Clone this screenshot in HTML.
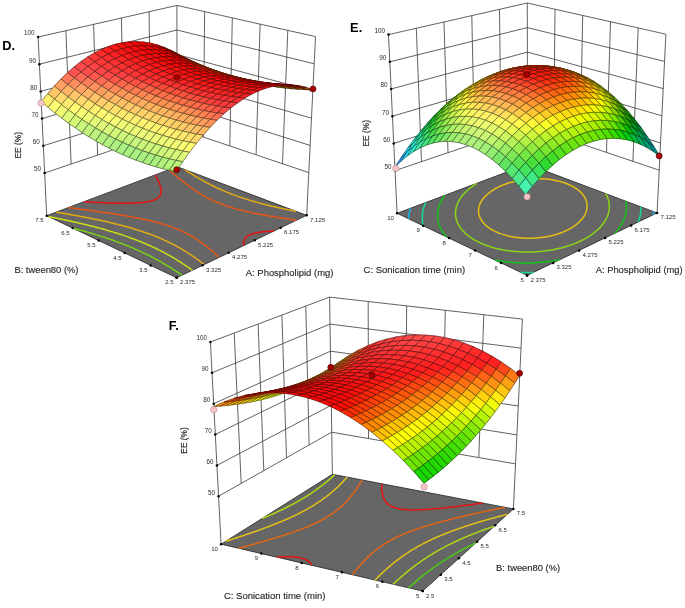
<!DOCTYPE html>
<html><head><meta charset="utf-8"><style>
html,body{margin:0;padding:0;background:#fff;}
body{width:685px;height:608px;overflow:hidden;font-family:"Liberation Sans",sans-serif;}
svg{display:block;filter:blur(0.4px);}
</style></head><body>
<svg width="685" height="608" viewBox="0 0 685 608" font-family="&quot;Liberation Sans&quot;, sans-serif">
<rect width="100%" height="100%" fill="#fff"/>
<polyline points="44.6,173 177.1,128.2 308.8,172.6" stroke="#3a3a3a" stroke-width="0.8" fill="none"/>
<polyline points="43.3,145.8 177,103.6 310.1,145.4" stroke="#3a3a3a" stroke-width="0.8" fill="none"/>
<polyline points="42,118.6 177,79.1 311.5,118.2" stroke="#3a3a3a" stroke-width="0.8" fill="none"/>
<polyline points="40.7,91.4 177,54.5 312.8,91" stroke="#3a3a3a" stroke-width="0.8" fill="none"/>
<polyline points="39.4,64.2 176.9,30 314.2,63.8" stroke="#3a3a3a" stroke-width="0.8" fill="none"/>
<polyline points="38.1,37 176.9,5.4 315.5,36.6" stroke="#3a3a3a" stroke-width="0.8" fill="none"/>
<line x1="71.1" y1="164" x2="65.9" y2="30.7" stroke="#3a3a3a" stroke-width="0.8" fill="none"/>
<line x1="282.5" y1="163.7" x2="287.8" y2="30.4" stroke="#3a3a3a" stroke-width="0.8" fill="none"/>
<line x1="97.6" y1="155.1" x2="93.6" y2="24.4" stroke="#3a3a3a" stroke-width="0.8" fill="none"/>
<line x1="256.1" y1="154.8" x2="260.1" y2="24.1" stroke="#3a3a3a" stroke-width="0.8" fill="none"/>
<line x1="124.1" y1="146.1" x2="121.4" y2="18" stroke="#3a3a3a" stroke-width="0.8" fill="none"/>
<line x1="229.8" y1="145.9" x2="232.3" y2="17.9" stroke="#3a3a3a" stroke-width="0.8" fill="none"/>
<line x1="150.6" y1="137.1" x2="149.1" y2="11.7" stroke="#3a3a3a" stroke-width="0.8" fill="none"/>
<line x1="203.4" y1="137" x2="204.6" y2="11.6" stroke="#3a3a3a" stroke-width="0.8" fill="none"/>
<line x1="46.7" y1="215.7" x2="38.1" y2="37" stroke="#3a3a3a" stroke-width="0.8" fill="none"/>
<line x1="177.1" y1="166.7" x2="176.9" y2="5.4" stroke="#3a3a3a" stroke-width="0.8" fill="none"/>
<line x1="306.7" y1="215.3" x2="315.5" y2="36.6" stroke="#3a3a3a" stroke-width="0.8" fill="none"/>
<polygon points="176.7,277.8 46.7,215.7 177.1,166.7 306.7,215.3" fill="#666666" stroke="#222" stroke-width="0.8"/>
<polyline points="72.5,228 72.8,228.1 73.6,228.3 74.5,228.5 75.1,228.7 75.4,228.8 76.2,229 77.1,229.2 77.8,229.4 77.9,229.5 78.8,229.7 79.6,229.9 80.5,230.1 80.6,230.2 81.3,230.4 82.2,230.6 83,230.8 83.5,231 83.8,231.1 84.7,231.3 85.5,231.5 86.3,231.8 86.4,231.8 87.2,232 88,232.3 88.8,232.5 89.5,232.7 89.6,232.7 90.4,233 91.3,233.2 92.1,233.5 92.8,233.7 92.9,233.7 93.7,233.9 94.5,234.2 95.3,234.4 96.1,234.7 96.2,234.7 96.9,234.9 97.7,235.2 98.5,235.4 99.3,235.7 99.8,235.8 100.1,235.9 100.9,236.2 101.6,236.4 102.4,236.7 103.2,236.9 103.6,237.1 104,237.2 104.7,237.4 105.5,237.7 106.3,237.9 107.1,238.2 107.8,238.5 107.8,238.5 108.6,238.7 109.3,239 110.1,239.2 110.8,239.5 111.6,239.8 112.4,240 112.4,240.1 113.1,240.3 113.8,240.6 114.6,240.8 115.3,241.1 116.1,241.4 116.8,241.6 117.5,241.9 117.8,242 118.3,242.2 119,242.5 119.7,242.7 120.4,243 121.2,243.3 121.9,243.6 122.6,243.8 123.3,244.1 124,244.4 124.6,244.6 124.7,244.7 125.4,245 126.1,245.2 126.8,245.5 127.5,245.8 128.2,246.1 128.9,246.4 129.6,246.7 130.3,247 131,247.2 131.7,247.5 132.4,247.8 133.1,248.1 133.7,248.4 134.4,248.7 135.1,249 135.8,249.3 136,249.4 136.4,249.6 137.1,249.9 137.8,250.2 138.4,250.5 139.1,250.8 139.7,251.1 140.4,251.4 141.1,251.7 141.7,252 142.4,252.3 143,252.6 143.6,252.9 144.3,253.2 144.9,253.5 145.6,253.8 146.2,254.2 146.8,254.5 147.5,254.8 148,255 148.1,255.1 148.7,255.4 149.4,255.7 150,256 150.6,256.4 151.2,256.7 151.8,257 152.5,257.3 153.1,257.6 153.7,258 154.3,258.3 154.9,258.6 155.5,258.9 156.1,259.3 156.7,259.6 157.3,259.9 157.9,260.2 158.5,260.6 158.7,260.7 159.1,260.9 159.7,261.2 160.3,261.6 160.9,261.9 161.5,262.2 162.1,262.6 162.6,262.9 163.2,263.3 163.8,263.6 164.4,263.9 164.6,264.1 165,264.3 165.5,264.6 166.1,265 166.7,265.3 167.2,265.6 167.8,266 168.4,266.3 168.9,266.7 169.2,266.8 169.5,267 170.1,267.4 170.6,267.7 171.2,268.1 171.7,268.4 172.3,268.8 172.8,269.1 173.1,269.3 173.4,269.5 173.9,269.8 174.5,270.2 175,270.5 175.6,270.9 176.1,271.3 176.5,271.5 176.7,271.6 177.2,272 177.7,272.3 178.3,272.7 178.8,273.1 179.4,273.4 179.6,273.6 179.9,273.8 180.4,274.2 180.9,274.5 181.5,274.9 182,275.3" fill="none" stroke="#78d214" stroke-width="1.5"/>
<polyline points="48.7,216.7 49.6,216.8 50.6,217 50.7,217.1 51.5,217.2 52.5,217.4 52.7,217.4 53.5,217.6 54.4,217.8 54.7,217.8 55.4,218 56.3,218.2 56.7,218.2 57.3,218.4 58.2,218.6 58.8,218.7 59.2,218.7 60.1,218.9 60.8,219.1 61.1,219.1 62,219.3 62.9,219.5 63,219.5 63.9,219.7 64.8,219.9 65.1,220 65.8,220.1 66.7,220.3 67.2,220.4 67.6,220.5 68.6,220.7 69.4,220.9 69.5,220.9 70.4,221.1 71.3,221.3 71.6,221.4 72.3,221.5 73.2,221.7 73.8,221.9 74.1,221.9 75,222.1 75.9,222.3 76.1,222.4 76.8,222.5 77.7,222.7 78.4,222.9 78.6,223 79.5,223.2 80.4,223.4 80.8,223.5 81.3,223.6 82.2,223.8 83.1,224 83.2,224 84,224.2 84.9,224.4 85.7,224.6 85.7,224.6 86.6,224.8 87.5,225.1 88.2,225.2 88.4,225.3 89.2,225.5 90.1,225.7 90.8,225.9 91,225.9 91.8,226.1 92.7,226.4 93.4,226.5 93.6,226.6 94.4,226.8 95.3,227 96.1,227.2 96.1,227.3 97,227.5 97.8,227.7 98.7,227.9 99,228 99.5,228.1 100.3,228.4 101.2,228.6 101.9,228.8 102,228.8 102.8,229.1 103.7,229.3 104.5,229.5 104.9,229.6 105.3,229.7 106.1,230 106.9,230.2 107.8,230.4 108.1,230.6 108.6,230.7 109.4,230.9 110.2,231.2 111,231.4 111.5,231.6 111.8,231.6 112.6,231.9 113.4,232.1 114.2,232.4 115,232.6 115.1,232.7 115.7,232.8 116.5,233.1 117.3,233.3 118.1,233.6 118.9,233.8 119,233.9 119.6,234.1 120.4,234.3 121.2,234.6 121.9,234.8 122.7,235.1 123.3,235.3 123.5,235.4 124.2,235.6 125,235.9 125.7,236.1 126.5,236.4 127.2,236.6 127.9,236.9 128.2,237 128.7,237.2 129.4,237.4 130.2,237.7 130.9,238 131.6,238.2 132.3,238.5 133.1,238.8 133.8,239 134.2,239.2 134.5,239.3 135.2,239.6 135.9,239.8 136.6,240.1 137.4,240.4 138.1,240.7 138.8,240.9 139.5,241.2 140.2,241.5 140.8,241.8 141.5,242.1 142.2,242.3 142.9,242.6 143.2,242.8 143.6,242.9 144.3,243.2 145,243.5 145.6,243.8 146.3,244.1 147,244.4 147.6,244.7 148.3,244.9 149,245.2 149.6,245.5 150.3,245.8 150.9,246.1 151.6,246.4 152.2,246.7 152.9,247 153.5,247.3 154.2,247.6 154.8,247.9 155.5,248.2 156.1,248.5 156.7,248.8 157.4,249.2 158,249.5 158.6,249.8 159.2,250.1 159.9,250.4 160.5,250.7 160.5,250.7 161.1,251 161.7,251.3 162.3,251.7 162.9,252 163.5,252.3 164.1,252.6 164.7,252.9 165.3,253.3 165.9,253.6 166.5,253.9 167.1,254.2 167.7,254.6 168.3,254.9 168.7,255.1 168.9,255.2 169.5,255.5 170.1,255.9 170.6,256.2 171.2,256.5 171.8,256.9 172.4,257.2 172.9,257.5 173.5,257.9 173.9,258.1 174.1,258.2 174.7,258.6 175.2,258.9 175.8,259.2 176.3,259.6 176.9,259.9 177.5,260.3 178,260.6 178,260.6 178.6,261 179.1,261.3 179.7,261.7 180.2,262 180.8,262.4 181.3,262.7 181.5,262.9 181.8,263.1 182.4,263.4 182.9,263.8 183.5,264.1 184,264.5 184.5,264.8 184.6,264.9 185.1,265.2 185.6,265.5 186.1,265.9 186.6,266.3 187.2,266.6 187.4,266.8 187.7,267 188.2,267.4 188.7,267.7 189.2,268.1 189.8,268.4 190,268.6 190.3,268.8 190.8,269.2 191.3,269.5 191.8,269.9 192.3,270.3" fill="none" stroke="#cce014" stroke-width="1.5"/>
<polyline points="296.2,211.4 295.5,211.2 294.7,211.1 293.9,210.9 293.2,210.8 293.1,210.8 292.3,210.6 291.4,210.4 290.6,210.3 290,210.1 289.8,210.1 289,209.9 288.2,209.8 287.4,209.6 286.8,209.5 286.5,209.4 285.7,209.3 284.9,209.1 284.1,208.9 283.5,208.8 283.3,208.8 282.5,208.6 281.7,208.4 280.9,208.2 280.1,208.1 280.1,208.1 279.3,207.9 278.5,207.7 277.7,207.5 276.9,207.3 276.6,207.3 276.1,207.2 275.4,207 274.6,206.8 273.8,206.6 273,206.4 272.9,206.4 272.2,206.3 271.4,206.1 270.7,205.9 269.9,205.7 269.1,205.5 269,205.5 268.3,205.3 267.6,205.1 266.8,204.9 266,204.7 265.3,204.5 264.8,204.4 264.5,204.4 263.8,204.2 263,204 262.2,203.8 261.5,203.6 260.7,203.4 260.2,203.2 260,203.2 259.2,203 258.5,202.8 257.8,202.6 257,202.3 256.3,202.1 255.6,201.9 254.9,201.8 254.8,201.7 254.1,201.5 253.4,201.3 252.6,201.1 251.9,200.9 251.2,200.7 250.5,200.4 249.8,200.2 249,200 248.5,199.8 248.3,199.8 247.6,199.6 246.9,199.3 246.2,199.1 245.5,198.9 244.8,198.7 244.1,198.4 243.4,198.2 242.7,198 242,197.8 241.4,197.5 240.7,197.3 240,197.1 239.3,196.8 238.6,196.6 238.1,196.4 238,196.4 237.3,196.1 236.6,195.9 236,195.6 235.3,195.4 234.6,195.2 234,194.9 233.3,194.7 232.7,194.4 232,194.2 231.4,193.9 230.7,193.7 230.1,193.4 229.5,193.2 228.8,192.9 228.2,192.7 227.6,192.4 226.9,192.2 226.3,191.9 226.1,191.8 225.7,191.6 225.1,191.4 224.4,191.1 223.8,190.9 223.2,190.6 222.6,190.3 222,190.1 221.4,189.8 220.8,189.5 220.2,189.3 219.6,189 219,188.7 218.4,188.5 217.8,188.2 217.2,187.9 217,187.8 216.6,187.7 216,187.4 215.5,187.1 214.9,186.8 214.3,186.6 213.7,186.3 213.2,186 212.6,185.7 212,185.4 211.9,185.4 211.5,185.2 210.9,184.9 210.3,184.6 209.8,184.3 209.2,184 208.7,183.7 208.1,183.5 207.9,183.3 207.6,183.2 207,182.9 206.5,182.6 205.9,182.3 205.4,182 204.9,181.7 204.6,181.6 204.3,181.4 203.8,181.1 203.3,180.8 202.7,180.6 202.2,180.3 201.7,180 201.6,179.9 201.2,179.7 200.6,179.4 200.1,179.1 199.6,178.8 199.1,178.5 199,178.4 198.6,178.2 198.1,177.9 197.6,177.6 197,177.3 196.6,177 196.5,177 196,176.7 195.5,176.4 195,176.1 194.5,175.8 194.4,175.7 194,175.5 193.5,175.2 193,174.9 192.6,174.6 192.3,174.4 192.1,174.2 191.6,173.9 191.1,173.6 190.6,173.3 190.3,173.1 190.1,173 189.6,172.7 189.2,172.4 188.7,172.1 188.4,171.9 188.2,171.8 187.7,171.5 187.2,171.2 186.8,170.9 186.6,170.8 186.3,170.5 185.8,170.2 185.4,169.9 184.9,169.6" fill="none" stroke="#e5aa14" stroke-width="1.5"/>
<polyline points="56.2,212.1 57.1,212.3 57.2,212.3 58.2,212.5 58.9,212.6 59.2,212.7 60.2,212.8 60.7,212.9 61.2,213 62.2,213.2 62.5,213.2 63.2,213.3 64.2,213.5 64.4,213.5 65.2,213.7 66.2,213.8 66.3,213.8 67.2,214 68.1,214.2 68.2,214.2 69.2,214.4 70,214.5 70.2,214.5 71.2,214.7 72,214.8 72.2,214.9 73.1,215.1 73.9,215.2 74.1,215.2 75.1,215.4 75.8,215.5 76.1,215.6 77,215.8 77.8,215.9 78,215.9 79,216.1 79.8,216.3 79.9,216.3 80.9,216.5 81.8,216.6 81.9,216.7 82.8,216.8 83.8,217 83.8,217 84.7,217.2 85.7,217.4 85.9,217.4 86.6,217.6 87.6,217.8 88,217.8 88.5,217.9 89.5,218.1 90.1,218.3 90.4,218.3 91.3,218.5 92.2,218.7 92.3,218.7 93.2,218.9 94.1,219.1 94.4,219.1 95,219.3 96,219.4 96.6,219.6 96.9,219.6 97.8,219.8 98.7,220 98.9,220.1 99.6,220.2 100.5,220.4 101.1,220.5 101.4,220.6 102.3,220.8 103.2,221 103.5,221.1 104.1,221.2 105,221.4 105.9,221.6 105.9,221.6 106.8,221.8 107.7,222 108.3,222.1 108.6,222.2 109.5,222.4 110.3,222.6 110.8,222.7 111.2,222.8 112.1,223 112.9,223.2 113.4,223.3 113.8,223.4 114.7,223.7 115.5,223.9 116.1,224 116.4,224.1 117.2,224.3 118.1,224.5 118.8,224.7 118.9,224.7 119.8,224.9 120.6,225.1 121.5,225.4 121.7,225.4 122.3,225.6 123.1,225.8 124,226 124.7,226.2 124.8,226.3 125.6,226.5 126.4,226.7 127.2,226.9 127.9,227.1 128,227.2 128.9,227.4 129.7,227.6 130.5,227.8 131.3,228.1 131.3,228.1 132.1,228.3 132.8,228.5 133.6,228.8 134.4,229 134.9,229.2 135.2,229.3 136,229.5 136.8,229.7 137.5,230 138.3,230.2 139,230.5 139.1,230.5 139.8,230.7 140.6,231 141.3,231.2 142.1,231.5 142.8,231.7 143.6,232 143.7,232 144.3,232.2 145.1,232.5 145.8,232.7 146.5,233 147.3,233.2 148,233.5 148.7,233.8 149.4,234 149.7,234.1 150.1,234.3 150.9,234.6 151.6,234.8 152.3,235.1 153,235.4 153.7,235.6 154.4,235.9 155.1,236.2 155.7,236.5 156.4,236.7 157.1,237 157.8,237.3 158.5,237.6 159.1,237.8 159.8,238.1 160.5,238.4 161,238.6 161.1,238.7 161.8,239 162.5,239.3 163.1,239.6 163.8,239.9 164.4,240.2 165.1,240.5 165.7,240.7 166.3,241 166.4,241.1 167,241.3 167.6,241.6 168.2,241.9 168.9,242.2 169.5,242.6 170.1,242.9 170.7,243.2 171.3,243.5 172,243.8 172.6,244.1 173.2,244.4 173.8,244.7 174.4,245 175,245.4 175.6,245.7 176.2,246 176.7,246.3 176.9,246.4 177.3,246.6 177.9,247 178.5,247.3 179.1,247.6 179.7,247.9 180.2,248.3 180.8,248.6 181.4,248.9 181.9,249.2 182,249.3 182.5,249.6 183.1,249.9 183.6,250.2 184.2,250.6 184.7,250.9 185.3,251.3 185.8,251.6 185.9,251.6 186.4,251.9 186.9,252.3 187.5,252.6 188,253 188.5,253.3 189.1,253.7 189.1,253.7 189.6,254 190.1,254.4 190.7,254.7 191.2,255.1 191.7,255.4 192,255.6 192.2,255.8 192.8,256.1 193.3,256.5 193.8,256.8 194.3,257.2 194.6,257.4 194.8,257.5 195.3,257.9 195.9,258.3 196.4,258.6 196.9,259 196.9,259 197.4,259.4 197.9,259.7 198.4,260.1 198.9,260.5 199.1,260.6 199.4,260.8 199.9,261.2 200.4,261.6 200.8,261.9 201.1,262.2 201.3,262.3 201.8,262.7 202.3,263.1 202.8,263.4 203.1,263.6 203.3,263.8 203.8,264.2 204.2,264.6" fill="none" stroke="#e5aa14" stroke-width="1.5"/>
<polyline points="296.6,220.2 295.7,220 295.5,220 294.8,219.9 293.9,219.8 293.2,219.7 293,219.6 292.1,219.5 291.2,219.4 290.9,219.4 290.3,219.3 289.4,219.1 288.6,219 288.5,219 287.6,218.9 286.7,218.7 286.2,218.7 285.8,218.6 284.9,218.5 284,218.3 283.9,218.3 283.1,218.2 282.2,218.1 281.5,218 281.3,217.9 280.4,217.8 279.6,217.7 279.1,217.6 278.7,217.5 277.8,217.4 276.9,217.2 276.7,217.2 276,217.1 275.1,217 274.2,216.8 274.2,216.8 273.4,216.7 272.5,216.5 271.7,216.4 271.6,216.4 270.7,216.2 269.9,216.1 269.2,216 269,215.9 268.1,215.8 267.3,215.6 266.7,215.5 266.4,215.5 265.5,215.3 264.7,215.2 264,215.1 263.8,215 262.9,214.9 262.1,214.7 261.4,214.6 261.2,214.6 260.4,214.4 259.5,214.2 258.7,214.1 258.6,214.1 257.8,213.9 257,213.8 256.2,213.6 255.8,213.5 255.3,213.4 254.5,213.2 253.7,213.1 252.8,212.9 252.8,212.9 252,212.7 251.2,212.6 250.4,212.4 249.7,212.2 249.6,212.2 248.7,212 247.9,211.8 247.1,211.7 246.4,211.5 246.3,211.5 245.5,211.3 244.7,211.1 243.9,210.9 243.1,210.7 242.9,210.7 242.4,210.5 241.6,210.3 240.8,210.1 240,209.9 239.2,209.7 239,209.7 238.5,209.5 237.7,209.3 237,209.1 236.2,208.9 235.4,208.7 234.7,208.5 234.5,208.4 234,208.3 233.2,208.1 232.5,207.8 231.7,207.6 231,207.4 230.3,207.2 229.6,206.9 228.9,206.7 228.4,206.6 228.2,206.5 227.5,206.3 226.8,206 226.1,205.8 225.4,205.6 224.7,205.3 224,205.1 223.3,204.8 222.7,204.6 222,204.3 221.3,204.1 220.7,203.8 220,203.6 219.4,203.3 218.7,203.1 218.1,202.8 217.4,202.5 216.8,202.3 216.2,202 215.6,201.7 215,201.5 214.3,201.2 213.7,200.9 213.1,200.7 212.5,200.4 211.9,200.1 211.5,199.9 211.3,199.8 210.8,199.5 210.2,199.2 209.6,199 209,198.7 208.4,198.4 207.9,198.1 207.3,197.8 206.8,197.5 206.6,197.4 206.2,197.2 205.7,196.9 205.1,196.6 204.6,196.3 204,196 203.5,195.7 203.2,195.6 203,195.4 202.4,195.1 201.9,194.8 201.4,194.5 200.9,194.2 200.5,194 200.3,193.9 199.8,193.6 199.3,193.3 198.8,192.9 198.3,192.6 198.1,192.5 197.8,192.3 197.3,192 196.8,191.7 196.3,191.4 196,191.2 195.8,191 195.4,190.7 194.9,190.4 194.4,190.1 194.1,189.9 193.9,189.7 193.4,189.4 193,189.1 192.5,188.8 192.4,188.7 192,188.4 191.6,188.1 191.1,187.8 190.7,187.5 190.6,187.5 190.2,187.1 189.7,186.8 189.3,186.5 189.2,186.4 188.8,186.1 188.4,185.8 187.9,185.5 187.7,185.3 187.5,185.1 187,184.8 186.6,184.5 186.3,184.2 186.1,184.1 185.7,183.8 185.3,183.5 184.9,183.2 184.8,183.1 184.4,182.8 183.9,182.5 183.6,182.2 183.5,182.1 183.1,181.8 182.7,181.4 182.3,181.2 182.2,181.1 181.8,180.8 181.4,180.4 181.1,180.2 181,180.1 180.5,179.7 180.1,179.4 179.9,179.2 179.7,179.1 179.3,178.7 178.9,178.4 178.7,178.3 178.5,178 178,177.7 177.6,177.4 177.6,177.3 177.2,177 176.8,176.7 176.5,176.4 176.4,176.3 176,176 175.6,175.6 175.4,175.5 175.2,175.3 174.8,175 174.4,174.6 174.3,174.5 174,174.3 173.6,173.9 173.2,173.6 173.2,173.6 172.8,173.2 172.4,172.9 172.2,172.7 172,172.6 171.6,172.2 171.2,171.9 171.2,171.9 170.8,171.5 170.4,171.2 170.2,171 170,170.8 169.6,170.5 169.2,170.1 169.2,170.1 168.8,169.8" fill="none" stroke="#e55614" stroke-width="1.5"/>
<polyline points="68.4,207.6 69.5,207.7 69.6,207.7 70.5,207.8 71.3,207.9 71.6,208 72.7,208.1 72.9,208.1 73.8,208.2 74.6,208.4 74.8,208.4 75.9,208.5 76.2,208.6 77,208.7 77.9,208.8 78,208.8 79.1,208.9 79.6,209 80.1,209.1 81.2,209.2 81.3,209.2 82.3,209.4 83,209.5 83.3,209.5 84.4,209.6 84.7,209.7 85.4,209.8 86.4,209.9 86.5,209.9 87.5,210.1 88.1,210.1 88.6,210.2 89.6,210.4 89.8,210.4 90.7,210.5 91.5,210.6 91.7,210.6 92.7,210.8 93.3,210.9 93.8,210.9 94.8,211.1 95,211.1 95.8,211.2 96.8,211.4 96.9,211.4 97.9,211.5 98.6,211.6 98.9,211.7 99.9,211.8 100.4,211.9 101,212 102,212.1 102.1,212.1 103,212.3 104,212.4 104,212.4 105,212.5 105.8,212.7 106,212.7 107,212.8 107.6,212.9 108,213 109,213.2 109.5,213.2 110,213.3 111,213.5 111.3,213.5 112,213.6 113,213.8 113.2,213.8 114,213.9 115,214.1 115.1,214.1 116,214.2 117,214.4 117,214.4 118,214.5 118.9,214.7 119,214.7 119.9,214.9 120.9,215 120.9,215 121.8,215.2 122.8,215.3 122.9,215.4 123.8,215.5 124.7,215.7 124.9,215.7 125.7,215.8 126.6,216 127,216.1 127.6,216.2 128.5,216.3 129.1,216.4 129.5,216.5 130.4,216.7 131.2,216.8 131.3,216.8 132.3,217 133.2,217.2 133.3,217.2 134.1,217.4 135.1,217.5 135.5,217.6 136,217.7 136.9,217.9 137.8,218.1 137.8,218.1 138.7,218.3 139.6,218.4 140.1,218.5 140.5,218.6 141.4,218.8 142.3,219 142.5,219 143.2,219.2 144.1,219.4 144.9,219.6 145,219.6 145.8,219.7 146.7,219.9 147.5,220.1 147.5,220.1 148.4,220.3 149.3,220.5 150.1,220.7 150.2,220.8 151,220.9 151.8,221.1 152.6,221.3 153.1,221.4 153.5,221.5 154.3,221.8 155.1,222 156,222.2 156.1,222.2 156.8,222.4 157.6,222.6 158.4,222.8 159.2,223 159.4,223.1 160,223.3 160.8,223.5 161.6,223.7 162.3,223.9 163.1,224.2 163.2,224.2 163.9,224.4 164.6,224.6 165.4,224.9 166.2,225.1 166.9,225.4 167.6,225.6 167.9,225.7 168.4,225.8 169.1,226.1 169.8,226.3 170.6,226.6 171.3,226.8 172,227.1 172.7,227.4 173.4,227.6 174.1,227.9 174.8,228.1 175.4,228.4 175.5,228.4 176.2,228.7 176.8,229 177.5,229.2 178.2,229.5 178.8,229.8 179.5,230.1 180.1,230.3 180.8,230.6 181.4,230.9 182,231.2 182.7,231.5 183.3,231.8 183.9,232.1 183.9,232.1 184.5,232.4 185.1,232.7 185.7,233 186.3,233.3 186.9,233.6 187.5,233.9 188.1,234.2 188.7,234.5 189.3,234.9 189.8,235.2 190.4,235.5 190.5,235.6 191,235.8 191.5,236.1 192.1,236.5 192.7,236.8 193.2,237.1 193.7,237.4 194.3,237.8 194.3,237.8 194.8,238.1 195.4,238.4 195.9,238.8 196.4,239.1 196.9,239.5 197.2,239.6 197.5,239.8 198,240.1 198.5,240.5 199,240.8 199.5,241.2 199.6,241.3 200,241.5 200.5,241.9 201,242.2 201.5,242.6 201.8,242.8 202,243 202.5,243.3 203,243.7 203.5,244 203.7,244.2 203.9,244.4 204.4,244.8 204.9,245.1 205.4,245.5 205.5,245.6 205.8,245.9 206.3,246.2 206.8,246.6 207.2,246.9 207.2,247 207.7,247.3 208.2,247.7 208.6,248.1 208.8,248.2 209.1,248.5 209.5,248.9 210,249.2 210.3,249.5 210.4,249.6 210.9,250 211.3,250.4 211.7,250.7 211.8,250.8 212.2,251.1 212.7,251.5 213.1,251.9 213.1,251.9 213.5,252.3 214,252.7 214.4,253.1 214.4,253.1 214.8,253.5 215.3,253.9 215.7,254.2 215.7,254.3 216.1,254.6 216.6,255 216.9,255.4 217,255.4 217.4,255.8 217.8,256.2 218.2,256.5 218.2,256.6 218.7,257 219.1,257.4" fill="none" stroke="#e55614" stroke-width="1.5"/>
<polyline points="273.9,231.1 273.2,231.1 272.6,231.1 271.9,231.2 271.3,231.2 270.6,231.2 270,231.2 269.4,231.3 268.6,231.3 268.1,231.4 267.2,231.4 266.9,231.4 265.8,231.5 265.7,231.5 264.6,231.6 264.3,231.7 263.5,231.8 262.7,231.8 262.3,231.9 261.3,232 261.1,232 260.2,232.2 259.4,232.3 259.2,232.3 258.2,232.5 257.5,232.6 257.2,232.7 256.3,232.9 255.4,233.1 255.3,233.1 254.5,233.3 253.7,233.5 252.9,233.8 252.2,234 252.1,234 251.4,234.3 250.7,234.6 250,234.9 249.3,235.2 248.7,235.5 248.2,235.8 248,236 247.6,236.2 247.1,236.6 246.7,237 246.2,237.4 246.2,237.4 245.8,237.8 245.5,238.2 245.3,238.4 245.1,238.6 244.8,239.1 244.7,239.2 244.6,239.6 244.3,240 244.3,240 244.1,240.5 244,240.7 243.9,241 243.8,241.4 243.8,241.6 243.7,242.1 243.7,242.1 243.6,242.6 243.6,242.7 243.5,243.2 243.5,243.3 243.5,243.8 243.5,243.9 243.5,244.4 243.5,244.5 243.5,245 243.5,245.1 243.5,245.6 243.5,245.7" fill="none" stroke="#e51414" stroke-width="1.5"/>
<polyline points="84,201.7 85.1,201.8 85.2,201.8 86.4,201.8 86.5,201.9 87.6,201.9 87.9,201.9 88.9,202 89.3,202 90.1,202.1 90.7,202.1 91.3,202.1 92.1,202.2 92.5,202.2 93.5,202.3 93.8,202.3 94.8,202.3 95,202.3 96.2,202.4 96.2,202.4 97.5,202.5 97.6,202.5 98.7,202.5 98.9,202.5 100,202.6 100.3,202.6 101.2,202.7 101.7,202.7 102.5,202.7 103,202.7 103.7,202.8 104.4,202.8 105,202.8 105.7,202.8 106.2,202.9 107.1,202.9 107.5,202.9 108.4,203 108.8,203 109.7,203 110,203 111.1,203 111.3,203.1 112.4,203.1 112.6,203.1 113.7,203.1 113.9,203.1 115,203.2 115.2,203.2 116.3,203.2 116.5,203.2 117.6,203.2 117.8,203.2 118.9,203.2 119.1,203.2 120.2,203.3 120.4,203.3 121.4,203.3 121.8,203.3 122.7,203.3 123.1,203.3 124,203.3 124.5,203.3 125.2,203.3 125.8,203.3 126.4,203.3 127.2,203.3 127.6,203.3 128.6,203.2 128.9,203.2 130.1,203.2 130.1,203.2 131.2,203.2 131.5,203.2 132.4,203.2 133,203.1 133.6,203.1 134.5,203.1 134.7,203.1 135.8,203 136,203 136.9,202.9 137.6,202.9 138,202.9 139.1,202.8 139.2,202.8 140.2,202.7 141,202.6 141.2,202.6 142.2,202.5 142.8,202.5 143.2,202.4 144.2,202.3 144.7,202.2 145.2,202.2 146.1,202 146.9,201.9 147,201.9 147.9,201.7 148.8,201.5 149.5,201.4 149.6,201.3 150.4,201.2 151.2,200.9 151.9,200.7 152.7,200.5 153.4,200.3 154,200 154.7,199.7 155.3,199.5 155.9,199.2 156.4,198.9 156.9,198.5 157.4,198.2 157.5,198.2 157.9,197.9 158.3,197.5 158.7,197.2 158.7,197.2 159.1,196.8 159.4,196.4 159.4,196.3 159.7,196 159.9,195.6 160,195.6 160.2,195.1 160.3,194.9 160.4,194.7 160.6,194.3 160.6,194.3 160.8,193.8 160.8,193.7 160.9,193.3 160.9,193.1 161,192.8 161,192.5 161.1,192.3 161.1,192 161.1,191.8 161.2,191.5 161.2,191.3 161.2,190.9 161.2,190.8 161.1,190.4 161.1,190.3 161.1,189.9 161.1,189.7 161.1,189.4 161,189.2 161,188.9 160.9,188.6 160.9,188.5 160.8,188.1 160.8,188 160.7,187.5 160.7,187.5 160.6,187 160.6,186.9 160.5,186.6 160.4,186.4 160.3,186.1 160.2,185.8 160.2,185.7 160,185.2 160,185.2 159.9,184.8 159.8,184.6 159.7,184.3 159.6,184 159.5,183.9 159.3,183.4 159.3,183.3 159.2,183 159,182.7 159,182.6 158.8,182.1 158.8,182.1 158.6,181.7 158.5,181.5 158.4,181.3 158.2,180.9 158.2,180.8 157.9,180.4 157.9,180.2 157.7,180 157.5,179.6 157.5,179.6 157.3,179.1 157.2,178.9 157.1,178.7 156.8,178.3 156.8,178.3 156.6,177.9 156.5,177.6 156.4,177.5 156.1,177.1 156.1,177 155.9,176.7 155.7,176.3 155.7,176.3 155.4,175.8 155.3,175.7 155.2,175.4 154.9,175" fill="none" stroke="#e51414" stroke-width="1.5"/>
<polygon points="176.9,53.6 170.1,50 177,53.6 183.8,57.2" fill="#993a00" stroke="#401800" stroke-width="0.75" stroke-linejoin="round"/>
<polygon points="183.7,57.1 176.9,53.6 183.8,57.2 190.5,60.6" fill="#9a4600" stroke="#411e00" stroke-width="0.75" stroke-linejoin="round"/>
<polygon points="170.1,50.7 163.3,47 170.1,50 176.9,53.6" fill="#ba1a00" stroke="#4e0b00" stroke-width="0.75" stroke-linejoin="round"/>
<polygon points="190.5,60.4 183.7,57.1 190.5,60.6 197.3,63.8" fill="#9b5100" stroke="#412200" stroke-width="0.75" stroke-linejoin="round"/>
<polygon points="163.2,48.5 156.4,44.6 163.3,47 170.1,50.7" fill="#db0000" stroke="#5c0000" stroke-width="0.75" stroke-linejoin="round"/>
<polygon points="176.9,54.3 170.1,50.7 176.9,53.6 183.7,57.1" fill="#bb2900" stroke="#4e1100" stroke-width="0.75" stroke-linejoin="round"/>
<polygon points="197.3,63.4 190.5,60.4 197.3,63.8 204.1,66.8" fill="#9b5b00" stroke="#412600" stroke-width="0.75" stroke-linejoin="round"/>
<polygon points="156.3,46.9 149.5,42.9 156.4,44.6 163.2,48.5" fill="#fd0000" stroke="#6a0000" stroke-width="0.75" stroke-linejoin="round"/>
<polygon points="183.7,57.6 176.9,54.3 183.7,57.1 190.5,60.4" fill="#bb3700" stroke="#4f1700" stroke-width="0.75" stroke-linejoin="round"/>
<polygon points="170.1,52.1 163.2,48.5 170.1,50.7 176.9,54.3" fill="#dc0400" stroke="#5d0200" stroke-width="0.75" stroke-linejoin="round"/>
<polygon points="204.1,66.3 197.3,63.4 204.1,66.8 210.9,69.6" fill="#9c6300" stroke="#412a00" stroke-width="0.75" stroke-linejoin="round"/>
<polygon points="149.5,46 142.6,41.9 149.5,42.9 156.3,46.9" fill="#ff0101" stroke="#6b0101" stroke-width="0.75" stroke-linejoin="round"/>
<polygon points="190.5,60.8 183.7,57.6 190.5,60.4 197.3,63.4" fill="#bc4300" stroke="#4f1c00" stroke-width="0.75" stroke-linejoin="round"/>
<polygon points="163.2,50.6 156.3,46.9 163.2,48.5 170.1,52.1" fill="#ff0101" stroke="#6b0000" stroke-width="0.75" stroke-linejoin="round"/>
<polygon points="176.9,55.6 170.1,52.1 176.9,54.3 183.7,57.6" fill="#dd1500" stroke="#5d0900" stroke-width="0.75" stroke-linejoin="round"/>
<polygon points="210.9,69 204.1,66.3 210.9,69.6 217.6,72.2" fill="#9c6900" stroke="#422c00" stroke-width="0.75" stroke-linejoin="round"/>
<polygon points="142.6,45.7 135.7,41.6 142.6,41.9 149.5,46" fill="#ff0303" stroke="#6b0101" stroke-width="0.75" stroke-linejoin="round"/>
<polygon points="197.3,63.7 190.5,60.8 197.3,63.4 204.1,66.3" fill="#bd4d00" stroke="#4f2000" stroke-width="0.75" stroke-linejoin="round"/>
<polygon points="156.3,49.8 149.5,46 156.3,46.9 163.2,50.6" fill="#ff0101" stroke="#6b0101" stroke-width="0.75" stroke-linejoin="round"/>
<polygon points="183.7,58.8 176.9,55.6 183.7,57.6 190.5,60.8" fill="#de2300" stroke="#5d0f00" stroke-width="0.75" stroke-linejoin="round"/>
<polygon points="170,54.2 163.2,50.6 170.1,52.1 176.9,55.6" fill="#ff0101" stroke="#6b0000" stroke-width="0.75" stroke-linejoin="round"/>
<polygon points="217.7,71.5 210.9,69 217.6,72.2 224.4,74.6" fill="#9d6e00" stroke="#422e00" stroke-width="0.75" stroke-linejoin="round"/>
<polygon points="135.7,46.1 128.8,41.8 135.7,41.6 142.6,45.7" fill="#ff0606" stroke="#6b0202" stroke-width="0.75" stroke-linejoin="round"/>
<polygon points="204.1,66.5 197.3,63.7 204.1,66.3 210.9,69" fill="#bd5500" stroke="#502400" stroke-width="0.75" stroke-linejoin="round"/>
<polygon points="149.4,49.7 142.6,45.7 149.5,46 156.3,49.8" fill="#ff0303" stroke="#6b0101" stroke-width="0.75" stroke-linejoin="round"/>
<polygon points="190.5,61.8 183.7,58.8 190.5,60.8 197.3,63.7" fill="#df3000" stroke="#5e1400" stroke-width="0.75" stroke-linejoin="round"/>
<polygon points="163.2,53.4 156.3,49.8 163.2,50.6 170,54.2" fill="#ff0202" stroke="#6b0101" stroke-width="0.75" stroke-linejoin="round"/>
<polygon points="176.8,57.5 170,54.2 176.9,55.6 183.7,58.8" fill="#ff0101" stroke="#6b0000" stroke-width="0.75" stroke-linejoin="round"/>
<polygon points="224.4,73.7 217.7,71.5 224.4,74.6 231.1,76.8" fill="#9d7200" stroke="#423000" stroke-width="0.75" stroke-linejoin="round"/>
<polygon points="128.8,47.2 121.9,42.8 128.8,41.8 135.7,46.1" fill="#ff0a0a" stroke="#6b0404" stroke-width="0.75" stroke-linejoin="round"/>
<polygon points="210.9,69 204.1,66.5 210.9,69 217.7,71.5" fill="#be5c00" stroke="#502700" stroke-width="0.75" stroke-linejoin="round"/>
<polygon points="142.5,50.2 135.7,46.1 142.6,45.7 149.4,49.7" fill="#ff0606" stroke="#6b0303" stroke-width="0.75" stroke-linejoin="round"/>
<polygon points="197.3,64.7 190.5,61.8 197.3,63.7 204.1,66.5" fill="#e03a00" stroke="#5e1800" stroke-width="0.75" stroke-linejoin="round"/>
<polygon points="156.3,53.4 149.4,49.7 156.3,49.8 163.2,53.4" fill="#ff0303" stroke="#6b0101" stroke-width="0.75" stroke-linejoin="round"/>
<polygon points="183.7,60.6 176.8,57.5 183.7,58.8 190.5,61.8" fill="#ff0e01" stroke="#6b0600" stroke-width="0.75" stroke-linejoin="round"/>
<polygon points="170,56.9 163.2,53.4 170,54.2 176.8,57.5" fill="#ff0202" stroke="#6b0101" stroke-width="0.75" stroke-linejoin="round"/>
<polygon points="231.2,75.8 224.4,73.7 231.1,76.8 237.9,78.8" fill="#9d7400" stroke="#423100" stroke-width="0.75" stroke-linejoin="round"/>
<polygon points="121.9,48.8 115,44.3 121.9,42.8 128.8,47.2" fill="#ff1010" stroke="#6b0707" stroke-width="0.75" stroke-linejoin="round"/>
<polygon points="217.7,71.4 210.9,69 217.7,71.5 224.4,73.7" fill="#be6100" stroke="#502900" stroke-width="0.75" stroke-linejoin="round"/>
<polygon points="135.7,51.3 128.8,47.2 135.7,46.1 142.5,50.2" fill="#ff0b0b" stroke="#6b0505" stroke-width="0.75" stroke-linejoin="round"/>
<polygon points="204.1,67.3 197.3,64.7 204.1,66.5 210.9,69" fill="#e04200" stroke="#5e1c00" stroke-width="0.75" stroke-linejoin="round"/>
<polygon points="149.4,54 142.5,50.2 149.4,49.7 156.3,53.4" fill="#ff0707" stroke="#6b0303" stroke-width="0.75" stroke-linejoin="round"/>
<polygon points="190.5,63.5 183.7,60.6 190.5,61.8 197.3,64.7" fill="#ff1a01" stroke="#6b0b00" stroke-width="0.75" stroke-linejoin="round"/>
<polygon points="163.1,56.9 156.3,53.4 163.2,53.4 170,56.9" fill="#ff0404" stroke="#6b0202" stroke-width="0.75" stroke-linejoin="round"/>
<polygon points="176.8,60.1 170,56.9 176.8,57.5 183.7,60.6" fill="#ff0202" stroke="#6b0101" stroke-width="0.75" stroke-linejoin="round"/>
<polygon points="238,77.8 231.2,75.8 237.9,78.8 244.7,80.7" fill="#9d7500" stroke="#423100" stroke-width="0.75" stroke-linejoin="round"/>
<polygon points="115.1,51.1 108.2,46.6 115,44.3 121.9,48.8" fill="#ff1818" stroke="#6b0a0a" stroke-width="0.75" stroke-linejoin="round"/>
<polygon points="224.5,73.6 217.7,71.4 224.4,73.7 231.2,75.8" fill="#bf6400" stroke="#502a00" stroke-width="0.75" stroke-linejoin="round"/>
<polygon points="128.8,53.1 121.9,48.8 128.8,47.2 135.7,51.3" fill="#ff1111" stroke="#6b0707" stroke-width="0.75" stroke-linejoin="round"/>
<polygon points="210.9,69.7 204.1,67.3 210.9,69 217.7,71.4" fill="#e14800" stroke="#5e1e00" stroke-width="0.75" stroke-linejoin="round"/>
<polygon points="142.5,55.2 135.7,51.3 142.5,50.2 149.4,54" fill="#ff0c0c" stroke="#6b0505" stroke-width="0.75" stroke-linejoin="round"/>
<polygon points="197.3,66.2 190.5,63.5 197.3,64.7 204.1,67.3" fill="#ff2401" stroke="#6b0f00" stroke-width="0.75" stroke-linejoin="round"/>
<polygon points="156.2,57.6 149.4,54 156.3,53.4 163.1,56.9" fill="#ff0707" stroke="#6b0303" stroke-width="0.75" stroke-linejoin="round"/>
<polygon points="183.6,63.1 176.8,60.1 183.7,60.6 190.5,63.5" fill="#ff0202" stroke="#6b0101" stroke-width="0.75" stroke-linejoin="round"/>
<polygon points="169.9,60.2 163.1,56.9 170,56.9 176.8,60.1" fill="#ff0404" stroke="#6b0202" stroke-width="0.75" stroke-linejoin="round"/>
<polygon points="244.8,79.5 238,77.8 244.7,80.7 251.5,82.3" fill="#9e7500" stroke="#423100" stroke-width="0.75" stroke-linejoin="round"/>
<polygon points="108.2,54.1 101.3,49.4 108.2,46.6 115.1,51.1" fill="#ff2121" stroke="#6b0e0e" stroke-width="0.75" stroke-linejoin="round"/>
<polygon points="231.3,75.5 224.5,73.6 231.2,75.8 238,77.8" fill="#bf6500" stroke="#502a00" stroke-width="0.75" stroke-linejoin="round"/>
<polygon points="121.9,55.5 115.1,51.1 121.9,48.8 128.8,53.1" fill="#ff1a1a" stroke="#6b0b0b" stroke-width="0.75" stroke-linejoin="round"/>
<polygon points="217.7,72 210.9,69.7 217.7,71.4 224.5,73.6" fill="#e14d00" stroke="#5f2000" stroke-width="0.75" stroke-linejoin="round"/>
<polygon points="135.7,57.1 128.8,53.1 135.7,51.3 142.5,55.2" fill="#ff1212" stroke="#6b0808" stroke-width="0.75" stroke-linejoin="round"/>
<polygon points="204.1,68.8 197.3,66.2 204.1,67.3 210.9,69.7" fill="#ff2b01" stroke="#6b1200" stroke-width="0.75" stroke-linejoin="round"/>
<polygon points="149.4,58.9 142.5,55.2 149.4,54 156.2,57.6" fill="#ff0c0c" stroke="#6b0505" stroke-width="0.75" stroke-linejoin="round"/>
<polygon points="190.4,65.9 183.6,63.1 190.5,63.5 197.3,66.2" fill="#ff0602" stroke="#6b0201" stroke-width="0.75" stroke-linejoin="round"/>
<polygon points="163.1,61 156.2,57.6 163.1,56.9 169.9,60.2" fill="#ff0808" stroke="#6b0303" stroke-width="0.75" stroke-linejoin="round"/>
<polygon points="176.8,63.3 169.9,60.2 176.8,60.1 183.6,63.1" fill="#ff0404" stroke="#6b0202" stroke-width="0.75" stroke-linejoin="round"/>
<polygon points="251.6,81 244.8,79.5 251.5,82.3 258.3,83.8" fill="#9e7300" stroke="#423000" stroke-width="0.75" stroke-linejoin="round"/>
<polygon points="101.4,57.6 94.5,52.8 101.3,49.4 108.2,54.1" fill="#ff2b2b" stroke="#6b1212" stroke-width="0.75" stroke-linejoin="round"/>
<polygon points="238.1,77.3 231.3,75.5 238,77.8 244.8,79.5" fill="#bf6500" stroke="#502a00" stroke-width="0.75" stroke-linejoin="round"/>
<polygon points="115.1,58.6 108.2,54.1 115.1,51.1 121.9,55.5" fill="#ff2323" stroke="#6b0f0f" stroke-width="0.75" stroke-linejoin="round"/>
<polygon points="224.5,74 217.7,72 224.5,73.6 231.3,75.5" fill="#e14f00" stroke="#5f2100" stroke-width="0.75" stroke-linejoin="round"/>
<polygon points="128.8,59.6 121.9,55.5 128.8,53.1 135.7,57.1" fill="#ff1b1b" stroke="#6b0b0b" stroke-width="0.75" stroke-linejoin="round"/>
<polygon points="210.9,71.1 204.1,68.8 210.9,69.7 217.7,72" fill="#ff3101" stroke="#6b1400" stroke-width="0.75" stroke-linejoin="round"/>
<polygon points="142.5,60.9 135.7,57.1 142.5,55.2 149.4,58.9" fill="#ff1414" stroke="#6b0808" stroke-width="0.75" stroke-linejoin="round"/>
<polygon points="197.2,68.5 190.4,65.9 197.3,66.2 204.1,68.8" fill="#ff0e02" stroke="#6b0601" stroke-width="0.75" stroke-linejoin="round"/>
<polygon points="156.2,62.4 149.4,58.9 156.2,57.6 163.1,61" fill="#ff0d0d" stroke="#6b0606" stroke-width="0.75" stroke-linejoin="round"/>
<polygon points="183.6,66.2 176.8,63.3 183.6,63.1 190.4,65.9" fill="#ff0505" stroke="#6b0202" stroke-width="0.75" stroke-linejoin="round"/>
<polygon points="169.9,64.2 163.1,61 169.9,60.2 176.8,63.3" fill="#ff0808" stroke="#6b0303" stroke-width="0.75" stroke-linejoin="round"/>
<polygon points="258.4,82.4 251.6,81 258.3,83.8 265,85.2" fill="#9e7000" stroke="#422f00" stroke-width="0.75" stroke-linejoin="round"/>
<polygon points="94.6,61.8 87.7,56.9 94.5,52.8 101.4,57.6" fill="#ff3636" stroke="#6b1717" stroke-width="0.75" stroke-linejoin="round"/>
<polygon points="244.9,79 238.1,77.3 244.8,79.5 251.6,81" fill="#bf6300" stroke="#502a00" stroke-width="0.75" stroke-linejoin="round"/>
<polygon points="108.3,62.2 101.4,57.6 108.2,54.1 115.1,58.6" fill="#ff2e2e" stroke="#6b1313" stroke-width="0.75" stroke-linejoin="round"/>
<polygon points="231.3,75.9 224.5,74 231.3,75.5 238.1,77.3" fill="#e14f00" stroke="#5f2100" stroke-width="0.75" stroke-linejoin="round"/>
<polygon points="122,62.8 115.1,58.6 121.9,55.5 128.8,59.6" fill="#ff2525" stroke="#6b1010" stroke-width="0.75" stroke-linejoin="round"/>
<polygon points="217.7,73.2 210.9,71.1 217.7,72 224.5,74" fill="#ff3401" stroke="#6b1600" stroke-width="0.75" stroke-linejoin="round"/>
<polygon points="135.6,63.6 128.8,59.6 135.7,57.1 142.5,60.9" fill="#ff1c1c" stroke="#6b0c0c" stroke-width="0.75" stroke-linejoin="round"/>
<polygon points="204.1,70.9 197.2,68.5 204.1,68.8 210.9,71.1" fill="#ff1402" stroke="#6b0801" stroke-width="0.75" stroke-linejoin="round"/>
<polygon points="149.3,64.5 142.5,60.9 149.4,58.9 156.2,62.4" fill="#ff1414" stroke="#6b0909" stroke-width="0.75" stroke-linejoin="round"/>
<polygon points="190.4,68.9 183.6,66.2 190.4,65.9 197.2,68.5" fill="#ff0505" stroke="#6b0202" stroke-width="0.75" stroke-linejoin="round"/>
<polygon points="163,65.7 156.2,62.4 163.1,61 169.9,64.2" fill="#ff0e0e" stroke="#6b0606" stroke-width="0.75" stroke-linejoin="round"/>
<polygon points="176.7,67.1 169.9,64.2 176.8,63.3 183.6,66.2" fill="#ff0808" stroke="#6b0404" stroke-width="0.75" stroke-linejoin="round"/>
<polygon points="265.2,83.6 258.4,82.4 265,85.2 271.8,86.3" fill="#9e6c00" stroke="#422d00" stroke-width="0.75" stroke-linejoin="round"/>
<polygon points="87.8,66.6 80.9,61.5 87.7,56.9 94.6,61.8" fill="#ff4040" stroke="#6b1b1b" stroke-width="0.75" stroke-linejoin="round"/>
<polygon points="251.7,80.4 244.9,79 251.6,81 258.4,82.4" fill="#bf6000" stroke="#502800" stroke-width="0.75" stroke-linejoin="round"/>
<polygon points="101.5,66.5 94.6,61.8 101.4,57.6 108.3,62.2" fill="#ff3838" stroke="#6b1818" stroke-width="0.75" stroke-linejoin="round"/>
<polygon points="238.1,77.6 231.3,75.9 238.1,77.3 244.9,79" fill="#e14d00" stroke="#5f2100" stroke-width="0.75" stroke-linejoin="round"/>
<polygon points="115.1,66.6 108.3,62.2 115.1,58.6 122,62.8" fill="#ff3030" stroke="#6b1414" stroke-width="0.75" stroke-linejoin="round"/>
<polygon points="224.5,75.2 217.7,73.2 224.5,74 231.3,75.9" fill="#ff3501" stroke="#6b1600" stroke-width="0.75" stroke-linejoin="round"/>
<polygon points="128.8,66.8 122,62.8 128.8,59.6 135.6,63.6" fill="#ff2727" stroke="#6b1010" stroke-width="0.75" stroke-linejoin="round"/>
<polygon points="210.9,73.1 204.1,70.9 210.9,71.1 217.7,73.2" fill="#ff1702" stroke="#6b0a01" stroke-width="0.75" stroke-linejoin="round"/>
<polygon points="142.5,67.3 135.6,63.6 142.5,60.9 149.3,64.5" fill="#ff1e1e" stroke="#6b0c0c" stroke-width="0.75" stroke-linejoin="round"/>
<polygon points="197.2,71.3 190.4,68.9 197.2,68.5 204.1,70.9" fill="#ff0505" stroke="#6b0202" stroke-width="0.75" stroke-linejoin="round"/>
<polygon points="156.2,67.9 149.3,64.5 156.2,62.4 163,65.7" fill="#ff1515" stroke="#6b0909" stroke-width="0.75" stroke-linejoin="round"/>
<polygon points="183.5,69.9 176.7,67.1 183.6,66.2 190.4,68.9" fill="#ff0909" stroke="#6b0404" stroke-width="0.75" stroke-linejoin="round"/>
<polygon points="169.9,68.8 163,65.7 169.9,64.2 176.7,67.1" fill="#ff0e0e" stroke="#6b0606" stroke-width="0.75" stroke-linejoin="round"/>
<polygon points="272,84.7 265.2,83.6 271.8,86.3 278.7,87.3" fill="#9e6600" stroke="#422b00" stroke-width="0.75" stroke-linejoin="round"/>
<polygon points="81.1,72 74.2,66.8 80.9,61.5 87.8,66.6" fill="#ff4a4a" stroke="#6b1f1f" stroke-width="0.75" stroke-linejoin="round"/>
<polygon points="258.5,81.7 251.7,80.4 258.4,82.4 265.2,83.6" fill="#bf5b00" stroke="#502600" stroke-width="0.75" stroke-linejoin="round"/>
<polygon points="94.7,71.4 87.8,66.6 94.6,61.8 101.5,66.5" fill="#ff4343" stroke="#6b1c1c" stroke-width="0.75" stroke-linejoin="round"/>
<polygon points="244.9,79.1 238.1,77.6 244.9,79 251.7,80.4" fill="#e14a00" stroke="#5f1f00" stroke-width="0.75" stroke-linejoin="round"/>
<polygon points="108.3,71 101.5,66.5 108.3,62.2 115.1,66.6" fill="#ff3b3b" stroke="#6b1919" stroke-width="0.75" stroke-linejoin="round"/>
<polygon points="231.3,76.9 224.5,75.2 231.3,75.9 238.1,77.6" fill="#ff3401" stroke="#6b1600" stroke-width="0.75" stroke-linejoin="round"/>
<polygon points="122,70.7 115.1,66.6 122,62.8 128.8,66.8" fill="#ff3232" stroke="#6b1515" stroke-width="0.75" stroke-linejoin="round"/>
<polygon points="217.7,75.1 210.9,73.1 217.7,73.2 224.5,75.2" fill="#ff1903" stroke="#6b0a01" stroke-width="0.75" stroke-linejoin="round"/>
<polygon points="135.6,70.6 128.8,66.8 135.6,63.6 142.5,67.3" fill="#ff2828" stroke="#6b1111" stroke-width="0.75" stroke-linejoin="round"/>
<polygon points="204,73.6 197.2,71.3 204.1,70.9 210.9,73.1" fill="#ff0505" stroke="#6b0202" stroke-width="0.75" stroke-linejoin="round"/>
<polygon points="149.3,70.7 142.5,67.3 149.3,64.5 156.2,67.9" fill="#ff1f1f" stroke="#6b0d0d" stroke-width="0.75" stroke-linejoin="round"/>
<polygon points="190.3,72.5 183.5,69.9 190.4,68.9 197.2,71.3" fill="#ff0909" stroke="#6b0404" stroke-width="0.75" stroke-linejoin="round"/>
<polygon points="163,71.1 156.2,67.9 163,65.7 169.9,68.8" fill="#ff1616" stroke="#6b0909" stroke-width="0.75" stroke-linejoin="round"/>
<polygon points="176.7,71.6 169.9,68.8 176.7,67.1 183.5,69.9" fill="#ff0f0f" stroke="#6b0606" stroke-width="0.75" stroke-linejoin="round"/>
<polygon points="278.8,85.5 272,84.7 278.7,87.3 285.5,88.1" fill="#9d6000" stroke="#422800" stroke-width="0.75" stroke-linejoin="round"/>
<polygon points="74.4,77.9 67.5,72.6 74.2,66.8 81.1,72" fill="#ff5353" stroke="#6b2323" stroke-width="0.75" stroke-linejoin="round"/>
<polygon points="265.3,82.8 258.5,81.7 265.2,83.6 272,84.7" fill="#bf5500" stroke="#502400" stroke-width="0.75" stroke-linejoin="round"/>
<polygon points="88,76.9 81.1,72 87.8,66.6 94.7,71.4" fill="#ff4d4d" stroke="#6b2020" stroke-width="0.75" stroke-linejoin="round"/>
<polygon points="251.7,80.4 244.9,79.1 251.7,80.4 258.5,81.7" fill="#e14500" stroke="#5e1d00" stroke-width="0.75" stroke-linejoin="round"/>
<polygon points="101.6,76 94.7,71.4 101.5,66.5 108.3,71" fill="#ff4646" stroke="#6b1d1d" stroke-width="0.75" stroke-linejoin="round"/>
<polygon points="238.1,78.5 231.3,76.9 238.1,77.6 244.9,79.1" fill="#ff3001" stroke="#6b1400" stroke-width="0.75" stroke-linejoin="round"/>
<polygon points="115.2,75.2 108.3,71 115.1,66.6 122,70.7" fill="#ff3d3d" stroke="#6b1a1a" stroke-width="0.75" stroke-linejoin="round"/>
<polygon points="224.5,76.9 217.7,75.1 224.5,75.2 231.3,76.9" fill="#ff1803" stroke="#6b0a01" stroke-width="0.75" stroke-linejoin="round"/>
<polygon points="128.8,74.6 122,70.7 128.8,66.8 135.6,70.6" fill="#ff3434" stroke="#6b1616" stroke-width="0.75" stroke-linejoin="round"/>
<polygon points="210.8,75.7 204,73.6 210.9,73.1 217.7,75.1" fill="#ff0605" stroke="#6b0302" stroke-width="0.75" stroke-linejoin="round"/>
<polygon points="142.5,74.2 135.6,70.6 142.5,67.3 149.3,70.7" fill="#ff2a2a" stroke="#6b1212" stroke-width="0.75" stroke-linejoin="round"/>
<polygon points="197.2,74.9 190.3,72.5 197.2,71.3 204,73.6" fill="#ff0a0a" stroke="#6b0404" stroke-width="0.75" stroke-linejoin="round"/>
<polygon points="156.1,74 149.3,70.7 156.2,67.9 163,71.1" fill="#ff2020" stroke="#6b0d0d" stroke-width="0.75" stroke-linejoin="round"/>
<polygon points="183.5,74.3 176.7,71.6 183.5,69.9 190.3,72.5" fill="#ff0f0f" stroke="#6b0606" stroke-width="0.75" stroke-linejoin="round"/>
<polygon points="169.8,74 163,71.1 169.9,68.8 176.7,71.6" fill="#ff1717" stroke="#6b0a0a" stroke-width="0.75" stroke-linejoin="round"/>
<polygon points="285.7,86.2 278.8,85.5 285.5,88.1 292.3,88.8" fill="#9d5800" stroke="#422500" stroke-width="0.75" stroke-linejoin="round"/>
<polygon points="67.8,84.5 60.9,79 67.5,72.6 74.4,77.9" fill="#ff785b" stroke="#6b3326" stroke-width="0.75" stroke-linejoin="round"/>
<polygon points="272.1,83.7 265.3,82.8 272,84.7 278.8,85.5" fill="#be4e00" stroke="#502100" stroke-width="0.75" stroke-linejoin="round"/>
<polygon points="81.3,83 74.4,77.9 81.1,72 88,76.9" fill="#ff6957" stroke="#6b2c24" stroke-width="0.75" stroke-linejoin="round"/>
<polygon points="258.6,81.6 251.7,80.4 258.5,81.7 265.3,82.8" fill="#e03e00" stroke="#5e1a00" stroke-width="0.75" stroke-linejoin="round"/>
<polygon points="94.8,81.6 88,76.9 94.7,71.4 101.6,76" fill="#ff5850" stroke="#6b2522" stroke-width="0.75" stroke-linejoin="round"/>
<polygon points="244.9,79.9 238.1,78.5 244.9,79.1 251.7,80.4" fill="#ff2b01" stroke="#6b1201" stroke-width="0.75" stroke-linejoin="round"/>
<polygon points="108.4,80.3 101.6,76 108.3,71 115.2,75.2" fill="#ff4949" stroke="#6b1e1e" stroke-width="0.75" stroke-linejoin="round"/>
<polygon points="231.3,78.6 224.5,76.9 231.3,76.9 238.1,78.5" fill="#ff1603" stroke="#6b0901" stroke-width="0.75" stroke-linejoin="round"/>
<polygon points="122,79.2 115.2,75.2 122,70.7 128.8,74.6" fill="#ff3f3f" stroke="#6b1b1b" stroke-width="0.75" stroke-linejoin="round"/>
<polygon points="217.6,77.6 210.8,75.7 217.7,75.1 224.5,76.9" fill="#ff0606" stroke="#6b0302" stroke-width="0.75" stroke-linejoin="round"/>
<polygon points="135.6,78.3 128.8,74.6 135.6,70.6 142.5,74.2" fill="#ff3535" stroke="#6b1616" stroke-width="0.75" stroke-linejoin="round"/>
<polygon points="204,77 197.2,74.9 204,73.6 210.8,75.7" fill="#ff0a0a" stroke="#6b0404" stroke-width="0.75" stroke-linejoin="round"/>
<polygon points="149.3,77.6 142.5,74.2 149.3,70.7 156.1,74" fill="#ff2b2b" stroke="#6b1212" stroke-width="0.75" stroke-linejoin="round"/>
<polygon points="190.3,76.7 183.5,74.3 190.3,72.5 197.2,74.9" fill="#ff1010" stroke="#6b0707" stroke-width="0.75" stroke-linejoin="round"/>
<polygon points="162.9,77 156.1,74 163,71.1 169.8,74" fill="#ff2121" stroke="#6b0e0e" stroke-width="0.75" stroke-linejoin="round"/>
<polygon points="176.6,76.8 169.8,74 176.7,71.6 183.5,74.3" fill="#ff1818" stroke="#6b0a0a" stroke-width="0.75" stroke-linejoin="round"/>
<polygon points="292.5,86.8 285.7,86.2 292.3,88.8 299.1,89.3" fill="#9d5000" stroke="#422200" stroke-width="0.75" stroke-linejoin="round"/>
<polygon points="61.2,91.6 54.3,86 60.9,79 67.8,84.5" fill="#ff9f63" stroke="#6b4329" stroke-width="0.75" stroke-linejoin="round"/>
<polygon points="279,84.5 272.1,83.7 278.8,85.5 285.7,86.2" fill="#be4500" stroke="#501d00" stroke-width="0.75" stroke-linejoin="round"/>
<polygon points="74.6,89.6 67.8,84.5 74.4,77.9 81.3,83" fill="#ff8f5f" stroke="#6b3c28" stroke-width="0.75" stroke-linejoin="round"/>
<polygon points="265.4,82.6 258.6,81.6 265.3,82.8 272.1,83.7" fill="#e03600" stroke="#5e1700" stroke-width="0.75" stroke-linejoin="round"/>
<polygon points="88.1,87.8 81.3,83 88,76.9 94.8,81.6" fill="#ff7d5a" stroke="#6b3526" stroke-width="0.75" stroke-linejoin="round"/>
<polygon points="251.8,81.1 244.9,79.9 251.7,80.4 258.6,81.6" fill="#ff2401" stroke="#6b0f01" stroke-width="0.75" stroke-linejoin="round"/>
<polygon points="101.7,86 94.8,81.6 101.6,76 108.4,80.3" fill="#ff6b53" stroke="#6b2d23" stroke-width="0.75" stroke-linejoin="round"/>
<polygon points="238.1,80 231.3,78.6 238.1,78.5 244.9,79.9" fill="#ff1103" stroke="#6b0701" stroke-width="0.75" stroke-linejoin="round"/>
<polygon points="115.2,84.4 108.4,80.3 115.2,75.2 122,79.2" fill="#ff584b" stroke="#6b251f" stroke-width="0.75" stroke-linejoin="round"/>
<polygon points="224.5,79.3 217.6,77.6 224.5,76.9 231.3,78.6" fill="#ff0606" stroke="#6b0202" stroke-width="0.75" stroke-linejoin="round"/>
<polygon points="128.8,83 122,79.2 128.8,74.6 135.6,78.3" fill="#ff4541" stroke="#6b1d1b" stroke-width="0.75" stroke-linejoin="round"/>
<polygon points="210.8,79 204,77 210.8,75.7 217.6,77.6" fill="#ff0a0a" stroke="#6b0404" stroke-width="0.75" stroke-linejoin="round"/>
<polygon points="299.4,87.2 292.5,86.8 299.1,89.3 306,89.6" fill="#9d4600" stroke="#421e00" stroke-width="0.75" stroke-linejoin="round"/>
<polygon points="142.5,81.7 135.6,78.3 142.5,74.2 149.3,77.6" fill="#ff3737" stroke="#6b1717" stroke-width="0.75" stroke-linejoin="round"/>
<polygon points="197.1,79 190.3,76.7 197.2,74.9 204,77" fill="#ff1010" stroke="#6b0707" stroke-width="0.75" stroke-linejoin="round"/>
<polygon points="156.1,80.7 149.3,77.6 156.1,74 162.9,77" fill="#ff2c2c" stroke="#6b1313" stroke-width="0.75" stroke-linejoin="round"/>
<polygon points="183.4,79.3 176.6,76.8 183.5,74.3 190.3,76.7" fill="#ff1818" stroke="#6b0a0a" stroke-width="0.75" stroke-linejoin="round"/>
<polygon points="169.8,79.9 162.9,77 169.8,74 176.6,76.8" fill="#ff2222" stroke="#6b0e0e" stroke-width="0.75" stroke-linejoin="round"/>
<polygon points="54.6,99.2 47.7,93.6 54.3,86 61.2,91.6" fill="#ffc669" stroke="#6b532c" stroke-width="0.75" stroke-linejoin="round"/>
<polygon points="285.8,85.1 279,84.5 285.7,86.2 292.5,86.8" fill="#be3b00" stroke="#501900" stroke-width="0.75" stroke-linejoin="round"/>
<polygon points="68,96.8 61.2,91.6 67.8,84.5 74.6,89.6" fill="#ffb466" stroke="#6b4c2b" stroke-width="0.75" stroke-linejoin="round"/>
<polygon points="272.2,83.4 265.4,82.6 272.1,83.7 279,84.5" fill="#e02c00" stroke="#5e1300" stroke-width="0.75" stroke-linejoin="round"/>
<polygon points="81.5,94.6 74.6,89.6 81.3,83 88.1,87.8" fill="#ffa262" stroke="#6b4429" stroke-width="0.75" stroke-linejoin="round"/>
<polygon points="258.6,82.1 251.8,81.1 258.6,81.6 265.4,82.6" fill="#ff1c01" stroke="#6b0c01" stroke-width="0.75" stroke-linejoin="round"/>
<polygon points="95,92.3 88.1,87.8 94.8,81.6 101.7,86" fill="#ff8f5d" stroke="#6b3c27" stroke-width="0.75" stroke-linejoin="round"/>
<polygon points="244.9,81.3 238.1,80 244.9,79.9 251.8,81.1" fill="#ff0b03" stroke="#6b0501" stroke-width="0.75" stroke-linejoin="round"/>
<polygon points="108.5,90.3 101.7,86 108.4,80.3 115.2,84.4" fill="#ff7b55" stroke="#6b3424" stroke-width="0.75" stroke-linejoin="round"/>
<polygon points="231.3,80.9 224.5,79.3 231.3,78.6 238.1,80" fill="#ff0606" stroke="#6b0202" stroke-width="0.75" stroke-linejoin="round"/>
<polygon points="306.3,87.4 299.4,87.2 306,89.6 312.9,89.8" fill="#9d3c00" stroke="#421900" stroke-width="0.75" stroke-linejoin="round"/>
<polygon points="122.1,88.3 115.2,84.4 122,79.2 128.8,83" fill="#ff674d" stroke="#6b2b20" stroke-width="0.75" stroke-linejoin="round"/>
<polygon points="217.6,80.8 210.8,79 217.6,77.6 224.5,79.3" fill="#ff0a0a" stroke="#6b0404" stroke-width="0.75" stroke-linejoin="round"/>
<polygon points="135.7,86.6 128.8,83 135.6,78.3 142.5,81.7" fill="#ff5243" stroke="#6b221c" stroke-width="0.75" stroke-linejoin="round"/>
<polygon points="203.9,81.1 197.1,79 204,77 210.8,79" fill="#ff1111" stroke="#6b0707" stroke-width="0.75" stroke-linejoin="round"/>
<polygon points="149.3,85 142.5,81.7 149.3,77.6 156.1,80.7" fill="#ff3c38" stroke="#6b1918" stroke-width="0.75" stroke-linejoin="round"/>
<polygon points="48.1,107.4 41.2,101.6 47.7,93.6 54.6,99.2" fill="#ffed6e" stroke="#6b642e" stroke-width="0.75" stroke-linejoin="round"/>
<polygon points="190.2,81.6 183.4,79.3 190.3,76.7 197.1,79" fill="#ff1919" stroke="#6b0a0a" stroke-width="0.75" stroke-linejoin="round"/>
<polygon points="162.9,83.6 156.1,80.7 162.9,77 169.8,79.9" fill="#ff2d2d" stroke="#6b1313" stroke-width="0.75" stroke-linejoin="round"/>
<polygon points="176.6,82.5 169.8,79.9 176.6,76.8 183.4,79.3" fill="#ff2323" stroke="#6b0f0f" stroke-width="0.75" stroke-linejoin="round"/>
<polygon points="292.7,85.5 285.8,85.1 292.5,86.8 299.4,87.2" fill="#bd3000" stroke="#501400" stroke-width="0.75" stroke-linejoin="round"/>
<polygon points="61.5,104.6 54.6,99.2 61.2,91.6 68,96.8" fill="#ffda6c" stroke="#6b5c2d" stroke-width="0.75" stroke-linejoin="round"/>
<polygon points="279.1,84 272.2,83.4 279,84.5 285.8,85.1" fill="#df2100" stroke="#5e0e00" stroke-width="0.75" stroke-linejoin="round"/>
<polygon points="74.9,101.9 68,96.8 74.6,89.6 81.5,94.6" fill="#ffc769" stroke="#6b532c" stroke-width="0.75" stroke-linejoin="round"/>
<polygon points="265.4,83 258.6,82.1 265.4,82.6 272.2,83.4" fill="#ff1101" stroke="#6b0701" stroke-width="0.75" stroke-linejoin="round"/>
<polygon points="88.3,99.2 81.5,94.6 88.1,87.8 95,92.3" fill="#ffb365" stroke="#6b4b2a" stroke-width="0.75" stroke-linejoin="round"/>
<polygon points="251.8,82.4 244.9,81.3 251.8,81.1 258.6,82.1" fill="#ff0303" stroke="#6b0101" stroke-width="0.75" stroke-linejoin="round"/>
<polygon points="101.8,96.7 95,92.3 101.7,86 108.5,90.3" fill="#ff9f5f" stroke="#6b4328" stroke-width="0.75" stroke-linejoin="round"/>
<polygon points="238.1,82.2 231.3,80.9 238.1,80 244.9,81.3" fill="#ff0606" stroke="#6b0303" stroke-width="0.75" stroke-linejoin="round"/>
<polygon points="115.3,94.3 108.5,90.3 115.2,84.4 122.1,88.3" fill="#ff8958" stroke="#6b3a25" stroke-width="0.75" stroke-linejoin="round"/>
<polygon points="224.4,82.4 217.6,80.8 224.5,79.3 231.3,80.9" fill="#ff0b0b" stroke="#6b0404" stroke-width="0.75" stroke-linejoin="round"/>
<polygon points="128.9,92 122.1,88.3 128.8,83 135.7,86.6" fill="#ff734f" stroke="#6b3021" stroke-width="0.75" stroke-linejoin="round"/>
<polygon points="210.7,82.9 203.9,81.1 210.8,79 217.6,80.8" fill="#ff1111" stroke="#6b0707" stroke-width="0.75" stroke-linejoin="round"/>
<polygon points="142.5,89.9 135.7,86.6 142.5,81.7 149.3,85" fill="#ff5c44" stroke="#6b271d" stroke-width="0.75" stroke-linejoin="round"/>
<polygon points="299.6,85.8 292.7,85.5 299.4,87.2 306.3,87.4" fill="#bd2400" stroke="#4f0f00" stroke-width="0.75" stroke-linejoin="round"/>
<polygon points="197,83.8 190.2,81.6 197.1,79 203.9,81.1" fill="#ff1919" stroke="#6b0b0b" stroke-width="0.75" stroke-linejoin="round"/>
<polygon points="156.1,88 149.3,85 156.1,80.7 162.9,83.6" fill="#ff4539" stroke="#6b1d18" stroke-width="0.75" stroke-linejoin="round"/>
<polygon points="183.4,84.9 176.6,82.5 183.4,79.3 190.2,81.6" fill="#ff2323" stroke="#6b0f0f" stroke-width="0.75" stroke-linejoin="round"/>
<polygon points="169.7,86.3 162.9,83.6 169.8,79.9 176.6,82.5" fill="#ff2f2e" stroke="#6b1413" stroke-width="0.75" stroke-linejoin="round"/>
<polygon points="54.9,113 48.1,107.4 54.6,99.2 61.5,104.6" fill="#feff71" stroke="#6b6b30" stroke-width="0.75" stroke-linejoin="round"/>
<polygon points="286,84.5 279.1,84 285.8,85.1 292.7,85.5" fill="#df1500" stroke="#5d0900" stroke-width="0.75" stroke-linejoin="round"/>
<polygon points="68.3,109.8 61.5,104.6 68,96.8 74.9,101.9" fill="#ffeb6f" stroke="#6b632f" stroke-width="0.75" stroke-linejoin="round"/>
<polygon points="272.3,83.7 265.4,83 272.2,83.4 279.1,84" fill="#ff0501" stroke="#6b0201" stroke-width="0.75" stroke-linejoin="round"/>
<polygon points="81.7,106.7 74.9,101.9 81.5,94.6 88.3,99.2" fill="#ffd76c" stroke="#6b5a2d" stroke-width="0.75" stroke-linejoin="round"/>
<polygon points="258.6,83.4 251.8,82.4 258.6,82.1 265.4,83" fill="#ff0303" stroke="#6b0101" stroke-width="0.75" stroke-linejoin="round"/>
<polygon points="95.1,103.7 88.3,99.2 95,92.3 101.8,96.7" fill="#ffc267" stroke="#6b512b" stroke-width="0.75" stroke-linejoin="round"/>
<polygon points="244.9,83.4 238.1,82.2 244.9,81.3 251.8,82.4" fill="#ff0606" stroke="#6b0303" stroke-width="0.75" stroke-linejoin="round"/>
<polygon points="108.6,100.8 101.8,96.7 108.5,90.3 115.3,94.3" fill="#ffac61" stroke="#6b4829" stroke-width="0.75" stroke-linejoin="round"/>
<polygon points="231.2,83.8 224.4,82.4 231.3,80.9 238.1,82.2" fill="#ff0b0b" stroke="#6b0505" stroke-width="0.75" stroke-linejoin="round"/>
<polygon points="122.1,98 115.3,94.3 122.1,88.3 128.9,92" fill="#ff9559" stroke="#6b3f26" stroke-width="0.75" stroke-linejoin="round"/>
<polygon points="217.5,84.6 210.7,82.9 217.6,80.8 224.4,82.4" fill="#ff1111" stroke="#6b0707" stroke-width="0.75" stroke-linejoin="round"/>
<polygon points="135.7,95.4 128.9,92 135.7,86.6 142.5,89.9" fill="#ff7d50" stroke="#6b3522" stroke-width="0.75" stroke-linejoin="round"/>
<polygon points="203.8,85.7 197,83.8 203.9,81.1 210.7,82.9" fill="#ff1a1a" stroke="#6b0b0b" stroke-width="0.75" stroke-linejoin="round"/>
<polygon points="149.2,93 142.5,89.9 149.3,85 156.1,88" fill="#ff6446" stroke="#6b2a1d" stroke-width="0.75" stroke-linejoin="round"/>
<polygon points="190.2,87.1 183.4,84.9 190.2,81.6 197,83.8" fill="#ff2424" stroke="#6b0f0f" stroke-width="0.75" stroke-linejoin="round"/>
<polygon points="162.9,90.8 156.1,88 162.9,83.6 169.7,86.3" fill="#ff4b3a" stroke="#6b2019" stroke-width="0.75" stroke-linejoin="round"/>
<polygon points="176.5,88.8 169.7,86.3 176.6,82.5 183.4,84.9" fill="#ff332f" stroke="#6b1514" stroke-width="0.75" stroke-linejoin="round"/>
<polygon points="292.8,84.9 286,84.5 292.7,85.5 299.6,85.8" fill="#de0700" stroke="#5d0300" stroke-width="0.75" stroke-linejoin="round"/>
<polygon points="61.8,118.2 54.9,113 61.5,104.6 68.3,109.8" fill="#eefc74" stroke="#646a31" stroke-width="0.75" stroke-linejoin="round"/>
<polygon points="279.2,84.3 272.3,83.7 279.1,84 286,84.5" fill="#ff0101" stroke="#6b0101" stroke-width="0.75" stroke-linejoin="round"/>
<polygon points="75.1,114.7 68.3,109.8 74.9,101.9 81.7,106.7" fill="#fffa72" stroke="#6b6930" stroke-width="0.75" stroke-linejoin="round"/>
<polygon points="265.5,84.1 258.6,83.4 265.4,83 272.3,83.7" fill="#ff0303" stroke="#6b0101" stroke-width="0.75" stroke-linejoin="round"/>
<polygon points="88.5,111.2 81.7,106.7 88.3,99.2 95.1,103.7" fill="#ffe46f" stroke="#6b602e" stroke-width="0.75" stroke-linejoin="round"/>
<polygon points="251.8,84.4 244.9,83.4 251.8,82.4 258.6,83.4" fill="#ff0606" stroke="#6b0303" stroke-width="0.75" stroke-linejoin="round"/>
<polygon points="101.9,107.9 95.1,103.7 101.8,96.7 108.6,100.8" fill="#ffce6a" stroke="#6b562c" stroke-width="0.75" stroke-linejoin="round"/>
<polygon points="238.1,85.1 231.2,83.8 238.1,82.2 244.9,83.4" fill="#ff0b0b" stroke="#6b0505" stroke-width="0.75" stroke-linejoin="round"/>
<polygon points="115.4,104.6 108.6,100.8 115.3,94.3 122.1,98" fill="#ffb763" stroke="#6b4d2a" stroke-width="0.75" stroke-linejoin="round"/>
<polygon points="224.4,86.1 217.5,84.6 224.4,82.4 231.2,83.8" fill="#ff1111" stroke="#6b0707" stroke-width="0.75" stroke-linejoin="round"/>
<polygon points="128.9,101.5 122.1,98 128.9,92 135.7,95.4" fill="#ff9f5b" stroke="#6b4326" stroke-width="0.75" stroke-linejoin="round"/>
<polygon points="210.7,87.5 203.8,85.7 210.7,82.9 217.5,84.6" fill="#ff1a1a" stroke="#6b0b0b" stroke-width="0.75" stroke-linejoin="round"/>
<polygon points="142.4,98.6 135.7,95.4 142.5,89.9 149.2,93" fill="#ff8551" stroke="#6b3822" stroke-width="0.75" stroke-linejoin="round"/>
<polygon points="197,89.2 190.2,87.1 197,83.8 203.8,85.7" fill="#ff2424" stroke="#6b0f0f" stroke-width="0.75" stroke-linejoin="round"/>
<polygon points="156,95.9 149.2,93 156.1,88 162.9,90.8" fill="#ff6b47" stroke="#6b2d1e" stroke-width="0.75" stroke-linejoin="round"/>
<polygon points="183.3,91.1 176.5,88.8 183.4,84.9 190.2,87.1" fill="#ff352f" stroke="#6b1614" stroke-width="0.75" stroke-linejoin="round"/>
<polygon points="169.6,93.4 162.9,90.8 169.7,86.3 176.5,88.8" fill="#ff503b" stroke="#6b2119" stroke-width="0.75" stroke-linejoin="round"/>
<polygon points="286,84.7 279.2,84.3 286,84.5 292.8,84.9" fill="#ff0101" stroke="#6b0101" stroke-width="0.75" stroke-linejoin="round"/>
<polygon points="68.6,123.3 61.8,118.2 68.3,109.8 75.1,114.7" fill="#e0fa77" stroke="#5e6932" stroke-width="0.75" stroke-linejoin="round"/>
<polygon points="272.3,84.8 265.5,84.1 272.3,83.7 279.2,84.3" fill="#ff0303" stroke="#6b0101" stroke-width="0.75" stroke-linejoin="round"/>
<polygon points="81.9,119.4 75.1,114.7 81.7,106.7 88.5,111.2" fill="#f7fe74" stroke="#686b31" stroke-width="0.75" stroke-linejoin="round"/>
<polygon points="258.6,85.2 251.8,84.4 258.6,83.4 265.5,84.1" fill="#ff0606" stroke="#6b0303" stroke-width="0.75" stroke-linejoin="round"/>
<polygon points="95.3,115.5 88.5,111.2 95.1,103.7 101.9,107.9" fill="#fff071" stroke="#6b652f" stroke-width="0.75" stroke-linejoin="round"/>
<polygon points="244.9,86.1 238.1,85.1 244.9,83.4 251.8,84.4" fill="#ff0b0b" stroke="#6b0505" stroke-width="0.75" stroke-linejoin="round"/>
<polygon points="108.7,111.8 101.9,107.9 108.6,100.8 115.4,104.6" fill="#ffd86b" stroke="#6b5b2d" stroke-width="0.75" stroke-linejoin="round"/>
<polygon points="231.2,87.4 224.4,86.1 231.2,83.8 238.1,85.1" fill="#ff1212" stroke="#6b0707" stroke-width="0.75" stroke-linejoin="round"/>
<polygon points="122.2,108.3 115.4,104.6 122.1,98 128.9,101.5" fill="#ffc065" stroke="#6b512a" stroke-width="0.75" stroke-linejoin="round"/>
<polygon points="217.5,89 210.7,87.5 217.5,84.6 224.4,86.1" fill="#ff1a1a" stroke="#6b0b0b" stroke-width="0.75" stroke-linejoin="round"/>
<polygon points="135.7,104.8 128.9,101.5 135.7,95.4 142.4,98.6" fill="#ffa65c" stroke="#6b4627" stroke-width="0.75" stroke-linejoin="round"/>
<polygon points="203.8,91 197,89.2 203.8,85.7 210.7,87.5" fill="#ff2424" stroke="#6b0f0f" stroke-width="0.75" stroke-linejoin="round"/>
<polygon points="149.2,101.6 142.4,98.6 149.2,93 156,95.9" fill="#ff8b52" stroke="#6b3a23" stroke-width="0.75" stroke-linejoin="round"/>
<polygon points="190.1,93.3 183.3,91.1 190.2,87.1 197,89.2" fill="#ff3630" stroke="#6b1614" stroke-width="0.75" stroke-linejoin="round"/>
<polygon points="162.8,98.6 156,95.9 162.9,90.8 169.6,93.4" fill="#ff6f47" stroke="#6b2f1e" stroke-width="0.75" stroke-linejoin="round"/>
<polygon points="176.4,95.8 169.6,93.4 176.5,88.8 183.3,91.1" fill="#ff523c" stroke="#6b2219" stroke-width="0.75" stroke-linejoin="round"/>
<polygon points="279.2,85.2 272.3,84.8 279.2,84.3 286,84.7" fill="#ff0303" stroke="#6b0101" stroke-width="0.75" stroke-linejoin="round"/>
<polygon points="75.4,128 68.6,123.3 75.1,114.7 81.9,119.4" fill="#d5f879" stroke="#596833" stroke-width="0.75" stroke-linejoin="round"/>
<polygon points="265.5,85.9 258.6,85.2 265.5,84.1 272.3,84.8" fill="#ff0606" stroke="#6b0303" stroke-width="0.75" stroke-linejoin="round"/>
<polygon points="88.7,123.8 81.9,119.4 88.5,111.2 95.3,115.5" fill="#ecfc77" stroke="#636a32" stroke-width="0.75" stroke-linejoin="round"/>
<polygon points="251.7,87 244.9,86.1 251.8,84.4 258.6,85.2" fill="#ff0b0b" stroke="#6b0505" stroke-width="0.75" stroke-linejoin="round"/>
<polygon points="102.1,119.6 95.3,115.5 101.9,107.9 108.7,111.8" fill="#fff972" stroke="#6b6930" stroke-width="0.75" stroke-linejoin="round"/>
<polygon points="238,88.5 231.2,87.4 238.1,85.1 244.9,86.1" fill="#ff1212" stroke="#6b0707" stroke-width="0.75" stroke-linejoin="round"/>
<polygon points="115.5,115.6 108.7,111.8 115.4,104.6 122.2,108.3" fill="#ffe16d" stroke="#6b5e2e" stroke-width="0.75" stroke-linejoin="round"/>
<polygon points="224.3,90.4 217.5,89 224.4,86.1 231.2,87.4" fill="#ff1a1a" stroke="#6b0b0b" stroke-width="0.75" stroke-linejoin="round"/>
<polygon points="128.9,111.7 122.2,108.3 128.9,101.5 135.7,104.8" fill="#ffc766" stroke="#6b542b" stroke-width="0.75" stroke-linejoin="round"/>
<polygon points="210.6,92.6 203.8,91 210.7,87.5 217.5,89" fill="#ff2424" stroke="#6b0f0f" stroke-width="0.75" stroke-linejoin="round"/>
<polygon points="142.5,107.9 135.7,104.8 142.4,98.6 149.2,101.6" fill="#ffac5d" stroke="#6b4827" stroke-width="0.75" stroke-linejoin="round"/>
<polygon points="196.9,95.2 190.1,93.3 197,89.2 203.8,91" fill="#ff3430" stroke="#6b1614" stroke-width="0.75" stroke-linejoin="round"/>
<polygon points="156,104.4 149.2,101.6 156,95.9 162.8,98.6" fill="#ff8f53" stroke="#6b3c23" stroke-width="0.75" stroke-linejoin="round"/>
<polygon points="183.2,98 176.4,95.8 183.3,91.1 190.1,93.3" fill="#ff533c" stroke="#6b2319" stroke-width="0.75" stroke-linejoin="round"/>
<polygon points="169.6,101.1 162.8,98.6 169.6,93.4 176.4,95.8" fill="#ff7148" stroke="#6b301e" stroke-width="0.75" stroke-linejoin="round"/>
<polygon points="272.4,86.4 265.5,85.9 272.3,84.8 279.2,85.2" fill="#ff0606" stroke="#6b0303" stroke-width="0.75" stroke-linejoin="round"/>
<polygon points="82.1,132.6 75.4,128 81.9,119.4 88.7,123.8" fill="#caf67b" stroke="#556734" stroke-width="0.75" stroke-linejoin="round"/>
<polygon points="258.6,87.8 251.7,87 258.6,85.2 265.5,85.9" fill="#ff0b0b" stroke="#6b0505" stroke-width="0.75" stroke-linejoin="round"/>
<polygon points="95.5,127.9 88.7,123.8 95.3,115.5 102.1,119.6" fill="#e3fa78" stroke="#606933" stroke-width="0.75" stroke-linejoin="round"/>
<polygon points="244.9,89.5 238,88.5 244.9,86.1 251.7,87" fill="#ff1212" stroke="#6b0707" stroke-width="0.75" stroke-linejoin="round"/>
<polygon points="108.8,123.4 102.1,119.6 108.7,111.8 115.5,115.6" fill="#fcff74" stroke="#6a6b31" stroke-width="0.75" stroke-linejoin="round"/>
<polygon points="231.1,91.6 224.3,90.4 231.2,87.4 238,88.5" fill="#ff1a1a" stroke="#6b0b0b" stroke-width="0.75" stroke-linejoin="round"/>
<polygon points="122.2,119.1 115.5,115.6 122.2,108.3 128.9,111.7" fill="#ffe86e" stroke="#6b612e" stroke-width="0.75" stroke-linejoin="round"/>
<polygon points="217.4,94.1 210.6,92.6 217.5,89 224.3,90.4" fill="#ff2525" stroke="#6b0f0f" stroke-width="0.75" stroke-linejoin="round"/>
<polygon points="135.7,114.8 128.9,111.7 135.7,104.8 142.5,107.9" fill="#ffcd67" stroke="#6b562b" stroke-width="0.75" stroke-linejoin="round"/>
<polygon points="203.7,96.9 196.9,95.2 203.8,91 210.6,92.6" fill="#ff3130" stroke="#6b1514" stroke-width="0.75" stroke-linejoin="round"/>
<polygon points="149.2,110.8 142.5,107.9 149.2,101.6 156,104.4" fill="#ffb05e" stroke="#6b4a27" stroke-width="0.75" stroke-linejoin="round"/>
<polygon points="190,100 183.2,98 190.1,93.3 196.9,95.2" fill="#ff513c" stroke="#6b2219" stroke-width="0.75" stroke-linejoin="round"/>
<polygon points="162.8,107 156,104.4 162.8,98.6 169.6,101.1" fill="#ff9253" stroke="#6b3d23" stroke-width="0.75" stroke-linejoin="round"/>
<polygon points="176.4,103.3 169.6,101.1 176.4,95.8 183.2,98" fill="#ff7248" stroke="#6b301e" stroke-width="0.75" stroke-linejoin="round"/>
<polygon points="265.5,88.3 258.6,87.8 265.5,85.9 272.4,86.4" fill="#ff0b0b" stroke="#6b0505" stroke-width="0.75" stroke-linejoin="round"/>
<polygon points="88.9,136.8 82.1,132.6 88.7,123.8 95.5,127.9" fill="#c2f47d" stroke="#516735" stroke-width="0.75" stroke-linejoin="round"/>
<polygon points="251.7,90.3 244.9,89.5 251.7,87 258.6,87.8" fill="#ff1212" stroke="#6b0707" stroke-width="0.75" stroke-linejoin="round"/>
<polygon points="102.2,131.9 95.5,127.9 102.1,119.6 108.8,123.4" fill="#dcf97a" stroke="#5c6833" stroke-width="0.75" stroke-linejoin="round"/>
<polygon points="237.9,92.7 231.1,91.6 238,88.5 244.9,89.5" fill="#ff1a1a" stroke="#6b0b0b" stroke-width="0.75" stroke-linejoin="round"/>
<polygon points="115.6,127 108.8,123.4 115.5,115.6 122.2,119.1" fill="#f6fd75" stroke="#676a31" stroke-width="0.75" stroke-linejoin="round"/>
<polygon points="224.2,95.4 217.4,94.1 224.3,90.4 231.1,91.6" fill="#ff2525" stroke="#6b0f0f" stroke-width="0.75" stroke-linejoin="round"/>
<polygon points="129,122.3 122.2,119.1 128.9,111.7 135.7,114.8" fill="#ffed6f" stroke="#6b642f" stroke-width="0.75" stroke-linejoin="round"/>
<polygon points="210.5,98.4 203.7,96.9 210.6,92.6 217.4,94.1" fill="#ff3030" stroke="#6b1414" stroke-width="0.75" stroke-linejoin="round"/>
<polygon points="142.5,117.8 135.7,114.8 142.5,107.9 149.2,110.8" fill="#ffd167" stroke="#6b582b" stroke-width="0.75" stroke-linejoin="round"/>
<polygon points="196.8,101.8 190,100 196.9,95.2 203.7,96.9" fill="#ff4f3c" stroke="#6b2119" stroke-width="0.75" stroke-linejoin="round"/>
<polygon points="156,113.5 149.2,110.8 156,104.4 162.8,107" fill="#ffb35e" stroke="#6b4b27" stroke-width="0.75" stroke-linejoin="round"/>
<polygon points="183.2,105.4 176.4,103.3 183.2,98 190,100" fill="#ff7148" stroke="#6b301e" stroke-width="0.75" stroke-linejoin="round"/>
<polygon points="169.5,109.3 162.8,107 169.6,101.1 176.4,103.3" fill="#ff9354" stroke="#6b3e23" stroke-width="0.75" stroke-linejoin="round"/>
<polygon points="258.6,90.9 251.7,90.3 258.6,87.8 265.5,88.3" fill="#ff1212" stroke="#6b0707" stroke-width="0.75" stroke-linejoin="round"/>
<polygon points="95.6,140.9 88.9,136.8 95.5,127.9 102.2,131.9" fill="#bbf37e" stroke="#4e6635" stroke-width="0.75" stroke-linejoin="round"/>
<polygon points="244.8,93.5 237.9,92.7 244.9,89.5 251.7,90.3" fill="#ff1a1a" stroke="#6b0b0b" stroke-width="0.75" stroke-linejoin="round"/>
<polygon points="109,135.6 102.2,131.9 108.8,123.4 115.6,127" fill="#d6f87b" stroke="#5a6834" stroke-width="0.75" stroke-linejoin="round"/>
<polygon points="231,96.5 224.2,95.4 231.1,91.6 237.9,92.7" fill="#ff2424" stroke="#6b0f0f" stroke-width="0.75" stroke-linejoin="round"/>
<polygon points="122.3,130.4 115.6,127 122.2,119.1 129,122.3" fill="#f1fd76" stroke="#656a31" stroke-width="0.75" stroke-linejoin="round"/>
<polygon points="217.3,99.8 210.5,98.4 217.4,94.1 224.2,95.4" fill="#ff3030" stroke="#6b1414" stroke-width="0.75" stroke-linejoin="round"/>
<polygon points="135.7,125.4 129,122.3 135.7,114.8 142.5,117.8" fill="#fff16f" stroke="#6b652f" stroke-width="0.75" stroke-linejoin="round"/>
<polygon points="203.6,103.4 196.8,101.8 203.7,96.9 210.5,98.4" fill="#ff4a3c" stroke="#6b1f19" stroke-width="0.75" stroke-linejoin="round"/>
<polygon points="149.2,120.5 142.5,117.8 149.2,110.8 156,113.5" fill="#ffd367" stroke="#6b592b" stroke-width="0.75" stroke-linejoin="round"/>
<polygon points="189.9,107.3 183.2,105.4 190,100 196.8,101.8" fill="#ff6f48" stroke="#6b2f1e" stroke-width="0.75" stroke-linejoin="round"/>
<polygon points="162.7,115.9 156,113.5 162.8,107 169.5,109.3" fill="#ffb45e" stroke="#6b4c28" stroke-width="0.75" stroke-linejoin="round"/>
<polygon points="176.3,111.5 169.5,109.3 176.4,103.3 183.2,105.4" fill="#ff9254" stroke="#6b3d23" stroke-width="0.75" stroke-linejoin="round"/>
<polygon points="251.6,94.2 244.8,93.5 251.7,90.3 258.6,90.9" fill="#ff1a1a" stroke="#6b0b0b" stroke-width="0.75" stroke-linejoin="round"/>
<polygon points="102.4,144.7 95.6,140.9 102.2,131.9 109,135.6" fill="#b5f27f" stroke="#4c6635" stroke-width="0.75" stroke-linejoin="round"/>
<polygon points="237.9,97.4 231,96.5 237.9,92.7 244.8,93.5" fill="#ff2424" stroke="#6b0f0f" stroke-width="0.75" stroke-linejoin="round"/>
<polygon points="115.7,139 109,135.6 115.6,127 122.3,130.4" fill="#d1f77b" stroke="#586834" stroke-width="0.75" stroke-linejoin="round"/>
<polygon points="224.1,100.9 217.3,99.8 224.2,95.4 231,96.5" fill="#ff3030" stroke="#6b1414" stroke-width="0.75" stroke-linejoin="round"/>
<polygon points="129.1,133.6 122.3,130.4 129,122.3 135.7,125.4" fill="#edfc76" stroke="#646a32" stroke-width="0.75" stroke-linejoin="round"/>
<polygon points="210.4,104.8 203.6,103.4 210.5,98.4 217.3,99.8" fill="#ff443c" stroke="#6b1d19" stroke-width="0.75" stroke-linejoin="round"/>
<polygon points="142.5,128.2 135.7,125.4 142.5,117.8 149.2,120.5" fill="#fff370" stroke="#6b662f" stroke-width="0.75" stroke-linejoin="round"/>
<polygon points="196.7,109 189.9,107.3 196.8,101.8 203.6,103.4" fill="#ff6b48" stroke="#6b2d1e" stroke-width="0.75" stroke-linejoin="round"/>
<polygon points="156,123.1 149.2,120.5 156,113.5 162.7,115.9" fill="#ffd467" stroke="#6b592b" stroke-width="0.75" stroke-linejoin="round"/>
<polygon points="183.1,113.4 176.3,111.5 183.2,105.4 189.9,107.3" fill="#ff9053" stroke="#6b3c23" stroke-width="0.75" stroke-linejoin="round"/>
<polygon points="169.5,118.1 162.7,115.9 169.5,109.3 176.3,111.5" fill="#ffb35e" stroke="#6b4b27" stroke-width="0.75" stroke-linejoin="round"/>
<polygon points="244.7,98.1 237.9,97.4 244.8,93.5 251.6,94.2" fill="#ff2424" stroke="#6b0f0f" stroke-width="0.75" stroke-linejoin="round"/>
<polygon points="109.1,148.2 102.4,144.7 109,135.6 115.7,139" fill="#b0f180" stroke="#4a6536" stroke-width="0.75" stroke-linejoin="round"/>
<polygon points="230.9,101.9 224.1,100.9 231,96.5 237.9,97.4" fill="#ff2f2f" stroke="#6b1414" stroke-width="0.75" stroke-linejoin="round"/>
<polygon points="122.4,142.3 115.7,139 122.3,130.4 129.1,133.6" fill="#cdf67c" stroke="#566734" stroke-width="0.75" stroke-linejoin="round"/>
<polygon points="217.2,106 210.4,104.8 217.3,99.8 224.1,100.9" fill="#ff3c3b" stroke="#6b1919" stroke-width="0.75" stroke-linejoin="round"/>
<polygon points="135.8,136.5 129.1,133.6 135.7,125.4 142.5,128.2" fill="#ebfb76" stroke="#636a32" stroke-width="0.75" stroke-linejoin="round"/>
<polygon points="203.5,110.5 196.7,109 203.6,103.4 210.4,104.8" fill="#ff6547" stroke="#6b2a1e" stroke-width="0.75" stroke-linejoin="round"/>
<polygon points="149.2,130.8 142.5,128.2 149.2,120.5 156,123.1" fill="#fff570" stroke="#6b672f" stroke-width="0.75" stroke-linejoin="round"/>
<polygon points="189.9,115.2 183.1,113.4 189.9,107.3 196.7,109" fill="#ff8c53" stroke="#6b3b23" stroke-width="0.75" stroke-linejoin="round"/>
<polygon points="162.7,125.4 156,123.1 162.7,115.9 169.5,118.1" fill="#ffd467" stroke="#6b592b" stroke-width="0.75" stroke-linejoin="round"/>
<polygon points="176.3,120.2 169.5,118.1 176.3,111.5 183.1,113.4" fill="#ffb15e" stroke="#6b4a27" stroke-width="0.75" stroke-linejoin="round"/>
<polygon points="237.8,102.7 230.9,101.9 237.9,97.4 244.7,98.1" fill="#ff2f2f" stroke="#6b1414" stroke-width="0.75" stroke-linejoin="round"/>
<polygon points="115.8,151.6 109.1,148.2 115.7,139 122.4,142.3" fill="#adf080" stroke="#496536" stroke-width="0.75" stroke-linejoin="round"/>
<polygon points="224,107.1 217.2,106 224.1,100.9 230.9,101.9" fill="#ff3b3b" stroke="#6b1919" stroke-width="0.75" stroke-linejoin="round"/>
<polygon points="129.1,145.3 122.4,142.3 129.1,133.6 135.8,136.5" fill="#cbf67c" stroke="#556734" stroke-width="0.75" stroke-linejoin="round"/>
<polygon points="210.3,111.8 203.5,110.5 210.4,104.8 217.2,106" fill="#ff5e47" stroke="#6b271e" stroke-width="0.75" stroke-linejoin="round"/>
<polygon points="142.5,139.2 135.8,136.5 142.5,128.2 149.2,130.8" fill="#e9fb76" stroke="#626932" stroke-width="0.75" stroke-linejoin="round"/>
<polygon points="196.6,116.7 189.9,115.2 196.7,109 203.5,110.5" fill="#ff8752" stroke="#6b3923" stroke-width="0.75" stroke-linejoin="round"/>
<polygon points="155.9,133.2 149.2,130.8 156,123.1 162.7,125.4" fill="#fff46f" stroke="#6b672f" stroke-width="0.75" stroke-linejoin="round"/>
<polygon points="183,122 176.3,120.2 183.1,113.4 189.9,115.2" fill="#ffae5d" stroke="#6b4927" stroke-width="0.75" stroke-linejoin="round"/>
<polygon points="169.5,127.5 162.7,125.4 169.5,118.1 176.3,120.2" fill="#ffd267" stroke="#6b582b" stroke-width="0.75" stroke-linejoin="round"/>
<polygon points="230.8,107.9 224,107.1 230.9,101.9 237.8,102.7" fill="#ff3a3a" stroke="#6b1818" stroke-width="0.75" stroke-linejoin="round"/>
<polygon points="122.5,154.7 115.8,151.6 122.4,142.3 129.1,145.3" fill="#aaf080" stroke="#476536" stroke-width="0.75" stroke-linejoin="round"/>
<polygon points="217.1,112.9 210.3,111.8 217.2,106 224,107.1" fill="#ff5546" stroke="#6b241d" stroke-width="0.75" stroke-linejoin="round"/>
<polygon points="135.8,148.1 129.1,145.3 135.8,136.5 142.5,139.2" fill="#c9f67c" stroke="#556734" stroke-width="0.75" stroke-linejoin="round"/>
<polygon points="203.4,118.1 196.6,116.7 203.5,110.5 210.3,111.8" fill="#ff8052" stroke="#6b3622" stroke-width="0.75" stroke-linejoin="round"/>
<polygon points="149.2,141.7 142.5,139.2 149.2,130.8 155.9,133.2" fill="#e9fb76" stroke="#626932" stroke-width="0.75" stroke-linejoin="round"/>
<polygon points="189.8,123.6 183,122 189.9,115.2 196.6,116.7" fill="#ffa95d" stroke="#6b4727" stroke-width="0.75" stroke-linejoin="round"/>
<polygon points="162.7,135.4 155.9,133.2 162.7,125.4 169.5,127.5" fill="#fff36f" stroke="#6b662f" stroke-width="0.75" stroke-linejoin="round"/>
<polygon points="176.2,129.4 169.5,127.5 176.3,120.2 183,122" fill="#ffcf66" stroke="#6b572b" stroke-width="0.75" stroke-linejoin="round"/>
<polygon points="223.9,113.8 217.1,112.9 224,107.1 230.8,107.9" fill="#ff4b45" stroke="#6b201d" stroke-width="0.75" stroke-linejoin="round"/>
<polygon points="129.2,157.5 122.5,154.7 129.1,145.3 135.8,148.1" fill="#a9f080" stroke="#476536" stroke-width="0.75" stroke-linejoin="round"/>
<polygon points="210.2,119.3 203.4,118.1 210.3,111.8 217.1,112.9" fill="#ff7851" stroke="#6b3322" stroke-width="0.75" stroke-linejoin="round"/>
<polygon points="142.5,150.7 135.8,148.1 142.5,139.2 149.2,141.7" fill="#c9f57b" stroke="#546734" stroke-width="0.75" stroke-linejoin="round"/>
<polygon points="196.5,125.1 189.8,123.6 196.6,116.7 203.4,118.1" fill="#ffa35c" stroke="#6b4527" stroke-width="0.75" stroke-linejoin="round"/>
<polygon points="155.9,143.9 149.2,141.7 155.9,133.2 162.7,135.4" fill="#eafb75" stroke="#626a31" stroke-width="0.75" stroke-linejoin="round"/>
<polygon points="182.9,131.1 176.2,129.4 183,122 189.8,123.6" fill="#ffcb66" stroke="#6b552b" stroke-width="0.75" stroke-linejoin="round"/>
<polygon points="169.4,137.4 162.7,135.4 169.5,127.5 176.2,129.4" fill="#fff16e" stroke="#6b652e" stroke-width="0.75" stroke-linejoin="round"/>
<polygon points="217,120.3 210.2,119.3 217.1,112.9 223.9,113.8" fill="#ff6f50" stroke="#6b2f22" stroke-width="0.75" stroke-linejoin="round"/>
<polygon points="135.9,160.2 129.2,157.5 135.8,148.1 142.5,150.7" fill="#a8f080" stroke="#476536" stroke-width="0.75" stroke-linejoin="round"/>
<polygon points="203.3,126.3 196.5,125.1 203.4,118.1 210.2,119.3" fill="#ff9c5b" stroke="#6b4126" stroke-width="0.75" stroke-linejoin="round"/>
<polygon points="149.2,153 142.5,150.7 149.2,141.7 155.9,143.9" fill="#caf67b" stroke="#556734" stroke-width="0.75" stroke-linejoin="round"/>
<polygon points="189.7,132.6 182.9,131.1 189.8,123.6 196.5,125.1" fill="#ffc665" stroke="#6b532a" stroke-width="0.75" stroke-linejoin="round"/>
<polygon points="162.7,146 155.9,143.9 162.7,135.4 169.4,137.4" fill="#ecfc75" stroke="#636a31" stroke-width="0.75" stroke-linejoin="round"/>
<polygon points="176.1,139.2 169.4,137.4 176.2,129.4 182.9,131.1" fill="#ffed6d" stroke="#6b632e" stroke-width="0.75" stroke-linejoin="round"/>
<polygon points="210.1,127.4 203.3,126.3 210.2,119.3 217,120.3" fill="#ff935a" stroke="#6b3e26" stroke-width="0.75" stroke-linejoin="round"/>
<polygon points="142.6,162.6 135.9,160.2 142.5,150.7 149.2,153" fill="#a8f07f" stroke="#476535" stroke-width="0.75" stroke-linejoin="round"/>
<polygon points="196.4,134 189.7,132.6 196.5,125.1 203.3,126.3" fill="#ffbf64" stroke="#6b502a" stroke-width="0.75" stroke-linejoin="round"/>
<polygon points="155.9,155.2 149.2,153 155.9,143.9 162.7,146" fill="#cbf67a" stroke="#556733" stroke-width="0.75" stroke-linejoin="round"/>
<polygon points="182.9,140.8 176.1,139.2 182.9,131.1 189.7,132.6" fill="#ffe86c" stroke="#6b612d" stroke-width="0.75" stroke-linejoin="round"/>
<polygon points="169.4,147.9 162.7,146 169.4,137.4 176.1,139.2" fill="#f0fc74" stroke="#656a31" stroke-width="0.75" stroke-linejoin="round"/>
<polygon points="203.2,135.1 196.4,134 203.3,126.3 210.1,127.4" fill="#ffb762" stroke="#6b4d29" stroke-width="0.75" stroke-linejoin="round"/>
<polygon points="149.3,164.9 142.6,162.6 149.2,153 155.9,155.2" fill="#aaf07e" stroke="#476535" stroke-width="0.75" stroke-linejoin="round"/>
<polygon points="189.6,142.2 182.9,140.8 189.7,132.6 196.4,134" fill="#ffe26b" stroke="#6b5f2d" stroke-width="0.75" stroke-linejoin="round"/>
<polygon points="162.6,157.1 155.9,155.2 162.7,146 169.4,147.9" fill="#cef679" stroke="#576733" stroke-width="0.75" stroke-linejoin="round"/>
<polygon points="176.1,149.5 169.4,147.9 176.1,139.2 182.9,140.8" fill="#f4fd73" stroke="#676a30" stroke-width="0.75" stroke-linejoin="round"/>
<polygon points="196.4,143.4 189.6,142.2 196.4,134 203.2,135.1" fill="#ffda6a" stroke="#6b5c2c" stroke-width="0.75" stroke-linejoin="round"/>
<polygon points="155.9,166.9 149.3,164.9 155.9,155.2 162.6,157.1" fill="#acf07d" stroke="#486535" stroke-width="0.75" stroke-linejoin="round"/>
<polygon points="182.8,151 176.1,149.5 182.9,140.8 189.6,142.2" fill="#fafe71" stroke="#696b30" stroke-width="0.75" stroke-linejoin="round"/>
<polygon points="169.3,158.8 162.6,157.1 169.4,147.9 176.1,149.5" fill="#d2f778" stroke="#586832" stroke-width="0.75" stroke-linejoin="round"/>
<polygon points="189.5,152.3 182.8,151 189.6,142.2 196.4,143.4" fill="#fffe70" stroke="#6b6b2f" stroke-width="0.75" stroke-linejoin="round"/>
<polygon points="162.6,168.7 155.9,166.9 162.6,157.1 169.3,158.8" fill="#aff17c" stroke="#4a6534" stroke-width="0.75" stroke-linejoin="round"/>
<polygon points="176,160.4 169.3,158.8 176.1,149.5 182.8,151" fill="#d7f877" stroke="#5a6832" stroke-width="0.75" stroke-linejoin="round"/>
<polygon points="182.8,161.7 176,160.4 182.8,151 189.5,152.3" fill="#ddf975" stroke="#5d6931" stroke-width="0.75" stroke-linejoin="round"/>
<polygon points="169.3,170.3 162.6,168.7 169.3,158.8 176,160.4" fill="#b4f27b" stroke="#4c6634" stroke-width="0.75" stroke-linejoin="round"/>
<polygon points="176,171.7 169.3,170.3 176,160.4 182.8,161.7" fill="#b9f37a" stroke="#4e6633" stroke-width="0.75" stroke-linejoin="round"/>
<circle cx="44.6" cy="173" r="1.25" fill="#000"/>
<text x="41.1" y="171.3" font-size="6.3" text-anchor="end" fill="#2a2a2a">50</text>
<circle cx="43.3" cy="145.8" r="1.25" fill="#000"/>
<text x="39.8" y="144.1" font-size="6.3" text-anchor="end" fill="#2a2a2a">60</text>
<circle cx="42" cy="118.6" r="1.25" fill="#000"/>
<text x="38.5" y="116.9" font-size="6.3" text-anchor="end" fill="#2a2a2a">70</text>
<circle cx="40.7" cy="91.4" r="1.25" fill="#000"/>
<text x="37.2" y="89.7" font-size="6.3" text-anchor="end" fill="#2a2a2a">80</text>
<circle cx="39.4" cy="64.2" r="1.25" fill="#000"/>
<text x="35.9" y="62.5" font-size="6.3" text-anchor="end" fill="#2a2a2a">90</text>
<circle cx="38.1" cy="37" r="1.25" fill="#000"/>
<text x="34.6" y="35.3" font-size="6.3" text-anchor="end" fill="#2a2a2a">100</text>
<circle cx="176.7" cy="277.8" r="1.25" fill="#000"/>
<text x="173.5" y="284.4" font-size="6" text-anchor="end" fill="#2a2a2a">2.5</text>
<circle cx="176.7" cy="277.8" r="1.25" fill="#000"/>
<text x="180.1" y="284.1" font-size="6" fill="#2a2a2a">2.375</text>
<circle cx="150.7" cy="265.4" r="1.25" fill="#000"/>
<text x="147.5" y="272" font-size="6" text-anchor="end" fill="#2a2a2a">3.5</text>
<circle cx="202.7" cy="265.3" r="1.25" fill="#000"/>
<text x="206.1" y="271.6" font-size="6" fill="#2a2a2a">3.325</text>
<circle cx="124.7" cy="253" r="1.25" fill="#000"/>
<text x="121.5" y="259.6" font-size="6" text-anchor="end" fill="#2a2a2a">4.5</text>
<circle cx="228.7" cy="252.8" r="1.25" fill="#000"/>
<text x="232.1" y="259.1" font-size="6" fill="#2a2a2a">4.275</text>
<circle cx="98.7" cy="240.5" r="1.25" fill="#000"/>
<text x="95.5" y="247.2" font-size="6" text-anchor="end" fill="#2a2a2a">5.5</text>
<circle cx="254.7" cy="240.3" r="1.25" fill="#000"/>
<text x="258.1" y="246.7" font-size="6" fill="#2a2a2a">5.225</text>
<circle cx="72.7" cy="228.1" r="1.25" fill="#000"/>
<text x="69.5" y="234.8" font-size="6" text-anchor="end" fill="#2a2a2a">6.5</text>
<circle cx="280.7" cy="227.8" r="1.25" fill="#000"/>
<text x="284.1" y="234.2" font-size="6" fill="#2a2a2a">6.175</text>
<circle cx="46.7" cy="215.7" r="1.25" fill="#000"/>
<text x="43.5" y="222.3" font-size="6" text-anchor="end" fill="#2a2a2a">7.5</text>
<circle cx="306.7" cy="215.3" r="1.25" fill="#000"/>
<text x="310.1" y="221.7" font-size="6" fill="#2a2a2a">7.125</text>
<text x="2.3" y="50" font-size="12.8" font-weight="bold" fill="#000">D.</text>
<text x="0" y="0" font-size="8.4" text-anchor="middle" fill="#2a2a2a" stroke="#2a2a2a" stroke-width="0.15" transform="translate(18.5,145.3) rotate(-90)" dy="2.9">EE (%)</text>
<text x="14.4" y="273.3" font-size="9.4" textLength="64.1" lengthAdjust="spacingAndGlyphs" fill="#2a2a2a" stroke="#2a2a2a" stroke-width="0.15">B: tween80 (%)</text>
<text x="245.8" y="276" font-size="9.4" textLength="87.6" lengthAdjust="spacingAndGlyphs" fill="#2a2a2a" stroke="#2a2a2a" stroke-width="0.15">A: Phospholipid (mg)</text>
<circle cx="41.1" cy="103.1" r="3.2" fill="#f6c4c4" stroke="#b08080" stroke-width="0.5"/>
<circle cx="176.7" cy="169.7" r="3" fill="#a80000" stroke="#4a0000" stroke-width="0.6"/>
<circle cx="176.8" cy="77.4" r="3" fill="#a80000" stroke="#4a0000" stroke-width="0.6"/>
<circle cx="313" cy="88.9" r="3" fill="#a80000" stroke="#4a0000" stroke-width="0.6"/>
<polyline points="395,170.6 527.5,125.8 659.2,170.2" stroke="#3a3a3a" stroke-width="0.8" fill="none"/>
<polyline points="393.7,143.4 527.4,101.2 660.5,143" stroke="#3a3a3a" stroke-width="0.8" fill="none"/>
<polyline points="392.4,116.2 527.4,76.7 661.9,115.8" stroke="#3a3a3a" stroke-width="0.8" fill="none"/>
<polyline points="391.1,89 527.4,52.1 663.2,88.6" stroke="#3a3a3a" stroke-width="0.8" fill="none"/>
<polyline points="389.8,61.8 527.3,27.6 664.6,61.4" stroke="#3a3a3a" stroke-width="0.8" fill="none"/>
<polyline points="388.5,34.6 527.3,3 665.9,34.2" stroke="#3a3a3a" stroke-width="0.8" fill="none"/>
<line x1="421.5" y1="161.6" x2="416.3" y2="28.3" stroke="#3a3a3a" stroke-width="0.8" fill="none"/>
<line x1="632.9" y1="161.3" x2="638.2" y2="28" stroke="#3a3a3a" stroke-width="0.8" fill="none"/>
<line x1="448" y1="152.7" x2="444" y2="22" stroke="#3a3a3a" stroke-width="0.8" fill="none"/>
<line x1="606.5" y1="152.4" x2="610.5" y2="21.7" stroke="#3a3a3a" stroke-width="0.8" fill="none"/>
<line x1="474.5" y1="143.7" x2="471.8" y2="15.6" stroke="#3a3a3a" stroke-width="0.8" fill="none"/>
<line x1="580.2" y1="143.5" x2="582.7" y2="15.5" stroke="#3a3a3a" stroke-width="0.8" fill="none"/>
<line x1="501" y1="134.7" x2="499.5" y2="9.3" stroke="#3a3a3a" stroke-width="0.8" fill="none"/>
<line x1="553.8" y1="134.6" x2="555" y2="9.2" stroke="#3a3a3a" stroke-width="0.8" fill="none"/>
<line x1="397.1" y1="213.3" x2="388.5" y2="34.6" stroke="#3a3a3a" stroke-width="0.8" fill="none"/>
<line x1="527.5" y1="164.3" x2="527.3" y2="3" stroke="#3a3a3a" stroke-width="0.8" fill="none"/>
<line x1="657.1" y1="212.9" x2="665.9" y2="34.2" stroke="#3a3a3a" stroke-width="0.8" fill="none"/>
<polygon points="527.1,275.4 397.1,213.3 527.5,164.3 657.1,212.9" fill="#666666" stroke="#222" stroke-width="0.8"/>
<polyline points="653.3,214.7 653.4,214.3 653.4,214.1 653.4,213.8 653.5,213.5 653.5,213.2 653.5,213 653.6,212.7 653.6,212.4 653.6,212.1 653.6,211.8 653.6,211.6" fill="none" stroke="#14b4e5" stroke-width="1.5"/>
<polyline points="410.4,208.3 410.4,208.5 410.2,208.9 410.2,209 410.1,209.5 410.1,209.5 410,210 409.9,210.1 409.8,210.5 409.8,210.7 409.7,211 409.6,211.3 409.6,211.5 409.5,212 409.5,212 409.4,212.5 409.4,212.6 409.3,213 409.2,213.1 409.2,213.5 409.1,213.7 409.1,214 409,214.3 409,214.5 409,214.9 409,215 408.9,215.5 408.9,215.6 408.8,216.1 408.8,216.1 408.8,216.6 408.8,216.7 408.7,217.2 408.7,217.2 408.7,217.7 408.7,217.8 408.7,218.3 408.7,218.4 408.7,218.8" fill="none" stroke="#14b4e5" stroke-width="1.5"/>
<polyline points="638.2,222 638.2,221.9 638.4,221.4 638.4,221.3 638.6,221 638.7,220.6 638.7,220.5 638.9,220 638.9,220 639.1,219.5 639.1,219.3 639.2,219 639.3,218.6 639.4,218.5 639.5,218 639.5,218 639.7,217.4 639.7,217.3 639.8,216.9 639.9,216.7 639.9,216.4 640,216.1 640.1,215.9 640.2,215.4 640.2,215.4 640.3,214.9 640.3,214.8 640.4,214.4 640.4,214.2 640.5,213.8 640.5,213.6 640.5,213.3 640.6,213 640.6,212.8 640.7,212.4 640.7,212.3 640.7,211.8 640.7,211.7 640.8,211.3 640.8,211.2 640.8,210.7 640.8,210.7 640.9,210.1 640.9,210.1 640.9,209.6 640.9,209.6 640.9,209 640.9,209 640.9,208.5 640.9,208.5 640.9,207.9 640.9,207.9 640.9,207.4 640.9,207.4 640.9,206.8" fill="none" stroke="#14d798" stroke-width="1.5"/>
<polyline points="520.8,272.4 521.6,272.4 522.2,272.4 522.9,272.4 523.5,272.4 524.2,272.4 524.8,272.4 525.5,272.4 526.1,272.4 526.8,272.4 527.4,272.4 528.1,272.4 528.7,272.4 529.5,272.4 529.9,272.4 530.8,272.4 531.1,272.4 532.2,272.3 532.4,272.3 533.6,272.3 533.6,272.3" fill="none" stroke="#14d798" stroke-width="1.5"/>
<polyline points="425.8,202.5 425.6,203 425.5,203.2 425.4,203.4 425.2,203.8 425.2,203.9 425,204.3 424.9,204.5 424.8,204.8 424.7,205.1 424.6,205.2 424.4,205.7 424.4,205.7 424.3,206.2 424.2,206.4 424.1,206.7 424,207 424,207.1 423.8,207.6 423.8,207.6 423.7,208.1 423.6,208.2 423.5,208.6 423.4,208.8 423.4,209.1 423.3,209.5 423.3,209.6 423.1,210 423.1,210.1 423,210.5 423,210.7 422.9,211.1 422.9,211.3 422.8,211.6 422.8,211.8 422.7,212.1 422.7,212.4 422.7,212.6 422.6,213 422.6,213.1 422.5,213.6 422.5,213.6 422.5,214.2 422.5,214.2 422.4,214.7 422.4,214.8 422.4,215.2 422.4,215.3 422.3,215.8 422.3,215.9 422.3,216.3 422.3,216.5 422.3,216.9 422.3,217 422.3,217.4 422.3,217.6 422.3,218 422.3,218.2 422.3,218.5 422.3,218.7 422.3,219.1 422.3,219.3 422.3,219.7 422.3,219.8 422.4,220.3 422.4,220.3 422.4,220.9 422.4,220.9 422.5,221.4 422.5,221.5 422.6,222 422.6,222.1 422.7,222.5 422.7,222.7 422.7,223 422.8,223.3 422.8,223.6 422.9,223.9 422.9,224.1 423,224.6 423,224.6 423.2,225.1 423.2,225.2 423.3,225.6 423.3,225.8" fill="none" stroke="#14d798" stroke-width="1.5"/>
<polyline points="614.6,233.3 614.8,233.2 615.2,232.8 615.5,232.3 615.6,232.3 615.9,231.9 616.3,231.5 616.5,231.3 616.7,231.1 617,230.6 617.3,230.3 617.4,230.2 617.7,229.8 618.1,229.4 618.1,229.3 618.4,228.9 618.8,228.5 618.8,228.5 619.1,228 619.4,227.6 619.4,227.6 619.7,227.1 620,226.7 620,226.7 620.3,226.2 620.6,225.9 620.6,225.8 620.9,225.3 621.1,225.1 621.2,224.9 621.5,224.4 621.6,224.3 621.7,224 622,223.5 622,223.5 622.3,223 622.4,222.8 622.5,222.6 622.8,222.1 622.8,222 623,221.6 623.2,221.3 623.2,221.2 623.4,220.7 623.5,220.6 623.7,220.2 623.8,219.8 623.9,219.7 624.1,219.2 624.1,219.1 624.3,218.7 624.4,218.5 624.4,218.3 624.6,217.8 624.6,217.8 624.8,217.3 624.8,217.1 624.9,216.8 625,216.5 625.1,216.3 625.2,215.8 625.2,215.8 625.4,215.3 625.4,215.2 625.5,214.8 625.6,214.5 625.6,214.3 625.7,213.9 625.8,213.7 625.9,213.3 625.9,213.2 626,212.7 626,212.7 626.1,212.2 626.1,212.1 626.1,211.7 626.2,211.5 626.2,211.2 626.2,210.9 626.3,210.6 626.3,210.3 626.3,210.1 626.4,209.8 626.4,209.6 626.4,209.2 626.4,209 626.4,208.6 626.4,208.5 626.5,208.1 626.5,207.9 626.5,207.5 626.5,207.4 626.5,207 626.5,206.8 626.5,206.4 626.4,206.3 626.4,205.9 626.4,205.7 626.4,205.4 626.4,205.2 626.4,204.9 626.3,204.6 626.3,204.3 626.3,204.1 626.3,203.8 626.2,203.5 626.2,203.3 626.1,202.9 626.1,202.8 626.1,202.3 626,202.3 626,201.8 625.9,201.8 625.9,201.3 625.8,201.2" fill="none" stroke="#14c119" stroke-width="1.5"/>
<polyline points="495.1,260.1 495.3,260.2 496.2,260.3 497.2,260.5 497.2,260.5 498.2,260.7 499.1,260.8 499.2,260.8 500.1,261 501.1,261.1 501.1,261.1 502.1,261.3 502.9,261.4 503.1,261.4 504.2,261.6 504.7,261.6 505.2,261.7 506.2,261.8 506.4,261.9 507.3,262 508.1,262 508.4,262.1 509.4,262.2 509.7,262.2 510.5,262.3 511.3,262.3 511.6,262.4 512.8,262.5 512.9,262.5 513.9,262.5 514.4,262.6 515,262.6 515.9,262.7 516.2,262.7 517.3,262.8 517.4,262.8 518.6,262.8 518.8,262.8 519.8,262.9 520.2,262.9 521,262.9 521.6,262.9 522.2,262.9 522.9,262.9 523.5,263 524.3,263 524.7,263 525.6,263 526,263 526.9,263 527.3,263 528.2,263 528.7,263 529.4,262.9 530,262.9 530.7,262.9 531.4,262.9 531.9,262.9 532.8,262.8 533.1,262.8 534.2,262.8 534.3,262.8 535.5,262.7 535.6,262.7 536.7,262.7 537.1,262.6 537.8,262.6 538.6,262.5 539,262.5 540.1,262.4 540.1,262.4 541.2,262.3 541.7,262.3 542.3,262.2 543.2,262.1 543.4,262.1 544.5,262 544.9,262 545.6,261.9 546.5,261.8 546.6,261.8 547.7,261.6 548.3,261.6 548.7,261.5 549.8,261.4 550,261.3 550.8,261.2 551.8,261.1 551.8,261.1 552.8,260.9 553.7,260.8 553.8,260.8 554.8,260.6 555.6,260.5 555.7,260.4 556.7,260.3 557.6,260.1 557.7,260.1 558.6,259.9 559.5,259.7 559.8,259.7" fill="none" stroke="#14c119" stroke-width="1.5"/>
<polyline points="444.8,195.4 444.8,195.4 444.5,195.8 444.3,196.1 444.2,196.3 443.9,196.7 443.8,196.8 443.6,197.1 443.3,197.5 443.3,197.5 443.1,197.9 442.9,198.2 442.8,198.3 442.6,198.7 442.4,198.9 442.3,199.2 442.1,199.6 442,199.6 441.8,200 441.7,200.3 441.6,200.5 441.3,200.9 441.3,201 441.1,201.3 441,201.6 440.9,201.8 440.7,202.2 440.6,202.3 440.5,202.7 440.3,202.9 440.3,203.1 440.1,203.6 440.1,203.6 439.9,204 439.8,204.2 439.7,204.5 439.5,204.9 439.5,204.9 439.3,205.4 439.3,205.5 439.2,205.9 439.1,206.1 439,206.4 438.9,206.8 438.9,206.8 438.7,207.3 438.7,207.4 438.6,207.8 438.5,208 438.5,208.3 438.4,208.6 438.3,208.8 438.3,209.2 438.2,209.3 438.1,209.8 438.1,209.8 438,210.3 438,210.4 437.9,210.8 437.9,211 437.9,211.3 437.8,211.5 437.8,211.8 437.7,212.1 437.7,212.4 437.7,212.7 437.7,212.9 437.6,213.3 437.6,213.4 437.6,213.8 437.6,214 437.6,214.4 437.6,214.5 437.6,215 437.6,215.1 437.6,215.5 437.6,215.6 437.6,216.1 437.6,216.2 437.6,216.6 437.6,216.7 437.6,217.2 437.6,217.3 437.6,217.7 437.7,217.9 437.7,218.3 437.7,218.5 437.8,218.8 437.8,219.1 437.8,219.3 437.9,219.7 437.9,219.8 438,220.3 438,220.4 438.1,220.9 438.1,220.9 438.2,221.4 438.2,221.5 438.3,221.9 438.4,222.2 438.4,222.4 438.5,222.8 438.6,223 438.7,223.5 438.7,223.5 438.9,224 438.9,224.1 439,224.5 439.2,224.8 439.2,225 439.4,225.5 439.4,225.5 439.6,225.9 439.7,226.2 439.8,226.4 440,226.9 440,226.9 440.2,227.4 440.3,227.6 440.4,227.9 440.7,228.4 440.7,228.4 440.9,228.8 441.1,229.1 441.2,229.3 441.4,229.8 441.5,229.9 441.7,230.2 441.9,230.7 441.9,230.7 442.2,231.2 442.4,231.5 442.5,231.6 442.8,232.1 443,232.3 443.1,232.5 443.4,233 443.6,233.2 443.7,233.4 444.1,233.9 444.2,234.1 444.4,234.3 444.7,234.7 445,235 445.1,235.2 445.4,235.6 445.8,236 445.8,236 446.2,236.4 446.6,236.9 446.7,237" fill="none" stroke="#14c119" stroke-width="1.5"/>
<polyline points="536.6,167.7 536.5,167.7 535.4,167.7 535.2,167.7 534.2,167.8 533.8,167.8 533,167.8 532.3,167.9 531.8,167.9 530.8,167.9 530.7,168 529.6,168 529.2,168 528.5,168.1 527.6,168.2 527.4,168.2 526.3,168.3 525.9,168.3 525.3,168.4 524.3,168.5 524.1,168.5 523.2,168.6 522.3,168.7 522.3,168.7 521.3,168.8 520.3,169 520.3,169 519.4,169.1 518.4,169.2 518.2,169.3 517.5,169.4 516.6,169.5 516,169.6 515.7,169.7 514.8,169.8 513.9,170 513.5,170.1 513,170.1 512.2,170.3 511.3,170.5 510.7,170.6" fill="none" stroke="#8dd514" stroke-width="1.5"/>
<polyline points="476.9,183.3 476.7,183.4 476.2,183.7 475.7,184.1 475.2,184.4 474.9,184.6 474.7,184.7 474.3,185 473.8,185.3 473.3,185.6 473.2,185.7 472.9,186 472.4,186.3 471.9,186.6 471.7,186.8 471.5,187 471.1,187.3 470.6,187.6 470.3,187.8 470.2,188 469.8,188.3 469.3,188.7 469.1,188.8 468.9,189 468.5,189.3 468.1,189.7 468,189.8 467.7,190.1 467.3,190.4 467,190.7 466.9,190.8 466.5,191.1 466.1,191.5 466.1,191.5 465.8,191.9 465.4,192.2 465.2,192.4 465,192.6 464.7,193 464.4,193.2 464.3,193.3 464,193.7 463.7,194 463.6,194.1 463.3,194.5 463,194.8 463,194.9 462.6,195.3 462.4,195.6 462.3,195.7 462,196.1 461.8,196.4 461.7,196.5 461.4,196.9 461.2,197.1 461.1,197.3 460.8,197.7 460.7,197.8 460.5,198.1 460.2,198.5 460.2,198.6 460,198.9 459.8,199.3 459.7,199.3 459.5,199.8 459.3,200 459.2,200.2 459,200.6 458.9,200.6 458.7,201.1 458.6,201.3 458.5,201.5 458.3,201.9 458.2,202 458,202.4 457.9,202.7 457.8,202.8 457.6,203.3 457.6,203.3 457.4,203.7 457.3,204 457.3,204.2 457.1,204.6 457.1,204.6 456.9,205.1 456.9,205.2 456.7,205.6 456.7,205.8 456.6,206.1 456.5,206.5 456.4,206.5 456.3,207 456.3,207.1 456.2,207.5 456.1,207.7 456.1,208 456,208.3 456,208.5 455.9,208.9 455.9,209 455.8,209.5 455.8,209.5 455.7,210 455.7,210 455.6,210.6 455.6,210.6 455.6,211.1 455.6,211.2 455.5,211.6 455.5,211.8 455.5,212.2 455.5,212.3 455.5,212.7 455.5,212.9 455.5,213.3 455.5,213.4 455.5,213.8 455.5,214 455.5,214.4 455.5,214.5 455.5,214.9 455.5,215.1 455.6,215.5 455.6,215.6 455.7,216.1 455.7,216.1 455.7,216.7 455.7,216.7 455.8,217.2 455.8,217.3 455.9,217.7 456,217.9 456,218.2 456.1,218.6 456.1,218.7 456.3,219.2 456.3,219.2 456.4,219.7 456.4,219.8 456.6,220.2 456.7,220.5 456.7,220.7 456.9,221.2 456.9,221.2 457.1,221.7 457.1,221.8 457.3,222.2 457.4,222.5 457.5,222.7 457.7,223.1 457.8,223.3 457.9,223.6 458.1,224 458.2,224.1 458.4,224.5 458.5,224.7 458.7,225 458.9,225.5 458.9,225.5 459.2,225.9 459.4,226.3 459.5,226.4 459.8,226.8 460,227.1 460.1,227.3 460.4,227.7 460.6,228 460.7,228.1 461,228.6 461.2,228.8 461.4,229 461.7,229.4 462,229.8 462.1,229.9 462.4,230.3 462.8,230.7 462.8,230.7 463.2,231.1 463.6,231.5 463.8,231.7 464,231.9 464.4,232.3 464.8,232.7 464.9,232.8 465.2,233.1 465.6,233.5 466.1,233.9 466.2,234 466.5,234.3 467,234.7 467.4,235.1 467.7,235.3 467.9,235.5 468.4,235.8 468.9,236.2 469.4,236.6 469.7,236.8 469.9,236.9 470.4,237.3 470.9,237.7 471.4,238 472,238.4 472.5,238.7 472.6,238.8 473.1,239.1 473.6,239.4 474.2,239.7 474.8,240.1 475.4,240.4 476,240.7 476.6,241.1 477.2,241.4 477.8,241.7 478.4,242 479.1,242.3 479.7,242.6 480.4,242.9 481,243.2 481.7,243.5 482.4,243.8 483.1,244.1 483.8,244.4 484.5,244.7 485.2,244.9 485.9,245.2 486.7,245.5 487.4,245.8 487.8,245.9 488.2,246 488.9,246.3 489.7,246.5 490.5,246.8 491.3,247 491.8,247.2 492.1,247.2 492.9,247.5 493.7,247.7 494.5,247.9 495,248.1 495.3,248.2 496.2,248.4 497,248.6 497.7,248.7 497.9,248.8 498.8,249 499.7,249.2 500.2,249.3 500.6,249.4 501.5,249.6 502.4,249.7 502.4,249.7 503.4,249.9 504.3,250.1 504.5,250.1 505.3,250.3 506.2,250.4 506.5,250.5 507.2,250.6 508.2,250.7 508.4,250.7 509.2,250.8 510.2,251 510.2,251 511.3,251.1 511.9,251.2 512.3,251.2 513.4,251.3 513.6,251.4 514.5,251.4 515.2,251.5 515.6,251.5 516.7,251.6 516.8,251.6 517.8,251.7 518.3,251.7 518.9,251.8 519.8,251.8 520.1,251.8 521.2,251.9 521.3,251.9 522.5,252 522.7,252 523.7,252 524,252 525,252 525.4,252 526.2,252 526.7,252 527.5,252 528,252 528.8,252 529.3,252 530.2,252 530.6,252 531.5,252 531.8,252 532.9,251.9 533,251.9 534.2,251.9 534.3,251.9 535.4,251.8 535.8,251.8 536.5,251.7 537.3,251.7 537.7,251.7 538.8,251.6 538.8,251.6 539.9,251.5 540.4,251.4 541,251.4 542,251.3 542.1,251.3 543.2,251.2 543.7,251.1 544.2,251 545.3,250.9 545.4,250.9 546.3,250.8 547.2,250.6 547.3,250.6 548.3,250.5 549.1,250.4 549.3,250.3 550.3,250.2 551,250 551.2,250 552.2,249.8 553.1,249.7 553.1,249.7 554.1,249.5 555,249.3 555.2,249.3 555.9,249.1 556.8,248.9 557.5,248.8 557.7,248.7 558.6,248.5 559.5,248.3 560.1,248.2 560.3,248.1 561.2,247.9 562,247.7 562.8,247.5 562.9,247.4 563.7,247.2 564.5,247 565.3,246.7 566,246.5 566.1,246.5 566.9,246.3 567.7,246 568.5,245.8 569.3,245.5 569.9,245.3 570,245.3 570.8,245 571.5,244.7 572.3,244.5 573,244.2 573.7,243.9 574.4,243.6 575.1,243.4 575.9,243.1 576,243 576.5,242.8 577.2,242.5 577.9,242.2 578.6,241.9 579.2,241.6 579.9,241.3 580.6,241 581.2,240.7 581.8,240.4 582.5,240 583.1,239.7 583.7,239.4 584.3,239.1 584.3,239.1 584.9,238.7 585.5,238.4 586.1,238.1 586.7,237.7 587.3,237.4 587.8,237.1 588.4,236.7 588.9,236.4 589.3,236.2 589.5,236 590,235.7 590.6,235.3 591.1,235 591.6,234.6 592.1,234.2 592.1,234.2 592.6,233.9 593.1,233.5 593.6,233.1 594.1,232.7 594.2,232.7 594.6,232.4 595,232 595.5,231.6 595.8,231.3 596,231.2 596.4,230.8 596.9,230.4 597.3,230.1 597.3,230 597.7,229.6 598.2,229.3 598.5,228.9 598.6,228.8 599,228.4 599.4,228 599.6,227.9 599.8,227.6 600.2,227.2 600.5,226.8 600.6,226.8 600.9,226.4 601.3,226 601.4,225.9 601.7,225.5 602,225.1 602.2,224.9 602.4,224.7 602.7,224.3 602.9,224 603,223.8 603.4,223.4 603.5,223.2 603.7,223 604,222.5 604.1,222.3 604.3,222.1 604.6,221.6 604.6,221.5 604.9,221.2 605.1,220.7 605.1,220.7 605.4,220.3 605.6,220 605.7,219.8 605.9,219.4 606,219.2 606.2,218.9 606.4,218.5 606.4,218.4 606.6,218 606.7,217.8 606.9,217.5 607.1,217 607.1,217 607.3,216.5 607.4,216.4 607.5,216.1 607.6,215.7 607.7,215.6 607.8,215.1 607.9,215 608,214.6 608.1,214.3 608.2,214.1 608.3,213.7 608.3,213.6 608.5,213.1 608.5,213.1 608.6,212.6 608.6,212.4 608.7,212.1 608.8,211.8 608.8,211.6 608.9,211.2 608.9,211.1 609,210.6 609,210.6 609.1,210 609.1,210 609.2,209.5 609.2,209.4 609.2,209 609.2,208.9 609.3,208.5 609.3,208.3 609.3,207.9 609.3,207.7 609.3,207.4 609.3,207.2 609.3,206.9 609.3,206.6 609.3,206.3 609.3,206.1 609.3,205.8 609.3,205.6 609.3,205.2 609.3,205 609.3,204.6 609.3,204.5 609.2,204.1 609.2,204 609.2,203.5 609.1,203.5 609.1,203 609.1,202.9 609,202.5 609,202.4 608.9,202 608.9,201.8 608.8,201.5 608.7,201.2 608.7,201 608.6,200.6 608.6,200.5 608.4,200 608.4,200 608.3,199.6 608.2,199.4 608.2,199.1 608,198.8 608,198.6 607.8,198.2 607.8,198.2 607.7,197.7 607.6,197.5 607.5,197.3 607.3,196.9 607.3,196.8 607.1,196.4 607,196.3 606.9,195.9 606.7,195.6 606.7,195.5 606.5,195 606.4,194.9 606.2,194.6 606,194.3 606,194.2 605.7,193.8 605.6,193.6" fill="none" stroke="#8dd514" stroke-width="1.5"/>
<polyline points="559,233.5 559.8,233.2 560.5,233 561.2,232.7 561.9,232.4 562.6,232.2 563.3,231.9 564,231.6 564.7,231.3 565.3,231 566,230.7 566.6,230.4 567.3,230.1 567.9,229.8 568.5,229.5 569.1,229.2 569.7,228.8 570.3,228.5 570.8,228.2 571.4,227.9 571.8,227.6 572,227.5 572.5,227.2 573.1,226.8 573.6,226.5 574.1,226.1 574.6,225.8 574.6,225.8 575.1,225.4 575.6,225.1 576.1,224.7 576.6,224.3 576.6,224.3 577,223.9 577.5,223.6 577.9,223.2 578.1,223.1 578.4,222.8 578.8,222.4 579.2,222 579.3,221.9 579.6,221.6 580,221.2 580.3,220.9 580.4,220.8 580.8,220.4 581.2,220 581.2,219.9 581.5,219.6 581.9,219.2 582,219 582.2,218.8 582.5,218.3 582.7,218.2 582.9,217.9 583.2,217.5 583.3,217.3 583.5,217 583.8,216.6 583.8,216.5 584,216.2 584.3,215.8 584.3,215.7 584.6,215.3 584.7,215 584.8,214.8 585.1,214.3 585.1,214.3 585.3,213.9 585.4,213.6 585.5,213.4 585.7,212.9 585.7,212.9 585.9,212.5 586,212.3 586.1,212 586.2,211.6 586.2,211.5 586.4,211 586.4,211 586.5,210.5 586.5,210.4 586.6,210 586.7,209.7 586.7,209.5 586.8,209.1 586.8,209 586.9,208.6 586.9,208.5 587,208 587,207.9 587,207.4 587,207.4 587.1,206.9 587.1,206.8 587.1,206.3 587.1,206.3 587.1,205.8 587.1,205.8 587.1,205.3 587.1,205.2 587,204.7 587,204.7 587,204.2 587,204.1 586.9,203.7 586.9,203.6 586.8,203.2 586.8,203 586.7,202.7 586.7,202.4 586.6,202.2 586.5,201.8 586.5,201.7 586.3,201.2 586.3,201.2 586.2,200.8 586.1,200.6 586,200.3 585.9,199.9 585.9,199.8 585.7,199.4 585.6,199.3 585.5,198.9 585.3,198.6 585.3,198.5 585,198.1 585,198 584.8,197.6 584.6,197.3 584.6,197.2 584.3,196.8 584.2,196.6 584,196.4 583.8,195.9 583.7,195.9 583.5,195.5 583.2,195.2 583.2,195.1 582.9,194.7 582.6,194.4 582.6,194.3 582.2,194 581.9,193.6 581.9,193.6 581.6,193.2 581.2,192.8 581.2,192.8 580.9,192.4 580.5,192.1 580.3,191.9 580.1,191.7 579.7,191.4 579.3,191 579.3,191 578.9,190.7 578.5,190.3 578.2,190.1 578.1,190 577.6,189.6 577.2,189.3 576.8,189 576.7,189 576.3,188.7 575.8,188.3 575.3,188 575,187.8 574.8,187.7 574.3,187.4 573.8,187.1 573.3,186.8 572.8,186.5 572.4,186.3 572.2,186.2 571.7,185.9 571.1,185.6 570.5,185.3 570,185.1 569.4,184.8 568.8,184.5 568.2,184.3 567.5,184 566.9,183.8 566.3,183.5 565.6,183.3 565,183 564.3,182.8 563.6,182.6 562.9,182.3 562.2,182.1 561.5,181.9 560.7,181.7 560,181.5 559.2,181.3 559.2,181.3 558.5,181.1 557.7,180.9 556.9,180.7 556,180.5 555.7,180.5 555.2,180.4 554.4,180.2 553.5,180 553.1,180 552.6,179.9 551.7,179.7 550.8,179.6 550.8,179.6 549.8,179.5 548.9,179.4 548.8,179.3 547.9,179.2 546.9,179.1 546.9,179.1 545.9,179 545.2,179 544.8,179 543.7,178.9 543.5,178.9 542.6,178.8 542,178.8 541.5,178.8 540.5,178.7 540.3,178.7 539.1,178.7 539.1,178.7 537.8,178.7 537.8,178.7 536.5,178.7 536.5,178.7 535.2,178.7 535.2,178.7 534,178.7 533.8,178.8 532.8,178.8 532.3,178.8 531.6,178.9 530.8,178.9 530.5,178.9 529.4,179 529.2,179 528.4,179.1 527.5,179.2 527.3,179.2 526.3,179.3 525.7,179.4 525.3,179.4 524.3,179.6 523.8,179.6 523.3,179.7 522.4,179.8 521.7,180 521.5,180 520.6,180.1 519.7,180.3 519.3,180.4 518.8,180.5 517.9,180.6 517.1,180.8 516.6,180.9 516.2,181 515.4,181.2 514.6,181.4 513.8,181.6 513.3,181.7 513,181.8 512.3,182 511.5,182.2 510.7,182.4 510,182.6 509.3,182.8 508.5,183 508.1,183.2 507.8,183.3 507.1,183.5 506.4,183.7 505.8,184 505.1,184.2 504.4,184.5 503.8,184.7 503.1,185 502.5,185.2 501.9,185.5 501.2,185.8 500.6,186 500,186.3 499.9,186.4 499.4,186.6 498.8,186.9 498.3,187.2 497.7,187.4 497.1,187.7 496.6,188 496,188.3 495.6,188.6 495.5,188.6 495,188.9 494.4,189.2 493.9,189.5 493.4,189.8 493,190.1 492.9,190.2 492.4,190.5 491.9,190.8 491.4,191.1 491.1,191.3 491,191.5 490.5,191.8 490,192.1 489.6,192.5 489.6,192.5 489.1,192.8 488.7,193.1 488.3,193.5 488.3,193.5 487.9,193.8 487.4,194.2 487.1,194.5 487,194.6 486.6,194.9 486.3,195.3 486.1,195.4 485.9,195.7 485.5,196 485.3,196.3 485.1,196.4 484.8,196.8 484.5,197.1 484.4,197.2 484.1,197.6 483.8,197.9 483.7,197.9 483.4,198.3 483.1,198.7 483.1,198.7 482.8,199.1 482.6,199.5 482.5,199.6 482.2,200 482,200.2 481.9,200.4 481.6,200.8 481.6,200.9 481.4,201.2 481.2,201.6 481.1,201.7 480.9,202.1 480.8,202.3 480.7,202.5 480.4,203 480.4,203 480.2,203.4 480.1,203.6 480,203.9 479.8,204.3 479.8,204.3 479.6,204.8 479.6,204.9 479.5,205.3 479.4,205.6 479.3,205.7 479.2,206.2 479.2,206.2 479,206.7 479,206.8 478.9,207.2 478.9,207.4 478.8,207.7 478.8,208 478.7,208.2 478.7,208.6 478.7,208.7 478.6,209.1 478.6,209.2 478.6,209.7 478.6,209.8 478.5,210.3 478.5,210.3 478.5,210.8 478.5,210.9 478.5,211.3 478.5,211.4 478.6,211.9 478.6,212 478.6,212.4 478.6,212.6 478.7,212.9 478.7,213.1 478.7,213.5 478.8,213.7 478.8,214 478.9,214.3 478.9,214.5 479.1,215 479.1,215 479.2,215.5 479.2,215.6 479.4,216 479.5,216.3 479.5,216.5 479.7,216.9 479.7,216.9 479.9,217.4 480,217.6 480.1,217.9 480.3,218.3 480.3,218.3 480.6,218.8 480.7,219 480.8,219.3 481.1,219.7 481.2,219.8 481.4,220.2 481.7,220.6 481.7,220.6 482,221 482.2,221.4 482.3,221.5 482.6,221.9 482.9,222.3 482.9,222.3 483.3,222.7 483.7,223.1 483.7,223.2 484,223.5 484.4,224 484.6,224.2 484.8,224.4 485.2,224.7 485.6,225.1 485.8,225.3 486.1,225.5 486.5,225.9 487,226.3 487.2,226.5 487.4,226.6 487.9,227 488.4,227.4 488.9,227.7 489.2,227.9 489.4,228.1 489.9,228.4 490.4,228.8 491,229.1 491.5,229.5 492.1,229.8 492.5,230 492.7,230.1 493.3,230.4 493.9,230.7 494.5,231.1 495.1,231.4 495.7,231.7 496.4,232 497,232.3 497.7,232.5 498.4,232.8 499.1,233.1 499.8,233.4 500.5,233.6 500.6,233.7 501.2,233.9 502,234.1 502.7,234.4 503.5,234.6 504.3,234.9 505,235.1 505.1,235.1 505.9,235.3 506.7,235.5 507.5,235.8 508,235.9 508.4,236 509.2,236.2 510.1,236.4 510.6,236.4 511,236.5 511.9,236.7 512.8,236.9 512.9,236.9 513.8,237 514.8,237.2 514.8,237.2 515.8,237.3 516.7,237.5 516.8,237.5 517.8,237.6 518.5,237.7 518.8,237.7 519.9,237.8 520.1,237.9 521,237.9 521.7,238 522.1,238 523.2,238.1 523.3,238.1 524.4,238.1 524.7,238.2 525.6,238.2 526.2,238.2 526.8,238.2 527.5,238.2 528,238.2 528.9,238.3 529.3,238.3 530.1,238.2 530.6,238.2 531.4,238.2 532,238.2 532.6,238.2 533.4,238.2 533.8,238.1 534.9,238.1 535,238.1 536.1,238 536.4,238 537.3,237.9 537.9,237.9 538.4,237.8 539.4,237.7 539.6,237.7 540.5,237.6 541.3,237.5 541.5,237.5 542.5,237.3 543.1,237.3 543.5,237.2 544.5,237 545,237 545.5,236.9 546.4,236.7 547.1,236.6 547.4,236.5 548.3,236.4 549.2,236.2 549.4,236.1 550.1,236 551,235.8 551.8,235.6 551.9,235.6 552.7,235.4 553.5,235.2 554.3,234.9 554.9,234.8 555.1,234.7 555.9,234.5 556.7,234.2 557.5,234 558.3,233.7 558.8,233.6 559,233.5" fill="none" stroke="#e5bf14" stroke-width="1.5"/>
<polygon points="527.4,71.4 520.6,74.1 527.4,75 534.1,72.5" fill="#649b00" stroke="#2a4100" stroke-width="0.75" stroke-linejoin="round"/>
<polygon points="534.1,69.4 527.4,71.4 534.1,72.5 540.9,70.7" fill="#89a700" stroke="#3a4600" stroke-width="0.75" stroke-linejoin="round"/>
<polygon points="520.6,70.9 513.9,73.8 520.6,74.1 527.4,71.4" fill="#88b301" stroke="#394b00" stroke-width="0.75" stroke-linejoin="round"/>
<polygon points="540.9,68.1 534.1,69.4 540.9,70.7 547.7,69.6" fill="#aab200" stroke="#484b00" stroke-width="0.75" stroke-linejoin="round"/>
<polygon points="513.8,71 507.1,74.2 513.9,73.8 520.6,70.9" fill="#aaca01" stroke="#475500" stroke-width="0.75" stroke-linejoin="round"/>
<polygon points="527.3,68.6 520.6,70.9 527.4,71.4 534.1,69.4" fill="#b6c201" stroke="#4c5200" stroke-width="0.75" stroke-linejoin="round"/>
<polygon points="547.7,67.5 540.9,68.1 547.7,69.6 554.4,69.3" fill="#b8aa00" stroke="#4d4700" stroke-width="0.75" stroke-linejoin="round"/>
<polygon points="507,71.7 500.3,75.1 507.1,74.2 513.8,71" fill="#c8df02" stroke="#545e01" stroke-width="0.75" stroke-linejoin="round"/>
<polygon points="534.1,67.1 527.3,68.6 534.1,69.4 540.9,68.1" fill="#ccb901" stroke="#564e00" stroke-width="0.75" stroke-linejoin="round"/>
<polygon points="520.5,68.5 513.8,71 520.6,70.9 527.3,68.6" fill="#dbd501" stroke="#5c5901" stroke-width="0.75" stroke-linejoin="round"/>
<polygon points="554.4,67.7 547.7,67.5 554.4,69.3 561.2,69.7" fill="#bb9c00" stroke="#4e4100" stroke-width="0.75" stroke-linejoin="round"/>
<polygon points="500.2,73.1 493.5,76.7 500.3,75.1 507,71.7" fill="#e1f204" stroke="#5e6602" stroke-width="0.75" stroke-linejoin="round"/>
<polygon points="540.8,66.4 534.1,67.1 540.9,68.1 547.7,67.5" fill="#d2a200" stroke="#584400" stroke-width="0.75" stroke-linejoin="round"/>
<polygon points="513.7,69.1 507,71.7 513.8,71 520.5,68.5" fill="#f0d802" stroke="#655b01" stroke-width="0.75" stroke-linejoin="round"/>
<polygon points="527.3,66.8 520.5,68.5 527.3,68.6 534.1,67.1" fill="#e4b501" stroke="#604c01" stroke-width="0.75" stroke-linejoin="round"/>
<polygon points="561.2,68.5 554.4,67.7 561.2,69.7 568,70.8" fill="#bd9200" stroke="#4f3d00" stroke-width="0.75" stroke-linejoin="round"/>
<polygon points="493.4,75 486.7,78.8 493.5,76.7 500.2,73.1" fill="#ebfc06" stroke="#636a02" stroke-width="0.75" stroke-linejoin="round"/>
<polygon points="547.6,66.3 540.8,66.4 547.7,67.5 554.4,67.7" fill="#d69000" stroke="#5a3d00" stroke-width="0.75" stroke-linejoin="round"/>
<polygon points="506.9,70.2 500.2,73.1 507,71.7 513.7,69.1" fill="#ffda04" stroke="#6b5c02" stroke-width="0.75" stroke-linejoin="round"/>
<polygon points="534,65.8 527.3,66.8 534.1,67.1 540.8,66.4" fill="#eb9901" stroke="#634001" stroke-width="0.75" stroke-linejoin="round"/>
<polygon points="520.4,67.1 513.7,69.1 520.5,68.5 527.3,66.8" fill="#fab303" stroke="#694b01" stroke-width="0.75" stroke-linejoin="round"/>
<polygon points="568,70.1 561.2,68.5 568,70.8 574.8,72.5" fill="#bd8e00" stroke="#4f3c00" stroke-width="0.75" stroke-linejoin="round"/>
<polygon points="486.6,77.5 480,81.5 486.7,78.8 493.4,75" fill="#e7fb08" stroke="#616903" stroke-width="0.75" stroke-linejoin="round"/>
<polygon points="554.4,67 547.6,66.3 554.4,67.7 561.2,68.5" fill="#d98400" stroke="#5b3700" stroke-width="0.75" stroke-linejoin="round"/>
<polygon points="500.1,71.9 493.4,75 500.2,73.1 506.9,70.2" fill="#ffd606" stroke="#6b5a03" stroke-width="0.75" stroke-linejoin="round"/>
<polygon points="540.8,65.6 534,65.8 540.8,66.4 547.6,66.3" fill="#f18301" stroke="#653700" stroke-width="0.75" stroke-linejoin="round"/>
<polygon points="513.6,68.1 506.9,70.2 513.7,69.1 520.4,67.1" fill="#ffa905" stroke="#6b4702" stroke-width="0.75" stroke-linejoin="round"/>
<polygon points="527.2,66 520.4,67.1 527.3,66.8 534,65.8" fill="#ff8f03" stroke="#6b3c01" stroke-width="0.75" stroke-linejoin="round"/>
<polygon points="574.8,72.4 568,70.1 574.8,72.5 581.5,75" fill="#bc8f00" stroke="#4f3c00" stroke-width="0.75" stroke-linejoin="round"/>
<polygon points="479.8,80.7 473.2,84.9 480,81.5 486.6,77.5" fill="#dcf90a" stroke="#5c6904" stroke-width="0.75" stroke-linejoin="round"/>
<polygon points="561.2,68.3 554.4,67 561.2,68.5 568,70.1" fill="#da7d00" stroke="#5c3400" stroke-width="0.75" stroke-linejoin="round"/>
<polygon points="493.3,74.3 486.6,77.5 493.4,75 500.1,71.9" fill="#ffd909" stroke="#6b5b04" stroke-width="0.75" stroke-linejoin="round"/>
<polygon points="547.6,66 540.8,65.6 547.6,66.3 554.4,67" fill="#f67301" stroke="#673000" stroke-width="0.75" stroke-linejoin="round"/>
<polygon points="506.8,69.6 500.1,71.9 506.9,70.2 513.6,68.1" fill="#ffa307" stroke="#6b4503" stroke-width="0.75" stroke-linejoin="round"/>
<polygon points="534,65.5 527.2,66 534,65.8 540.8,65.6" fill="#ff7103" stroke="#6b3001" stroke-width="0.75" stroke-linejoin="round"/>
<polygon points="520.3,66.7 513.6,68.1 520.4,67.1 527.2,66" fill="#ff8005" stroke="#6b3602" stroke-width="0.75" stroke-linejoin="round"/>
<polygon points="581.5,75.4 574.8,72.4 581.5,75 588.3,78.2" fill="#bb9500" stroke="#4e3f00" stroke-width="0.75" stroke-linejoin="round"/>
<polygon points="473.1,84.4 466.5,88.7 473.2,84.9 479.8,80.7" fill="#cbf60d" stroke="#556706" stroke-width="0.75" stroke-linejoin="round"/>
<polygon points="568,70.4 561.2,68.3 568,70.1 574.8,72.4" fill="#da7c00" stroke="#5c3400" stroke-width="0.75" stroke-linejoin="round"/>
<polygon points="486.5,77.2 479.8,80.7 486.6,77.5 493.3,74.3" fill="#ffe30c" stroke="#6b5f05" stroke-width="0.75" stroke-linejoin="round"/>
<polygon points="554.4,67.2 547.6,66 554.4,67 561.2,68.3" fill="#f86901" stroke="#682c00" stroke-width="0.75" stroke-linejoin="round"/>
<polygon points="499.9,71.8 493.3,74.3 500.1,71.9 506.8,69.6" fill="#ffa50a" stroke="#6b4504" stroke-width="0.75" stroke-linejoin="round"/>
<polygon points="540.7,65.8 534,65.5 540.8,65.6 547.6,66" fill="#ff5c02" stroke="#6b2701" stroke-width="0.75" stroke-linejoin="round"/>
<polygon points="513.5,68 506.8,69.6 513.6,68.1 520.3,66.7" fill="#ff7908" stroke="#6b3303" stroke-width="0.75" stroke-linejoin="round"/>
<polygon points="527.1,66 520.3,66.7 527.2,66 534,65.5" fill="#ff6105" stroke="#6b2902" stroke-width="0.75" stroke-linejoin="round"/>
<polygon points="588.3,79 581.5,75.4 588.3,78.2 595,82" fill="#b8a000" stroke="#4d4300" stroke-width="0.75" stroke-linejoin="round"/>
<polygon points="466.4,88.6 459.8,93.2 466.5,88.7 473.1,84.4" fill="#b5f210" stroke="#4c6607" stroke-width="0.75" stroke-linejoin="round"/>
<polygon points="574.8,73.2 568,70.4 574.8,72.4 581.5,75.4" fill="#d98200" stroke="#5b3700" stroke-width="0.75" stroke-linejoin="round"/>
<polygon points="479.7,80.7 473.1,84.4 479.8,80.7 486.5,77.2" fill="#fff210" stroke="#6b6607" stroke-width="0.75" stroke-linejoin="round"/>
<polygon points="561.2,69.1 554.4,67.2 561.2,68.3 568,70.4" fill="#f86701" stroke="#682b00" stroke-width="0.75" stroke-linejoin="round"/>
<polygon points="493.1,74.5 486.5,77.2 493.3,74.3 499.9,71.8" fill="#ffad0e" stroke="#6b4906" stroke-width="0.75" stroke-linejoin="round"/>
<polygon points="547.5,66.7 540.7,65.8 547.6,66 554.4,67.2" fill="#ff4f02" stroke="#6b2101" stroke-width="0.75" stroke-linejoin="round"/>
<polygon points="506.6,70 499.9,71.8 506.8,69.6 513.5,68" fill="#ff7a0b" stroke="#6b3305" stroke-width="0.75" stroke-linejoin="round"/>
<polygon points="533.9,66.1 527.1,66 534,65.5 540.7,65.8" fill="#ff4905" stroke="#6b1f02" stroke-width="0.75" stroke-linejoin="round"/>
<polygon points="520.2,67.2 513.5,68 520.3,66.7 527.1,66" fill="#ff5808" stroke="#6b2503" stroke-width="0.75" stroke-linejoin="round"/>
<polygon points="595,83.4 588.3,79 595,82 601.7,86.6" fill="#b5af00" stroke="#4c4900" stroke-width="0.75" stroke-linejoin="round"/>
<polygon points="459.6,93.5 453.2,98.2 459.8,93.2 466.4,88.6" fill="#9aed13" stroke="#416408" stroke-width="0.75" stroke-linejoin="round"/>
<polygon points="581.5,76.7 574.8,73.2 581.5,75.4 588.3,79" fill="#d68d00" stroke="#5a3b00" stroke-width="0.75" stroke-linejoin="round"/>
<polygon points="472.9,84.8 466.4,88.6 473.1,84.4 479.7,80.7" fill="#f7fe13" stroke="#686b08" stroke-width="0.75" stroke-linejoin="round"/>
<polygon points="567.9,71.7 561.2,69.1 568,70.4 574.8,73.2" fill="#f76b01" stroke="#682d00" stroke-width="0.75" stroke-linejoin="round"/>
<polygon points="486.3,77.8 479.7,80.7 486.5,77.2 493.1,74.5" fill="#ffbb12" stroke="#6b4f08" stroke-width="0.75" stroke-linejoin="round"/>
<polygon points="554.3,68.4 547.5,66.7 554.4,67.2 561.2,69.1" fill="#ff4a02" stroke="#6b1f01" stroke-width="0.75" stroke-linejoin="round"/>
<polygon points="499.8,72.6 493.1,74.5 499.9,71.8 506.6,70" fill="#ff8110" stroke="#6b3607" stroke-width="0.75" stroke-linejoin="round"/>
<polygon points="540.7,66.9 533.9,66.1 540.7,65.8 547.5,66.7" fill="#ff3a04" stroke="#6b1802" stroke-width="0.75" stroke-linejoin="round"/>
<polygon points="513.4,69 506.6,70 513.5,68 520.2,67.2" fill="#ff570c" stroke="#6b2405" stroke-width="0.75" stroke-linejoin="round"/>
<polygon points="527,67.1 520.2,67.2 527.1,66 533.9,66.1" fill="#ff3f08" stroke="#6b1a03" stroke-width="0.75" stroke-linejoin="round"/>
<polygon points="601.7,88.4 595,83.4 601.7,86.6 608.3,91.8" fill="#a1ae00" stroke="#444900" stroke-width="0.75" stroke-linejoin="round"/>
<polygon points="453,98.9 446.5,103.8 453.2,98.2 459.6,93.5" fill="#79e716" stroke="#336109" stroke-width="0.75" stroke-linejoin="round"/>
<polygon points="588.2,80.8 581.5,76.7 588.3,79 595,83.4" fill="#d29e00" stroke="#584200" stroke-width="0.75" stroke-linejoin="round"/>
<polygon points="466.2,89.5 459.6,93.5 466.4,88.6 472.9,84.8" fill="#ddf917" stroke="#5d6909" stroke-width="0.75" stroke-linejoin="round"/>
<polygon points="574.7,75 567.9,71.7 574.8,73.2 581.5,76.7" fill="#f57600" stroke="#673200" stroke-width="0.75" stroke-linejoin="round"/>
<polygon points="479.5,81.8 472.9,84.8 479.7,80.7 486.3,77.8" fill="#ffcf16" stroke="#6b5709" stroke-width="0.75" stroke-linejoin="round"/>
<polygon points="561.1,70.8 554.3,68.4 561.2,69.1 567.9,71.7" fill="#ff4c01" stroke="#6b2001" stroke-width="0.75" stroke-linejoin="round"/>
<polygon points="493,75.7 486.3,77.8 493.1,74.5 499.8,72.6" fill="#ff8e15" stroke="#6b3c09" stroke-width="0.75" stroke-linejoin="round"/>
<polygon points="547.4,68.4 540.7,66.9 547.5,66.7 554.3,68.4" fill="#ff3204" stroke="#6b1502" stroke-width="0.75" stroke-linejoin="round"/>
<polygon points="506.5,71.3 499.8,72.6 506.6,70 513.4,69" fill="#ff5d11" stroke="#6b2707" stroke-width="0.75" stroke-linejoin="round"/>
<polygon points="533.8,67.7 527,67.1 533.9,66.1 540.7,66.9" fill="#ff2d08" stroke="#6b1303" stroke-width="0.75" stroke-linejoin="round"/>
<polygon points="520.1,68.7 513.4,69 520.2,67.2 527,67.1" fill="#ff3c0c" stroke="#6b1905" stroke-width="0.75" stroke-linejoin="round"/>
<polygon points="608.3,94 601.7,88.4 608.3,91.8 615,97.6" fill="#82a600" stroke="#374600" stroke-width="0.75" stroke-linejoin="round"/>
<polygon points="446.3,104.8 439.9,109.9 446.5,103.8 453,98.9" fill="#55e118" stroke="#235e0a" stroke-width="0.75" stroke-linejoin="round"/>
<polygon points="594.9,85.6 588.2,80.8 595,83.4 601.7,88.4" fill="#ceb300" stroke="#574b00" stroke-width="0.75" stroke-linejoin="round"/>
<polygon points="459.5,94.7 453,98.9 459.6,93.5 466.2,89.5" fill="#bff41a" stroke="#50660b" stroke-width="0.75" stroke-linejoin="round"/>
<polygon points="581.4,78.9 574.7,75 581.5,76.7 588.2,80.8" fill="#f18800" stroke="#653900" stroke-width="0.75" stroke-linejoin="round"/>
<polygon points="472.8,86.3 466.2,89.5 472.9,84.8 479.5,81.8" fill="#ffe71b" stroke="#6b610b" stroke-width="0.75" stroke-linejoin="round"/>
<polygon points="567.9,73.9 561.1,70.8 567.9,71.7 574.7,75" fill="#ff5701" stroke="#6b2500" stroke-width="0.75" stroke-linejoin="round"/>
<polygon points="486.2,79.5 479.5,81.8 486.3,77.8 493,75.7" fill="#ffa11a" stroke="#6b440b" stroke-width="0.75" stroke-linejoin="round"/>
<polygon points="554.2,70.6 547.4,68.4 554.3,68.4 561.1,70.8" fill="#ff3303" stroke="#6b1501" stroke-width="0.75" stroke-linejoin="round"/>
<polygon points="499.7,74.3 493,75.7 499.8,72.6 506.5,71.3" fill="#ff6a17" stroke="#6b2c0a" stroke-width="0.75" stroke-linejoin="round"/>
<polygon points="540.6,69 533.8,67.7 540.7,66.9 547.4,68.4" fill="#ff2407" stroke="#6b0f03" stroke-width="0.75" stroke-linejoin="round"/>
<polygon points="513.3,70.9 506.5,71.3 513.4,69 520.1,68.7" fill="#ff4212" stroke="#6b1c08" stroke-width="0.75" stroke-linejoin="round"/>
<polygon points="526.9,69.1 520.1,68.7 527,67.1 533.8,67.7" fill="#ff2a0c" stroke="#6b1105" stroke-width="0.75" stroke-linejoin="round"/>
<polygon points="614.9,100.4 608.3,94 615,97.6 621.5,104.1" fill="#609c00" stroke="#284200" stroke-width="0.75" stroke-linejoin="round"/>
<polygon points="439.7,111.3 433.3,116.5 439.9,109.9 446.3,104.8" fill="#2bda1b" stroke="#125b0b" stroke-width="0.75" stroke-linejoin="round"/>
<polygon points="601.6,91.1 594.9,85.6 601.7,88.4 608.3,94" fill="#c7c900" stroke="#535400" stroke-width="0.75" stroke-linejoin="round"/>
<polygon points="452.8,100.5 446.3,104.8 453,98.9 459.5,94.7" fill="#9cee1d" stroke="#41640c" stroke-width="0.75" stroke-linejoin="round"/>
<polygon points="588.2,83.6 581.4,78.9 588.2,80.8 594.9,85.6" fill="#ec9f00" stroke="#634300" stroke-width="0.75" stroke-linejoin="round"/>
<polygon points="466,91.3 459.5,94.7 466.2,89.5 472.8,86.3" fill="#fafe1f" stroke="#696b0d" stroke-width="0.75" stroke-linejoin="round"/>
<polygon points="574.6,77.7 567.9,73.9 574.7,75 581.4,78.9" fill="#ff6901" stroke="#6b2c00" stroke-width="0.75" stroke-linejoin="round"/>
<polygon points="479.4,83.8 472.8,86.3 479.5,81.8 486.2,79.5" fill="#ffb81f" stroke="#6b4d0d" stroke-width="0.75" stroke-linejoin="round"/>
<polygon points="561,73.6 554.2,70.6 561.1,70.8 567.9,73.9" fill="#ff3b03" stroke="#6b1901" stroke-width="0.75" stroke-linejoin="round"/>
<polygon points="492.9,77.9 486.2,79.5 493,75.7 499.7,74.3" fill="#ff7c1d" stroke="#6b340c" stroke-width="0.75" stroke-linejoin="round"/>
<polygon points="547.3,71.1 540.6,69 547.4,68.4 554.2,70.6" fill="#ff2206" stroke="#6b0e03" stroke-width="0.75" stroke-linejoin="round"/>
<polygon points="506.4,73.7 499.7,74.3 506.5,71.3 513.3,70.9" fill="#ff4e19" stroke="#6b210a" stroke-width="0.75" stroke-linejoin="round"/>
<polygon points="533.7,70.3 526.9,69.1 533.8,67.7 540.6,69" fill="#ff1e0c" stroke="#6b0d05" stroke-width="0.75" stroke-linejoin="round"/>
<polygon points="520,71.1 513.3,70.9 520.1,68.7 526.9,69.1" fill="#ff2e12" stroke="#6b1308" stroke-width="0.75" stroke-linejoin="round"/>
<polygon points="621.5,107.3 614.9,100.4 621.5,104.1 628.1,111.3" fill="#3c9200" stroke="#193d00" stroke-width="0.75" stroke-linejoin="round"/>
<polygon points="433.2,118.3 426.8,123.7 433.3,116.5 439.7,111.3" fill="#1ddd3c" stroke="#0c5d19" stroke-width="0.75" stroke-linejoin="round"/>
<polygon points="608.2,97.3 601.6,91.1 608.3,94 614.9,100.4" fill="#a0be00" stroke="#435000" stroke-width="0.75" stroke-linejoin="round"/>
<polygon points="446.2,106.9 439.7,111.3 446.3,104.8 452.8,100.5" fill="#75e720" stroke="#31610d" stroke-width="0.75" stroke-linejoin="round"/>
<polygon points="594.8,88.9 588.2,83.6 594.9,85.6 601.6,91.1" fill="#e7bc00" stroke="#614f00" stroke-width="0.75" stroke-linejoin="round"/>
<polygon points="459.3,97 452.8,100.5 459.5,94.7 466,91.3" fill="#d8f823" stroke="#5b680f" stroke-width="0.75" stroke-linejoin="round"/>
<polygon points="581.3,82.2 574.6,77.7 581.4,78.9 588.2,83.6" fill="#ff8301" stroke="#6b3700" stroke-width="0.75" stroke-linejoin="round"/>
<polygon points="472.6,88.7 466,91.3 472.8,86.3 479.4,83.8" fill="#ffd424" stroke="#6b590f" stroke-width="0.75" stroke-linejoin="round"/>
<polygon points="567.8,77.2 561,73.6 567.9,73.9 574.6,77.7" fill="#ff4b02" stroke="#6b1f01" stroke-width="0.75" stroke-linejoin="round"/>
<polygon points="486,82.1 479.4,83.8 486.2,79.5 492.9,77.9" fill="#ff9323" stroke="#6b3e0f" stroke-width="0.75" stroke-linejoin="round"/>
<polygon points="554.1,73.8 547.3,71.1 554.2,70.6 561,73.6" fill="#ff2805" stroke="#6b1102" stroke-width="0.75" stroke-linejoin="round"/>
<polygon points="499.6,77.1 492.9,77.9 499.7,74.3 506.4,73.7" fill="#ff6020" stroke="#6b280d" stroke-width="0.75" stroke-linejoin="round"/>
<polygon points="540.4,72.1 533.7,70.3 540.6,69 547.3,71.1" fill="#ff1a0b" stroke="#6b0b05" stroke-width="0.75" stroke-linejoin="round"/>
<polygon points="513.1,73.8 506.4,73.7 513.3,70.9 520,71.1" fill="#ff391a" stroke="#6b180b" stroke-width="0.75" stroke-linejoin="round"/>
<polygon points="526.8,72.1 520,71.1 526.9,69.1 533.7,70.3" fill="#ff2112" stroke="#6b0e08" stroke-width="0.75" stroke-linejoin="round"/>
<polygon points="628,115 621.5,107.3 628.1,111.3 634.5,119" fill="#148800" stroke="#093900" stroke-width="0.75" stroke-linejoin="round"/>
<polygon points="426.6,125.9 420.3,131.4 426.8,123.7 433.2,118.3" fill="#1fe671" stroke="#0d612f" stroke-width="0.75" stroke-linejoin="round"/>
<polygon points="614.8,104.1 608.2,97.3 614.9,100.4 621.5,107.3" fill="#75b300" stroke="#314b00" stroke-width="0.75" stroke-linejoin="round"/>
<polygon points="439.6,113.8 433.2,118.3 439.7,111.3 446.2,106.9" fill="#4adf23" stroke="#1f5e0f" stroke-width="0.75" stroke-linejoin="round"/>
<polygon points="601.5,94.9 594.8,88.9 601.6,91.1 608.2,97.3" fill="#e1dc00" stroke="#5f5d00" stroke-width="0.75" stroke-linejoin="round"/>
<polygon points="452.7,103.2 446.2,106.9 452.8,100.5 459.3,97" fill="#b3f226" stroke="#4b6510" stroke-width="0.75" stroke-linejoin="round"/>
<polygon points="588,87.4 581.3,82.2 588.2,83.6 594.8,88.9" fill="#ffa400" stroke="#6b4500" stroke-width="0.75" stroke-linejoin="round"/>
<polygon points="465.9,94.2 459.3,97 466,91.3 472.6,88.7" fill="#fff429" stroke="#6b6611" stroke-width="0.75" stroke-linejoin="round"/>
<polygon points="574.5,81.5 567.8,77.2 574.6,77.7 581.3,82.2" fill="#ff6202" stroke="#6b2901" stroke-width="0.75" stroke-linejoin="round"/>
<polygon points="479.3,86.9 472.6,88.7 479.4,83.8 486,82.1" fill="#ffae29" stroke="#6b4911" stroke-width="0.75" stroke-linejoin="round"/>
<polygon points="560.9,77.3 554.1,73.8 561,73.6 567.8,77.2" fill="#ff3504" stroke="#6b1602" stroke-width="0.75" stroke-linejoin="round"/>
<polygon points="492.7,81.1 486,82.1 492.9,77.9 499.6,77.1" fill="#ff7627" stroke="#6b3210" stroke-width="0.75" stroke-linejoin="round"/>
<polygon points="547.2,74.7 540.4,72.1 547.3,71.1 554.1,73.8" fill="#ff1d09" stroke="#6b0c04" stroke-width="0.75" stroke-linejoin="round"/>
<polygon points="506.3,77.1 499.6,77.1 506.4,73.7 513.1,73.8" fill="#ff4b22" stroke="#6b1f0e" stroke-width="0.75" stroke-linejoin="round"/>
<polygon points="533.5,73.8 526.8,72.1 533.7,70.3 540.4,72.1" fill="#ff1b11" stroke="#6b0b07" stroke-width="0.75" stroke-linejoin="round"/>
<polygon points="519.9,74.6 513.1,73.8 520,71.1 526.8,72.1" fill="#ff2b1a" stroke="#6b120b" stroke-width="0.75" stroke-linejoin="round"/>
<polygon points="634.5,123.2 628,115 634.5,119 641,127.4" fill="#008515" stroke="#003809" stroke-width="0.75" stroke-linejoin="round"/>
<polygon points="420.2,134 413.9,139.6 420.3,131.4 426.6,125.9" fill="#21f0aa" stroke="#0e6547" stroke-width="0.75" stroke-linejoin="round"/>
<polygon points="621.4,111.6 614.8,104.1 621.5,107.3 628,115" fill="#48a600" stroke="#1e4600" stroke-width="0.75" stroke-linejoin="round"/>
<polygon points="433,121.2 426.6,125.9 433.2,118.3 439.6,113.8" fill="#25da2f" stroke="#105c14" stroke-width="0.75" stroke-linejoin="round"/>
<polygon points="608.1,101.6 601.5,94.9 608.2,97.3 614.8,104.1" fill="#b6d500" stroke="#4d5900" stroke-width="0.75" stroke-linejoin="round"/>
<polygon points="446,109.9 439.6,113.8 446.2,106.9 452.7,103.2" fill="#8bea29" stroke="#3a6211" stroke-width="0.75" stroke-linejoin="round"/>
<polygon points="594.7,93.2 588,87.4 594.8,88.9 601.5,94.9" fill="#ffcc00" stroke="#6b5600" stroke-width="0.75" stroke-linejoin="round"/>
<polygon points="459.2,100.3 452.7,103.2 459.3,97 465.9,94.2" fill="#e7fb2d" stroke="#616913" stroke-width="0.75" stroke-linejoin="round"/>
<polygon points="581.2,86.5 574.5,81.5 581.3,82.2 588,87.4" fill="#ff8101" stroke="#6b3601" stroke-width="0.75" stroke-linejoin="round"/>
<polygon points="472.5,92.2 465.9,94.2 472.6,88.7 479.3,86.9" fill="#ffcd2f" stroke="#6b5614" stroke-width="0.75" stroke-linejoin="round"/>
<polygon points="567.6,81.4 560.9,77.3 567.8,77.2 574.5,81.5" fill="#ff4a03" stroke="#6b1f01" stroke-width="0.75" stroke-linejoin="round"/>
<polygon points="485.9,85.8 479.3,86.9 486,82.1 492.7,81.1" fill="#ff912e" stroke="#6b3d13" stroke-width="0.75" stroke-linejoin="round"/>
<polygon points="554,78 547.2,74.7 554.1,73.8 560.9,77.3" fill="#ff2808" stroke="#6b1103" stroke-width="0.75" stroke-linejoin="round"/>
<polygon points="499.4,80.9 492.7,81.1 499.6,77.1 506.3,77.1" fill="#ff612a" stroke="#6b2912" stroke-width="0.75" stroke-linejoin="round"/>
<polygon points="540.3,76.3 533.5,73.8 540.4,72.1 547.2,74.7" fill="#ff1c0f" stroke="#6b0c06" stroke-width="0.75" stroke-linejoin="round"/>
<polygon points="513,77.7 506.3,77.1 513.1,73.8 519.9,74.6" fill="#ff3c23" stroke="#6b190f" stroke-width="0.75" stroke-linejoin="round"/>
<polygon points="526.6,76.2 519.9,74.6 526.8,72.1 533.5,73.8" fill="#ff2419" stroke="#6b0f0a" stroke-width="0.75" stroke-linejoin="round"/>
<polygon points="640.9,132.1 634.5,123.2 641,127.4 647.3,136.5" fill="#00893f" stroke="#00391b" stroke-width="0.75" stroke-linejoin="round"/>
<polygon points="413.7,142.5 407.5,148.3 413.9,139.6 420.2,134" fill="#22fbe6" stroke="#0e6961" stroke-width="0.75" stroke-linejoin="round"/>
<polygon points="627.9,119.7 621.4,111.6 628,115 634.5,123.2" fill="#199a00" stroke="#0a4100" stroke-width="0.75" stroke-linejoin="round"/>
<polygon points="426.5,129.1 420.2,134 426.6,125.9 433,121.2" fill="#27e465" stroke="#10602b" stroke-width="0.75" stroke-linejoin="round"/>
<polygon points="614.7,108.9 608.1,101.6 614.8,104.1 621.4,111.6" fill="#83c700" stroke="#375400" stroke-width="0.75" stroke-linejoin="round"/>
<polygon points="439.4,117.2 433,121.2 439.6,113.8 446,109.9" fill="#5fe32c" stroke="#285f13" stroke-width="0.75" stroke-linejoin="round"/>
<polygon points="601.4,99.7 594.7,93.2 601.5,94.9 608.1,101.6" fill="#f8f400" stroke="#686700" stroke-width="0.75" stroke-linejoin="round"/>
<polygon points="452.5,106.9 446,109.9 452.7,103.2 459.2,100.3" fill="#c0f431" stroke="#516614" stroke-width="0.75" stroke-linejoin="round"/>
<polygon points="587.9,92.2 581.2,86.5 588,87.4 594.7,93.2" fill="#ffa601" stroke="#6b4600" stroke-width="0.75" stroke-linejoin="round"/>
<polygon points="465.8,98.1 459.2,100.3 465.9,94.2 472.5,92.2" fill="#ffee34" stroke="#6b6416" stroke-width="0.75" stroke-linejoin="round"/>
<polygon points="574.3,86.3 567.6,81.4 574.5,81.5 581.2,86.5" fill="#ff6603" stroke="#6b2b01" stroke-width="0.75" stroke-linejoin="round"/>
<polygon points="479.1,91 472.5,92.2 479.3,86.9 485.9,85.8" fill="#ffae35" stroke="#6b4916" stroke-width="0.75" stroke-linejoin="round"/>
<polygon points="560.7,82 554,78 560.9,77.3 567.6,81.4" fill="#ff3a07" stroke="#6b1803" stroke-width="0.75" stroke-linejoin="round"/>
<polygon points="647.2,141.5 640.9,132.1 647.3,136.5 653.6,146.1" fill="#008d6b" stroke="#003b2d" stroke-width="0.75" stroke-linejoin="round"/>
<polygon points="492.6,85.4 485.9,85.8 492.7,81.1 499.4,80.9" fill="#ff7b33" stroke="#6b3415" stroke-width="0.75" stroke-linejoin="round"/>
<polygon points="547.1,79.4 540.3,76.3 547.2,74.7 554,78" fill="#ff240d" stroke="#6b0f06" stroke-width="0.75" stroke-linejoin="round"/>
<polygon points="506.1,81.5 499.4,80.9 506.3,77.1 513,77.7" fill="#ff532c" stroke="#6b2312" stroke-width="0.75" stroke-linejoin="round"/>
<polygon points="533.4,78.5 526.6,76.2 533.5,73.8 540.3,76.3" fill="#ff2317" stroke="#6b0f0a" stroke-width="0.75" stroke-linejoin="round"/>
<polygon points="519.8,79.2 513,77.7 519.9,74.6 526.6,76.2" fill="#ff3422" stroke="#6b160e" stroke-width="0.75" stroke-linejoin="round"/>
<polygon points="407.4,151.6 401.2,157.5 407.5,148.3 413.7,142.5" fill="#24d9ff" stroke="#0f5b6b" stroke-width="0.75" stroke-linejoin="round"/>
<polygon points="634.3,128.4 627.9,119.7 634.5,123.2 640.9,132.1" fill="#009619" stroke="#003f0a" stroke-width="0.75" stroke-linejoin="round"/>
<polygon points="420,137.6 413.7,142.5 420.2,134 426.5,129.1" fill="#29ee9f" stroke="#116443" stroke-width="0.75" stroke-linejoin="round"/>
<polygon points="621.2,116.8 614.7,108.9 621.4,111.6 627.9,119.7" fill="#4db900" stroke="#204e00" stroke-width="0.75" stroke-linejoin="round"/>
<polygon points="432.9,125 426.5,129.1 433,121.2 439.4,117.2" fill="#2fda2f" stroke="#145c14" stroke-width="0.75" stroke-linejoin="round"/>
<polygon points="608,106.8 601.4,99.7 608.1,101.6 614.7,108.9" fill="#c3ea00" stroke="#526200" stroke-width="0.75" stroke-linejoin="round"/>
<polygon points="445.9,114 439.4,117.2 446,109.9 452.5,106.9" fill="#97ed34" stroke="#3f6316" stroke-width="0.75" stroke-linejoin="round"/>
<polygon points="594.6,98.5 587.9,92.2 594.7,93.2 601.4,99.7" fill="#ffd301" stroke="#6b5900" stroke-width="0.75" stroke-linejoin="round"/>
<polygon points="459.1,104.6 452.5,106.9 459.2,100.3 465.8,98.1" fill="#ecfc39" stroke="#636a18" stroke-width="0.75" stroke-linejoin="round"/>
<polygon points="581.1,91.8 574.3,86.3 581.2,86.5 587.9,92.2" fill="#ff8902" stroke="#6b3a01" stroke-width="0.75" stroke-linejoin="round"/>
<polygon points="653.5,151.6 647.2,141.5 653.6,146.1 659.9,156.3" fill="#008991" stroke="#003a3d" stroke-width="0.75" stroke-linejoin="round"/>
<polygon points="472.4,96.7 465.8,98.1 472.5,92.2 479.1,91" fill="#ffcf3b" stroke="#6b5719" stroke-width="0.75" stroke-linejoin="round"/>
<polygon points="567.5,86.7 560.7,82 567.6,81.4 574.3,86.3" fill="#ff5305" stroke="#6b2302" stroke-width="0.75" stroke-linejoin="round"/>
<polygon points="485.8,90.5 479.1,91 485.9,85.8 492.6,85.4" fill="#ff983b" stroke="#6b4019" stroke-width="0.75" stroke-linejoin="round"/>
<polygon points="553.8,83.3 547.1,79.4 554,78 560.7,82" fill="#ff330b" stroke="#6b1505" stroke-width="0.75" stroke-linejoin="round"/>
<polygon points="499.3,85.8 492.6,85.4 499.4,80.9 506.1,81.5" fill="#ff6d36" stroke="#6b2e16" stroke-width="0.75" stroke-linejoin="round"/>
<polygon points="401,161.2 394.9,167.2 401.2,157.5 407.4,151.6" fill="#2596ff" stroke="#0f3f6b" stroke-width="0.75" stroke-linejoin="round"/>
<polygon points="540.2,81.5 533.4,78.5 540.3,76.3 547.1,79.4" fill="#ff2815" stroke="#6b1109" stroke-width="0.75" stroke-linejoin="round"/>
<polygon points="512.9,82.7 506.1,81.5 513,77.7 519.8,79.2" fill="#ff4a2c" stroke="#6b1f13" stroke-width="0.75" stroke-linejoin="round"/>
<polygon points="526.5,81.3 519.8,79.2 526.6,76.2 533.4,78.5" fill="#ff3120" stroke="#6b150e" stroke-width="0.75" stroke-linejoin="round"/>
<polygon points="640.7,137.7 634.3,128.4 640.9,132.1 647.2,141.5" fill="#009b4c" stroke="#004120" stroke-width="0.75" stroke-linejoin="round"/>
<polygon points="413.6,146.5 407.4,151.6 413.7,142.5 420,137.6" fill="#2bf9dc" stroke="#12685c" stroke-width="0.75" stroke-linejoin="round"/>
<polygon points="627.7,125.4 621.2,116.8 627.9,119.7 634.3,128.4" fill="#15aa00" stroke="#094800" stroke-width="0.75" stroke-linejoin="round"/>
<polygon points="426.4,133.4 420,137.6 426.5,129.1 432.9,125" fill="#31e465" stroke="#14602b" stroke-width="0.75" stroke-linejoin="round"/>
<polygon points="614.5,114.6 608,106.8 614.7,108.9 621.2,116.8" fill="#87d900" stroke="#395b00" stroke-width="0.75" stroke-linejoin="round"/>
<polygon points="439.3,121.7 432.9,125 439.4,117.2 445.9,114" fill="#6ae537" stroke="#2d6017" stroke-width="0.75" stroke-linejoin="round"/>
<polygon points="601.2,105.5 594.6,98.5 601.4,99.7 608,106.8" fill="#f8fe01" stroke="#686b00" stroke-width="0.75" stroke-linejoin="round"/>
<polygon points="452.4,111.6 445.9,114 452.5,106.9 459.1,104.6" fill="#c5f53d" stroke="#536719" stroke-width="0.75" stroke-linejoin="round"/>
<polygon points="587.7,98 581.1,91.8 587.9,92.2 594.6,98.5" fill="#ffb402" stroke="#6b4b01" stroke-width="0.75" stroke-linejoin="round"/>
<polygon points="465.7,103.1 459.1,104.6 465.8,98.1 472.4,96.7" fill="#fff141" stroke="#6b651b" stroke-width="0.75" stroke-linejoin="round"/>
<polygon points="574.2,92.1 567.5,86.7 574.3,86.3 581.1,91.8" fill="#ff7404" stroke="#6b3102" stroke-width="0.75" stroke-linejoin="round"/>
<polygon points="479,96.1 472.4,96.7 479.1,91 485.8,90.5" fill="#ffb842" stroke="#6b4d1c" stroke-width="0.75" stroke-linejoin="round"/>
<polygon points="560.6,87.8 553.8,83.3 560.7,82 567.5,86.7" fill="#ff4909" stroke="#6b1f04" stroke-width="0.75" stroke-linejoin="round"/>
<polygon points="492.5,90.7 485.8,90.5 492.6,85.4 499.3,85.8" fill="#ff893f" stroke="#6b3a1a" stroke-width="0.75" stroke-linejoin="round"/>
<polygon points="647.1,147.6 640.7,137.7 647.2,141.5 653.5,151.6" fill="#00a17f" stroke="#004336" stroke-width="0.75" stroke-linejoin="round"/>
<polygon points="546.9,85.2 540.2,81.5 547.1,79.4 553.8,83.3" fill="#ff3512" stroke="#6b1608" stroke-width="0.75" stroke-linejoin="round"/>
<polygon points="506,86.9 499.3,85.8 506.1,81.5 512.9,82.7" fill="#ff6337" stroke="#6b2a17" stroke-width="0.75" stroke-linejoin="round"/>
<polygon points="533.3,84.2 526.5,81.3 533.4,78.5 540.2,81.5" fill="#ff351e" stroke="#6b160c" stroke-width="0.75" stroke-linejoin="round"/>
<polygon points="519.6,84.7 512.9,82.7 519.8,79.2 526.5,81.3" fill="#ff462b" stroke="#6b1d12" stroke-width="0.75" stroke-linejoin="round"/>
<polygon points="407.3,156 401,161.2 407.4,151.6 413.6,146.5" fill="#2ce3ff" stroke="#125f6b" stroke-width="0.75" stroke-linejoin="round"/>
<polygon points="634.2,134.6 627.7,125.4 634.3,128.4 640.7,137.7" fill="#00a925" stroke="#004710" stroke-width="0.75" stroke-linejoin="round"/>
<polygon points="419.9,142.2 413.6,146.5 420,137.6 426.4,133.4" fill="#33ee9f" stroke="#156443" stroke-width="0.75" stroke-linejoin="round"/>
<polygon points="621.1,123.1 614.5,114.6 621.2,116.8 627.7,125.4" fill="#48c900" stroke="#1e5400" stroke-width="0.75" stroke-linejoin="round"/>
<polygon points="432.8,130 426.4,133.4 432.9,125 439.3,121.7" fill="#3bdc39" stroke="#195d18" stroke-width="0.75" stroke-linejoin="round"/>
<polygon points="607.8,113.2 601.2,105.5 608,106.8 614.5,114.6" fill="#bef300" stroke="#506600" stroke-width="0.75" stroke-linejoin="round"/>
<polygon points="445.8,119.2 439.3,121.7 445.9,114 452.4,111.6" fill="#9bed40" stroke="#41641b" stroke-width="0.75" stroke-linejoin="round"/>
<polygon points="594.4,104.9 587.7,98 594.6,98.5 601.2,105.5" fill="#ffe501" stroke="#6b6001" stroke-width="0.75" stroke-linejoin="round"/>
<polygon points="459,110 452.4,111.6 459.1,104.6 465.7,103.1" fill="#e8fb45" stroke="#61691d" stroke-width="0.75" stroke-linejoin="round"/>
<polygon points="580.9,98.2 574.2,92.1 581.1,91.8 587.7,98" fill="#ff9c03" stroke="#6b4201" stroke-width="0.75" stroke-linejoin="round"/>
<polygon points="472.3,102.3 465.7,103.1 472.4,96.7 479,96.1" fill="#ffd948" stroke="#6b5b1e" stroke-width="0.75" stroke-linejoin="round"/>
<polygon points="567.3,93.1 560.6,87.8 567.5,86.7 574.2,92.1" fill="#ff6708" stroke="#6b2b03" stroke-width="0.75" stroke-linejoin="round"/>
<polygon points="485.7,96.2 479,96.1 485.8,90.5 492.5,90.7" fill="#ffa847" stroke="#6b471e" stroke-width="0.75" stroke-linejoin="round"/>
<polygon points="553.7,89.6 546.9,85.2 553.8,83.3 560.6,87.8" fill="#ff480f" stroke="#6b1e06" stroke-width="0.75" stroke-linejoin="round"/>
<polygon points="499.2,91.7 492.5,90.7 499.3,85.8 506,86.9" fill="#ff8041" stroke="#6b361b" stroke-width="0.75" stroke-linejoin="round"/>
<polygon points="540,87.7 533.3,84.2 540.2,81.5 546.9,85.2" fill="#ff3e1a" stroke="#6b1a0b" stroke-width="0.75" stroke-linejoin="round"/>
<polygon points="512.7,88.8 506,86.9 512.9,82.7 519.6,84.7" fill="#ff5f36" stroke="#6b2817" stroke-width="0.75" stroke-linejoin="round"/>
<polygon points="526.4,87.5 519.6,84.7 526.5,81.3 533.3,84.2" fill="#ff4728" stroke="#6b1e11" stroke-width="0.75" stroke-linejoin="round"/>
<polygon points="640.6,144.4 634.2,134.6 640.7,137.7 647.1,147.6" fill="#00af60" stroke="#004928" stroke-width="0.75" stroke-linejoin="round"/>
<polygon points="413.5,151.6 407.3,156 413.6,146.5 419.9,142.2" fill="#34f9db" stroke="#16685c" stroke-width="0.75" stroke-linejoin="round"/>
<polygon points="627.5,132.1 621.1,123.1 627.7,125.4 634.2,134.6" fill="#07b800" stroke="#034d00" stroke-width="0.75" stroke-linejoin="round"/>
<polygon points="426.3,138.7 419.9,142.2 426.4,133.4 432.8,130" fill="#3ce66f" stroke="#19602f" stroke-width="0.75" stroke-linejoin="round"/>
<polygon points="614.3,121.5 607.8,113.2 614.5,114.6 621.1,123.1" fill="#7de800" stroke="#356200" stroke-width="0.75" stroke-linejoin="round"/>
<polygon points="439.2,127.3 432.8,130 439.3,121.7 445.8,119.2" fill="#6ee543" stroke="#2e601c" stroke-width="0.75" stroke-linejoin="round"/>
<polygon points="601,112.4 594.4,104.9 601.2,105.5 607.8,113.2" fill="#e1fa01" stroke="#5f6900" stroke-width="0.75" stroke-linejoin="round"/>
<polygon points="452.3,117.5 445.8,119.2 452.4,111.6 459,110" fill="#c1f449" stroke="#51671f" stroke-width="0.75" stroke-linejoin="round"/>
<polygon points="587.5,104.9 580.9,98.2 587.7,98 594.4,104.9" fill="#ffcb03" stroke="#6b5501" stroke-width="0.75" stroke-linejoin="round"/>
<polygon points="465.6,109.1 459,110 465.7,103.1 472.3,102.3" fill="#fffc4e" stroke="#6b6a21" stroke-width="0.75" stroke-linejoin="round"/>
<polygon points="574,99 567.3,93.1 574.2,92.1 580.9,98.2" fill="#ff8d06" stroke="#6b3b03" stroke-width="0.75" stroke-linejoin="round"/>
<polygon points="478.9,102.4 472.3,102.3 479,96.1 485.7,96.2" fill="#ffc84f" stroke="#6b5421" stroke-width="0.75" stroke-linejoin="round"/>
<polygon points="560.4,94.7 553.7,89.6 560.6,87.8 567.3,93.1" fill="#ff630d" stroke="#6b2a05" stroke-width="0.75" stroke-linejoin="round"/>
<polygon points="492.4,97.1 485.7,96.2 492.5,90.7 499.2,91.7" fill="#ff9e4a" stroke="#6b421f" stroke-width="0.75" stroke-linejoin="round"/>
<polygon points="546.8,92 540,87.7 546.9,85.2 553.7,89.6" fill="#ff4f17" stroke="#6b210a" stroke-width="0.75" stroke-linejoin="round"/>
<polygon points="505.9,93.5 499.2,91.7 506,86.9 512.7,88.8" fill="#ff7b41" stroke="#6b341b" stroke-width="0.75" stroke-linejoin="round"/>
<polygon points="533.1,90.9 526.4,87.5 533.3,84.2 540,87.7" fill="#ff4f24" stroke="#6b210f" stroke-width="0.75" stroke-linejoin="round"/>
<polygon points="519.5,91.4 512.7,88.8 519.6,84.7 526.4,87.5" fill="#ff5f34" stroke="#6b2816" stroke-width="0.75" stroke-linejoin="round"/>
<polygon points="634,141.8 627.5,132.1 634.2,134.6 640.6,144.4" fill="#00bd3c" stroke="#004f19" stroke-width="0.75" stroke-linejoin="round"/>
<polygon points="419.9,148 413.5,151.6 419.9,142.2 426.3,138.7" fill="#3df0a8" stroke="#1a6547" stroke-width="0.75" stroke-linejoin="round"/>
<polygon points="620.9,130.4 614.3,121.5 621.1,123.1 627.5,132.1" fill="#36d600" stroke="#175a00" stroke-width="0.75" stroke-linejoin="round"/>
<polygon points="432.7,136 426.3,138.7 432.8,130 439.2,127.3" fill="#45df4b" stroke="#1d5e20" stroke-width="0.75" stroke-linejoin="round"/>
<polygon points="607.6,120.6 601,112.4 607.8,113.2 614.3,121.5" fill="#a3ef01" stroke="#456400" stroke-width="0.75" stroke-linejoin="round"/>
<polygon points="445.7,125.5 439.2,127.3 445.8,119.2 452.3,117.5" fill="#98ed4d" stroke="#406320" stroke-width="0.75" stroke-linejoin="round"/>
<polygon points="594.2,112.3 587.5,104.9 594.4,104.9 601,112.4" fill="#fdff02" stroke="#6a6b01" stroke-width="0.75" stroke-linejoin="round"/>
<polygon points="458.9,116.5 452.3,117.5 459,110 465.6,109.1" fill="#def952" stroke="#5d6923" stroke-width="0.75" stroke-linejoin="round"/>
<polygon points="580.7,105.6 574,99 580.9,98.2 587.5,104.9" fill="#ffb905" stroke="#6b4e02" stroke-width="0.75" stroke-linejoin="round"/>
<polygon points="472.2,109 465.6,109.1 472.3,102.3 478.9,102.4" fill="#ffe955" stroke="#6b6224" stroke-width="0.75" stroke-linejoin="round"/>
<polygon points="567.1,100.5 560.4,94.7 567.3,93.1 574,99" fill="#ff850a" stroke="#6b3804" stroke-width="0.75" stroke-linejoin="round"/>
<polygon points="485.6,103.1 478.9,102.4 485.7,96.2 492.4,97.1" fill="#ffbd53" stroke="#6b4f23" stroke-width="0.75" stroke-linejoin="round"/>
<polygon points="553.5,97 546.8,92 553.7,89.6 560.4,94.7" fill="#ff6613" stroke="#6b2b08" stroke-width="0.75" stroke-linejoin="round"/>
<polygon points="499.1,98.7 492.4,97.1 499.2,91.7 505.9,93.5" fill="#ff994c" stroke="#6b4020" stroke-width="0.75" stroke-linejoin="round"/>
<polygon points="539.9,95.1 533.1,90.9 540,87.7 546.8,92" fill="#ff5d20" stroke="#6b270d" stroke-width="0.75" stroke-linejoin="round"/>
<polygon points="512.6,95.9 505.9,93.5 512.7,88.8 519.5,91.4" fill="#ff7b3f" stroke="#6b331b" stroke-width="0.75" stroke-linejoin="round"/>
<polygon points="526.2,94.7 519.5,91.4 526.4,87.5 533.1,90.9" fill="#ff6530" stroke="#6b2a14" stroke-width="0.75" stroke-linejoin="round"/>
<polygon points="627.3,139.9 620.9,130.4 627.5,132.1 634,141.8" fill="#00cb14" stroke="#005508" stroke-width="0.75" stroke-linejoin="round"/>
<polygon points="426.3,145.1 419.9,148 426.3,138.7 432.7,136" fill="#47e981" stroke="#1e6236" stroke-width="0.75" stroke-linejoin="round"/>
<polygon points="614.1,129.4 607.6,120.6 614.3,121.5 620.9,130.4" fill="#5fe301" stroke="#285f00" stroke-width="0.75" stroke-linejoin="round"/>
<polygon points="439.2,134 432.7,136 439.2,127.3 445.7,125.5" fill="#6ce54f" stroke="#2d6021" stroke-width="0.75" stroke-linejoin="round"/>
<polygon points="600.8,120.3 594.2,112.3 601,112.4 607.6,120.6" fill="#c1f401" stroke="#516701" stroke-width="0.75" stroke-linejoin="round"/>
<polygon points="452.3,124.4 445.7,125.5 452.3,117.5 458.9,116.5" fill="#b8f256" stroke="#4d6624" stroke-width="0.75" stroke-linejoin="round"/>
<polygon points="587.3,112.9 580.7,105.6 587.5,104.9 594.2,112.3" fill="#ffec04" stroke="#6b6302" stroke-width="0.75" stroke-linejoin="round"/>
<polygon points="465.5,116.3 458.9,116.5 465.6,109.1 472.2,109" fill="#f3fd5a" stroke="#666a26" stroke-width="0.75" stroke-linejoin="round"/>
<polygon points="573.8,107 567.1,100.5 574,99 580.7,105.6" fill="#ffaf08" stroke="#6b4903" stroke-width="0.75" stroke-linejoin="round"/>
<polygon points="478.8,109.7 472.2,109 478.9,102.4 485.6,103.1" fill="#ffdd5b" stroke="#6b5d26" stroke-width="0.75" stroke-linejoin="round"/>
<polygon points="560.2,102.7 553.5,97 560.4,94.7 567.1,100.5" fill="#ff8610" stroke="#6b3807" stroke-width="0.75" stroke-linejoin="round"/>
<polygon points="492.3,104.6 485.6,103.1 492.4,97.1 499.1,98.7" fill="#ffb755" stroke="#6b4d24" stroke-width="0.75" stroke-linejoin="round"/>
<polygon points="546.6,99.9 539.9,95.1 546.8,92 553.5,97" fill="#ff711c" stroke="#6b300c" stroke-width="0.75" stroke-linejoin="round"/>
<polygon points="505.8,101.1 499.1,98.7 505.9,93.5 512.6,95.9" fill="#ff984a" stroke="#6b401f" stroke-width="0.75" stroke-linejoin="round"/>
<polygon points="533,98.8 526.2,94.7 533.1,90.9 539.9,95.1" fill="#ff702b" stroke="#6b2f12" stroke-width="0.75" stroke-linejoin="round"/>
<polygon points="519.3,99.2 512.6,95.9 519.5,91.4 526.2,94.7" fill="#ff7f3b" stroke="#6b3519" stroke-width="0.75" stroke-linejoin="round"/>
<polygon points="620.6,138.8 614.1,129.4 620.9,130.4 627.3,139.9" fill="#15d600" stroke="#095a00" stroke-width="0.75" stroke-linejoin="round"/>
<polygon points="432.7,143.1 426.3,145.1 432.7,136 439.2,134" fill="#51e465" stroke="#22602a" stroke-width="0.75" stroke-linejoin="round"/>
<polygon points="607.4,129 600.8,120.3 607.6,120.6 614.1,129.4" fill="#7fe801" stroke="#356200" stroke-width="0.75" stroke-linejoin="round"/>
<polygon points="445.7,132.8 439.2,134 445.7,125.5 452.3,124.4" fill="#8feb59" stroke="#3c6325" stroke-width="0.75" stroke-linejoin="round"/>
<polygon points="594,120.8 587.3,112.9 594.2,112.3 600.8,120.3" fill="#d8f803" stroke="#5b6801" stroke-width="0.75" stroke-linejoin="round"/>
<polygon points="458.8,124.1 452.3,124.4 458.9,116.5 465.5,116.3" fill="#cff65f" stroke="#576828" stroke-width="0.75" stroke-linejoin="round"/>
<polygon points="580.5,114.1 573.8,107 580.7,105.6 587.3,112.9" fill="#ffe007" stroke="#6b5e03" stroke-width="0.75" stroke-linejoin="round"/>
<polygon points="472.1,116.8 465.5,116.3 472.2,109 478.8,109.7" fill="#fffe61" stroke="#6b6b29" stroke-width="0.75" stroke-linejoin="round"/>
<polygon points="566.9,109 560.2,102.7 567.1,100.5 573.8,107" fill="#ffac0d" stroke="#6b4805" stroke-width="0.75" stroke-linejoin="round"/>
<polygon points="485.5,111.1 478.8,109.7 485.6,103.1 492.3,104.6" fill="#ffd75e" stroke="#6b5a27" stroke-width="0.75" stroke-linejoin="round"/>
<polygon points="553.3,105.5 546.6,99.9 553.5,97 560.2,102.7" fill="#ff8d17" stroke="#6b3b0a" stroke-width="0.75" stroke-linejoin="round"/>
<polygon points="499,106.9 492.3,104.6 499.1,98.7 505.8,101.1" fill="#ffb655" stroke="#6b4c24" stroke-width="0.75" stroke-linejoin="round"/>
<polygon points="539.7,103.5 533,98.8 539.9,95.1 546.6,99.9" fill="#ff8225" stroke="#6b3710" stroke-width="0.75" stroke-linejoin="round"/>
<polygon points="512.5,104.2 505.8,101.1 512.6,95.9 519.3,99.2" fill="#ff9b47" stroke="#6b411e" stroke-width="0.75" stroke-linejoin="round"/>
<polygon points="526.1,103.1 519.3,99.2 526.2,94.7 533,98.8" fill="#ff8836" stroke="#6b3917" stroke-width="0.75" stroke-linejoin="round"/>
<polygon points="613.9,138.3 607.4,129 614.1,129.4 620.6,138.8" fill="#37dc01" stroke="#175c00" stroke-width="0.75" stroke-linejoin="round"/>
<polygon points="439.2,141.8 432.7,143.1 439.2,134 445.7,132.8" fill="#65e45c" stroke="#2a6026" stroke-width="0.75" stroke-linejoin="round"/>
<polygon points="600.5,129.4 594,120.8 600.8,120.3 607.4,129" fill="#97ed02" stroke="#406301" stroke-width="0.75" stroke-linejoin="round"/>
<polygon points="452.2,132.4 445.7,132.8 452.3,124.4 458.8,124.1" fill="#aaf062" stroke="#476529" stroke-width="0.75" stroke-linejoin="round"/>
<polygon points="587.1,122 580.5,114.1 587.3,112.9 594,120.8" fill="#e7fb05" stroke="#616902" stroke-width="0.75" stroke-linejoin="round"/>
<polygon points="465.4,124.5 458.8,124.1 465.5,116.3 472.1,116.8" fill="#dff966" stroke="#5e692b" stroke-width="0.75" stroke-linejoin="round"/>
<polygon points="573.6,116.1 566.9,109 573.8,107 580.5,114.1" fill="#ffda0b" stroke="#6b5c04" stroke-width="0.75" stroke-linejoin="round"/>
<polygon points="478.8,118.1 472.1,116.8 478.8,109.7 485.5,111.1" fill="#fff665" stroke="#6b672a" stroke-width="0.75" stroke-linejoin="round"/>
<polygon points="560,111.7 553.3,105.5 560.2,102.7 566.9,109" fill="#ffb113" stroke="#6b4a08" stroke-width="0.75" stroke-linejoin="round"/>
<polygon points="492.2,113.2 485.5,111.1 492.3,104.6 499,106.9" fill="#ffd45f" stroke="#6b5928" stroke-width="0.75" stroke-linejoin="round"/>
<polygon points="546.4,109 539.7,103.5 546.6,99.9 553.3,105.5" fill="#ff9b20" stroke="#6b410e" stroke-width="0.75" stroke-linejoin="round"/>
<polygon points="505.7,109.9 499,106.9 505.8,101.1 512.5,104.2" fill="#ffb952" stroke="#6b4e23" stroke-width="0.75" stroke-linejoin="round"/>
<polygon points="532.8,107.7 526.1,103.1 533,98.8 539.7,103.5" fill="#ff9830" stroke="#6b4014" stroke-width="0.75" stroke-linejoin="round"/>
<polygon points="519.2,108 512.5,104.2 519.3,99.2 526.1,103.1" fill="#ffa342" stroke="#6b451c" stroke-width="0.75" stroke-linejoin="round"/>
<polygon points="607.1,138.6 600.5,129.4 607.4,129 613.9,138.3" fill="#51e002" stroke="#225e01" stroke-width="0.75" stroke-linejoin="round"/>
<polygon points="445.7,141.3 439.2,141.8 445.7,132.8 452.2,132.4" fill="#82e965" stroke="#37622b" stroke-width="0.75" stroke-linejoin="round"/>
<polygon points="593.7,130.4 587.1,122 594,120.8 600.5,129.4" fill="#a9f004" stroke="#476502" stroke-width="0.75" stroke-linejoin="round"/>
<polygon points="458.8,132.8 452.2,132.4 458.8,124.1 465.4,124.5" fill="#bcf36a" stroke="#4f662d" stroke-width="0.75" stroke-linejoin="round"/>
<polygon points="580.2,123.8 573.6,116.1 580.5,114.1 587.1,122" fill="#effc09" stroke="#646a04" stroke-width="0.75" stroke-linejoin="round"/>
<polygon points="472.1,125.8 465.4,124.5 472.1,116.8 478.8,118.1" fill="#e8fb6b" stroke="#62692d" stroke-width="0.75" stroke-linejoin="round"/>
<polygon points="566.7,118.7 560,111.7 566.9,109 573.6,116.1" fill="#ffdc10" stroke="#6b5c07" stroke-width="0.75" stroke-linejoin="round"/>
<polygon points="485.4,120.2 478.8,118.1 485.5,111.1 492.2,113.2" fill="#fff367" stroke="#6b662b" stroke-width="0.75" stroke-linejoin="round"/>
<polygon points="553.1,115.1 546.4,109 553.3,105.5 560,111.7" fill="#ffbc1b" stroke="#6b4f0b" stroke-width="0.75" stroke-linejoin="round"/>
<polygon points="498.9,116.1 492.2,113.2 499,106.9 505.7,109.9" fill="#ffd65d" stroke="#6b5a27" stroke-width="0.75" stroke-linejoin="round"/>
<polygon points="539.5,113.1 532.8,107.7 539.7,103.5 546.4,109" fill="#ffae2a" stroke="#6b4912" stroke-width="0.75" stroke-linejoin="round"/>
<polygon points="512.4,113.6 505.7,109.9 512.5,104.2 519.2,108" fill="#ffc04e" stroke="#6b5121" stroke-width="0.75" stroke-linejoin="round"/>
<polygon points="525.9,112.6 519.2,108 526.1,103.1 532.8,107.7" fill="#ffb13c" stroke="#6b4a19" stroke-width="0.75" stroke-linejoin="round"/>
<polygon points="600.3,139.5 593.7,130.4 600.5,129.4 607.1,138.6" fill="#64e403" stroke="#2a6001" stroke-width="0.75" stroke-linejoin="round"/>
<polygon points="452.2,141.6 445.7,141.3 452.2,132.4 458.8,132.8" fill="#98ed6e" stroke="#40632e" stroke-width="0.75" stroke-linejoin="round"/>
<polygon points="586.9,132.2 580.2,123.8 587.1,122 593.7,130.4" fill="#b3f207" stroke="#4b6503" stroke-width="0.75" stroke-linejoin="round"/>
<polygon points="465.4,133.9 458.8,132.8 465.4,124.5 472.1,125.8" fill="#c8f570" stroke="#54672f" stroke-width="0.75" stroke-linejoin="round"/>
<polygon points="573.4,126.3 566.7,118.7 573.6,116.1 580.2,123.8" fill="#f0fc0d" stroke="#656a05" stroke-width="0.75" stroke-linejoin="round"/>
<polygon points="478.7,127.7 472.1,125.8 478.8,118.1 485.4,120.2" fill="#ecfc6e" stroke="#636a2e" stroke-width="0.75" stroke-linejoin="round"/>
<polygon points="559.8,122 553.1,115.1 560,111.7 566.7,118.7" fill="#ffe417" stroke="#6b600a" stroke-width="0.75" stroke-linejoin="round"/>
<polygon points="492.1,123 485.4,120.2 492.2,113.2 498.9,116.1" fill="#fff466" stroke="#6b672b" stroke-width="0.75" stroke-linejoin="round"/>
<polygon points="546.2,119.1 539.5,113.1 546.4,109 553.1,115.1" fill="#ffcc24" stroke="#6b560f" stroke-width="0.75" stroke-linejoin="round"/>
<polygon points="505.6,119.8 498.9,116.1 505.7,109.9 512.4,113.6" fill="#ffdd58" stroke="#6b5d25" stroke-width="0.75" stroke-linejoin="round"/>
<polygon points="532.7,117.8 525.9,112.6 532.8,107.7 539.5,113.1" fill="#ffc535" stroke="#6b5316" stroke-width="0.75" stroke-linejoin="round"/>
<polygon points="519.1,118.1 512.4,113.6 519.2,108 525.9,112.6" fill="#ffcc47" stroke="#6b561e" stroke-width="0.75" stroke-linejoin="round"/>
<polygon points="593.5,141.2 586.9,132.2 593.7,130.4 600.3,139.5" fill="#70e605" stroke="#2f6102" stroke-width="0.75" stroke-linejoin="round"/>
<polygon points="458.8,142.7 452.2,141.6 458.8,132.8 465.4,133.9" fill="#a6ef74" stroke="#466431" stroke-width="0.75" stroke-linejoin="round"/>
<polygon points="580,134.6 573.4,126.3 580.2,123.8 586.9,132.2" fill="#b6f20b" stroke="#4c6604" stroke-width="0.75" stroke-linejoin="round"/>
<polygon points="472.1,135.8 465.4,133.9 472.1,125.8 478.7,127.7" fill="#cdf674" stroke="#566731" stroke-width="0.75" stroke-linejoin="round"/>
<polygon points="566.5,129.5 559.8,122 566.7,118.7 573.4,126.3" fill="#eafb13" stroke="#626a08" stroke-width="0.75" stroke-linejoin="round"/>
<polygon points="485.4,130.5 478.7,127.7 485.4,120.2 492.1,123" fill="#ecfc6e" stroke="#636a2e" stroke-width="0.75" stroke-linejoin="round"/>
<polygon points="553,125.9 546.2,119.1 553.1,115.1 559.8,122" fill="#fff21f" stroke="#6b650d" stroke-width="0.75" stroke-linejoin="round"/>
<polygon points="498.8,126.6 492.1,123 498.9,116.1 505.6,119.8" fill="#fffa62" stroke="#6b6929" stroke-width="0.75" stroke-linejoin="round"/>
<polygon points="539.4,123.8 532.7,117.8 539.5,113.1 546.2,119.1" fill="#ffe12e" stroke="#6b5e13" stroke-width="0.75" stroke-linejoin="round"/>
<polygon points="512.3,124.2 505.6,119.8 512.4,113.6 519.1,118.1" fill="#ffe952" stroke="#6b6223" stroke-width="0.75" stroke-linejoin="round"/>
<polygon points="525.8,123.2 519.1,118.1 525.9,112.6 532.7,117.8" fill="#ffdf40" stroke="#6b5e1b" stroke-width="0.75" stroke-linejoin="round"/>
<polygon points="586.6,143.5 580,134.6 586.9,132.2 593.5,141.2" fill="#76e709" stroke="#326104" stroke-width="0.75" stroke-linejoin="round"/>
<polygon points="465.4,144.5 458.8,142.7 465.4,133.9 472.1,135.8" fill="#adf178" stroke="#496532" stroke-width="0.75" stroke-linejoin="round"/>
<polygon points="573.2,137.7 566.5,129.5 573.4,126.3 580,134.6" fill="#b3f210" stroke="#4b6507" stroke-width="0.75" stroke-linejoin="round"/>
<polygon points="478.7,138.5 472.1,135.8 478.7,127.7 485.4,130.5" fill="#cef674" stroke="#566731" stroke-width="0.75" stroke-linejoin="round"/>
<polygon points="559.6,133.3 553,125.9 559.8,122 566.5,129.5" fill="#dff91a" stroke="#5e690b" stroke-width="0.75" stroke-linejoin="round"/>
<polygon points="492.1,134 485.4,130.5 492.1,123 498.8,126.6" fill="#e6fb6b" stroke="#61692d" stroke-width="0.75" stroke-linejoin="round"/>
<polygon points="546.1,130.5 539.4,123.8 546.2,119.1 553,125.9" fill="#fafe28" stroke="#696b11" stroke-width="0.75" stroke-linejoin="round"/>
<polygon points="505.5,130.9 498.8,126.6 505.6,119.8 512.3,124.2" fill="#f9fe5d" stroke="#686b27" stroke-width="0.75" stroke-linejoin="round"/>
<polygon points="532.5,129.1 525.8,123.2 532.7,117.8 539.4,123.8" fill="#fff839" stroke="#6b6818" stroke-width="0.75" stroke-linejoin="round"/>
<polygon points="519,129.3 512.3,124.2 519.1,118.1 525.8,123.2" fill="#fffa4b" stroke="#6b6920" stroke-width="0.75" stroke-linejoin="round"/>
<polygon points="579.8,146.5 573.2,137.7 580,134.6 586.6,143.5" fill="#75e70d" stroke="#316105" stroke-width="0.75" stroke-linejoin="round"/>
<polygon points="472.1,147.1 465.4,144.5 472.1,135.8 478.7,138.5" fill="#aff17a" stroke="#4a6533" stroke-width="0.75" stroke-linejoin="round"/>
<polygon points="566.3,141.4 559.6,133.3 566.5,129.5 573.2,137.7" fill="#abf016" stroke="#486509" stroke-width="0.75" stroke-linejoin="round"/>
<polygon points="485.4,141.9 478.7,138.5 485.4,130.5 492.1,134" fill="#c9f572" stroke="#546730" stroke-width="0.75" stroke-linejoin="round"/>
<polygon points="552.8,137.8 546.1,130.5 553,125.9 559.6,133.3" fill="#d0f722" stroke="#57680e" stroke-width="0.75" stroke-linejoin="round"/>
<polygon points="498.8,138.2 492.1,134 498.8,126.6 505.5,130.9" fill="#dcf966" stroke="#5c682b" stroke-width="0.75" stroke-linejoin="round"/>
<polygon points="539.2,135.7 532.5,129.1 539.4,123.8 546.1,130.5" fill="#e5fa32" stroke="#606915" stroke-width="0.75" stroke-linejoin="round"/>
<polygon points="512.2,135.9 505.5,130.9 512.3,124.2 519,129.3" fill="#e8fb55" stroke="#616924" stroke-width="0.75" stroke-linejoin="round"/>
<polygon points="525.7,135.1 519,129.3 525.8,123.2 532.5,129.1" fill="#ecfc43" stroke="#636a1c" stroke-width="0.75" stroke-linejoin="round"/>
<polygon points="573,150.2 566.3,141.4 573.2,137.7 579.8,146.5" fill="#6fe612" stroke="#2f6008" stroke-width="0.75" stroke-linejoin="round"/>
<polygon points="478.7,150.5 472.1,147.1 478.7,138.5 485.4,141.9" fill="#abf078" stroke="#486533" stroke-width="0.75" stroke-linejoin="round"/>
<polygon points="559.5,145.9 552.8,137.8 559.6,133.3 566.3,141.4" fill="#9eee1d" stroke="#42640c" stroke-width="0.75" stroke-linejoin="round"/>
<polygon points="492.1,146.1 485.4,141.9 492.1,134 498.8,138.2" fill="#bff46e" stroke="#50662e" stroke-width="0.75" stroke-linejoin="round"/>
<polygon points="545.9,143 539.2,135.7 546.1,130.5 552.8,137.8" fill="#bcf32b" stroke="#4f6612" stroke-width="0.75" stroke-linejoin="round"/>
<polygon points="505.5,143.1 498.8,138.2 505.5,130.9 512.2,135.9" fill="#ccf65f" stroke="#556728" stroke-width="0.75" stroke-linejoin="round"/>
<polygon points="532.4,141.6 525.7,135.1 532.5,129.1 539.2,135.7" fill="#cdf63b" stroke="#566719" stroke-width="0.75" stroke-linejoin="round"/>
<polygon points="518.9,141.6 512.2,135.9 519,129.3 525.7,135.1" fill="#d1f74d" stroke="#586821" stroke-width="0.75" stroke-linejoin="round"/>
<polygon points="566.1,154.6 559.5,145.9 566.3,141.4 573,150.2" fill="#64e418" stroke="#2a600a" stroke-width="0.75" stroke-linejoin="round"/>
<polygon points="485.4,154.6 478.7,150.5 485.4,141.9 492.1,146.1" fill="#a2ef75" stroke="#446431" stroke-width="0.75" stroke-linejoin="round"/>
<polygon points="552.6,151 545.9,143 552.8,137.8 559.5,145.9" fill="#8ceb25" stroke="#3b630f" stroke-width="0.75" stroke-linejoin="round"/>
<polygon points="498.8,151 492.1,146.1 498.8,138.2 505.5,143.1" fill="#aff167" stroke="#49652b" stroke-width="0.75" stroke-linejoin="round"/>
<polygon points="539.1,148.8 532.4,141.6 539.2,135.7 545.9,143" fill="#a6ef34" stroke="#466516" stroke-width="0.75" stroke-linejoin="round"/>
<polygon points="512.2,148.8 505.5,143.1 512.2,135.9 518.9,141.6" fill="#b5f257" stroke="#4c6625" stroke-width="0.75" stroke-linejoin="round"/>
<polygon points="525.6,148.1 518.9,141.6 525.7,135.1 532.4,141.6" fill="#b3f245" stroke="#4b651d" stroke-width="0.75" stroke-linejoin="round"/>
<polygon points="559.3,159.6 552.6,151 559.5,145.9 566.1,154.6" fill="#55e11f" stroke="#245f0d" stroke-width="0.75" stroke-linejoin="round"/>
<polygon points="492.1,159.4 485.4,154.6 492.1,146.1 498.8,151" fill="#92ec6f" stroke="#3d632f" stroke-width="0.75" stroke-linejoin="round"/>
<polygon points="545.8,156.7 539.1,148.8 545.9,143 552.6,151" fill="#78e72d" stroke="#326113" stroke-width="0.75" stroke-linejoin="round"/>
<polygon points="505.5,156.6 498.8,151 505.5,143.1 512.2,148.8" fill="#99ed60" stroke="#406428" stroke-width="0.75" stroke-linejoin="round"/>
<polygon points="532.3,155.3 525.6,148.1 532.4,141.6 539.1,148.8" fill="#8eeb3d" stroke="#3b631a" stroke-width="0.75" stroke-linejoin="round"/>
<polygon points="518.9,155.2 512.2,148.8 518.9,141.6 525.6,148.1" fill="#98ed4f" stroke="#406321" stroke-width="0.75" stroke-linejoin="round"/>
<polygon points="552.5,165.4 545.8,156.7 552.6,151 559.3,159.6" fill="#42de27" stroke="#1c5d10" stroke-width="0.75" stroke-linejoin="round"/>
<polygon points="498.8,165 492.1,159.4 498.8,151 505.5,156.6" fill="#7ce868" stroke="#34612c" stroke-width="0.75" stroke-linejoin="round"/>
<polygon points="539,163.2 532.3,155.3 539.1,148.8 545.8,156.7" fill="#61e336" stroke="#295f17" stroke-width="0.75" stroke-linejoin="round"/>
<polygon points="512.2,163 505.5,156.6 512.2,148.8 518.9,155.2" fill="#7ce857" stroke="#346125" stroke-width="0.75" stroke-linejoin="round"/>
<polygon points="525.6,162.4 518.9,155.2 525.6,148.1 532.3,155.3" fill="#74e646" stroke="#31611e" stroke-width="0.75" stroke-linejoin="round"/>
<polygon points="545.7,171.7 539,163.2 545.8,156.7 552.5,165.4" fill="#2fdb31" stroke="#145c15" stroke-width="0.75" stroke-linejoin="round"/>
<polygon points="505.5,171.4 498.8,165 505.5,156.6 512.2,163" fill="#60e35f" stroke="#285f28" stroke-width="0.75" stroke-linejoin="round"/>
<polygon points="532.3,170.2 525.6,162.4 532.3,155.3 539,163.2" fill="#48df3e" stroke="#1e5e1a" stroke-width="0.75" stroke-linejoin="round"/>
<polygon points="518.9,170.1 512.2,163 518.9,155.2 525.6,162.4" fill="#58e24f" stroke="#255f21" stroke-width="0.75" stroke-linejoin="round"/>
<polygon points="539,178.7 532.3,170.2 539,163.2 545.7,171.7" fill="#37e259" stroke="#175f25" stroke-width="0.75" stroke-linejoin="round"/>
<polygon points="512.2,178.4 505.5,171.4 512.2,163 518.9,170.1" fill="#57e672" stroke="#256130" stroke-width="0.75" stroke-linejoin="round"/>
<polygon points="525.6,177.9 518.9,170.1 525.6,162.4 532.3,170.2" fill="#47e360" stroke="#1e5f28" stroke-width="0.75" stroke-linejoin="round"/>
<polygon points="532.3,186.4 525.6,177.9 532.3,170.2 539,178.7" fill="#3fe983" stroke="#1a6237" stroke-width="0.75" stroke-linejoin="round"/>
<polygon points="518.9,186.2 512.2,178.4 518.9,170.1 525.6,177.9" fill="#4eeb8c" stroke="#21633b" stroke-width="0.75" stroke-linejoin="round"/>
<polygon points="525.6,194.7 518.9,186.2 525.6,177.9 532.3,186.4" fill="#46f1ad" stroke="#1e6549" stroke-width="0.75" stroke-linejoin="round"/>
<circle cx="395" cy="170.6" r="1.25" fill="#000"/>
<text x="391.5" y="168.9" font-size="6.3" text-anchor="end" fill="#2a2a2a">50</text>
<circle cx="393.7" cy="143.4" r="1.25" fill="#000"/>
<text x="390.2" y="141.7" font-size="6.3" text-anchor="end" fill="#2a2a2a">60</text>
<circle cx="392.4" cy="116.2" r="1.25" fill="#000"/>
<text x="388.9" y="114.5" font-size="6.3" text-anchor="end" fill="#2a2a2a">70</text>
<circle cx="391.1" cy="89" r="1.25" fill="#000"/>
<text x="387.6" y="87.3" font-size="6.3" text-anchor="end" fill="#2a2a2a">80</text>
<circle cx="389.8" cy="61.8" r="1.25" fill="#000"/>
<text x="386.3" y="60.1" font-size="6.3" text-anchor="end" fill="#2a2a2a">90</text>
<circle cx="388.5" cy="34.6" r="1.25" fill="#000"/>
<text x="385" y="32.9" font-size="6.3" text-anchor="end" fill="#2a2a2a">100</text>
<circle cx="527.1" cy="275.4" r="1.25" fill="#000"/>
<text x="523.9" y="282.1" font-size="6" text-anchor="end" fill="#2a2a2a">5</text>
<circle cx="527.1" cy="275.4" r="1.25" fill="#000"/>
<text x="530.5" y="281.8" font-size="6" fill="#2a2a2a">2.375</text>
<circle cx="501.1" cy="263" r="1.25" fill="#000"/>
<text x="497.9" y="269.6" font-size="6" text-anchor="end" fill="#2a2a2a">6</text>
<circle cx="553.1" cy="262.9" r="1.25" fill="#000"/>
<text x="556.5" y="269.2" font-size="6" fill="#2a2a2a">3.325</text>
<circle cx="475.1" cy="250.6" r="1.25" fill="#000"/>
<text x="471.9" y="257.2" font-size="6" text-anchor="end" fill="#2a2a2a">7</text>
<circle cx="579.1" cy="250.4" r="1.25" fill="#000"/>
<text x="582.5" y="256.8" font-size="6" fill="#2a2a2a">4.275</text>
<circle cx="449.1" cy="238.1" r="1.25" fill="#000"/>
<text x="445.9" y="244.8" font-size="6" text-anchor="end" fill="#2a2a2a">8</text>
<circle cx="605.1" cy="237.9" r="1.25" fill="#000"/>
<text x="608.5" y="244.3" font-size="6" fill="#2a2a2a">5.225</text>
<circle cx="423.1" cy="225.7" r="1.25" fill="#000"/>
<text x="419.9" y="232.4" font-size="6" text-anchor="end" fill="#2a2a2a">9</text>
<circle cx="631.1" cy="225.4" r="1.25" fill="#000"/>
<text x="634.5" y="231.8" font-size="6" fill="#2a2a2a">6.175</text>
<circle cx="397.1" cy="213.3" r="1.25" fill="#000"/>
<text x="393.9" y="219.9" font-size="6" text-anchor="end" fill="#2a2a2a">10</text>
<circle cx="657.1" cy="212.9" r="1.25" fill="#000"/>
<text x="660.5" y="219.2" font-size="6" fill="#2a2a2a">7.125</text>
<text x="350.1" y="32.2" font-size="12.8" font-weight="bold" fill="#000">E.</text>
<text x="0" y="0" font-size="8.4" text-anchor="middle" fill="#2a2a2a" stroke="#2a2a2a" stroke-width="0.15" transform="translate(365.8,133.3) rotate(-90)" dy="2.9">EE (%)</text>
<text x="363.5" y="272.9" font-size="9.4" textLength="101.6" lengthAdjust="spacingAndGlyphs" fill="#2a2a2a" stroke="#2a2a2a" stroke-width="0.15">C: Sonication time (min)</text>
<text x="595.7" y="272.8" font-size="9.4" textLength="87" lengthAdjust="spacingAndGlyphs" fill="#2a2a2a" stroke="#2a2a2a" stroke-width="0.15">A: Phospholipid (mg)</text>
<circle cx="395.8" cy="168.4" r="3.2" fill="#f6c4c4" stroke="#b08080" stroke-width="0.5"/>
<circle cx="527.1" cy="196.8" r="3.2" fill="#f6c4c4" stroke="#b08080" stroke-width="0.5"/>
<circle cx="526.6" cy="74.8" r="3" fill="#a80000" stroke="#4a0000" stroke-width="0.6"/>
<circle cx="659.2" cy="155.9" r="3" fill="#a80000" stroke="#4a0000" stroke-width="0.6"/>
<polyline points="218.6,496.2 331.7,432.2 515.5,463.9" stroke="#3a3a3a" stroke-width="0.8" fill="none"/>
<polyline points="216.9,465.4 331.3,405.2 516.9,434.9" stroke="#3a3a3a" stroke-width="0.8" fill="none"/>
<polyline points="215.3,434.5 330.9,378.2 518.3,406" stroke="#3a3a3a" stroke-width="0.8" fill="none"/>
<polyline points="213.7,403.7 330.5,351.2 519.7,377" stroke="#3a3a3a" stroke-width="0.8" fill="none"/>
<polyline points="212,372.8 330,324.1 521,348.1" stroke="#3a3a3a" stroke-width="0.8" fill="none"/>
<polyline points="210.4,342 329.6,297.1 522.4,319.1" stroke="#3a3a3a" stroke-width="0.8" fill="none"/>
<line x1="241.2" y1="483.4" x2="234.2" y2="333" stroke="#3a3a3a" stroke-width="0.8" fill="none"/>
<line x1="478.8" y1="457.5" x2="483.8" y2="314.7" stroke="#3a3a3a" stroke-width="0.8" fill="none"/>
<line x1="263.8" y1="470.6" x2="258.1" y2="324" stroke="#3a3a3a" stroke-width="0.8" fill="none"/>
<line x1="442" y1="451.2" x2="445.3" y2="310.3" stroke="#3a3a3a" stroke-width="0.8" fill="none"/>
<line x1="286.5" y1="457.8" x2="281.9" y2="315.1" stroke="#3a3a3a" stroke-width="0.8" fill="none"/>
<line x1="405.3" y1="444.9" x2="406.7" y2="305.9" stroke="#3a3a3a" stroke-width="0.8" fill="none"/>
<line x1="309.1" y1="445" x2="305.8" y2="306.1" stroke="#3a3a3a" stroke-width="0.8" fill="none"/>
<line x1="368.5" y1="438.6" x2="368.2" y2="301.5" stroke="#3a3a3a" stroke-width="0.8" fill="none"/>
<line x1="221.1" y1="544.2" x2="210.4" y2="342" stroke="#3a3a3a" stroke-width="0.8" fill="none"/>
<line x1="332.4" y1="474.3" x2="329.6" y2="297.1" stroke="#3a3a3a" stroke-width="0.8" fill="none"/>
<line x1="513.4" y1="508.9" x2="522.4" y2="319.1" stroke="#3a3a3a" stroke-width="0.8" fill="none"/>
<polygon points="422.6,591.1 221.1,544.2 332.4,474.3 513.4,508.9" fill="#666666" stroke="#222" stroke-width="0.8"/>
<polyline points="408.7,587.9 409.1,587.4 409.6,587 410,586.6 410.5,586.2 410.9,585.8 411.4,585.4 411.9,585 412.3,584.6 412.8,584.2 413.2,583.8 413.7,583.4 414.2,583 414.6,582.6 415.1,582.2 415.6,581.8 416,581.3 416.5,580.9 417,580.5 417.5,580.1 418,579.7 418.4,579.3 418.9,578.9 419.4,578.5 419.9,578.1 420.4,577.7 420.9,577.3 421.4,576.9 421.8,576.5 422.3,576.1 422.8,575.7 423.3,575.3 423.8,574.9 424.3,574.5 424.8,574.1 425.3,573.7 425.9,573.3 426.4,573 426.9,572.6 427.4,572.2 427.9,571.8 428.1,571.6 428.4,571.4 428.9,571 429.5,570.6 430,570.2 430.5,569.8 431,569.4 431.6,569 432.1,568.6 432.6,568.2 433.2,567.8 433.7,567.5 434.3,567.1 434.8,566.7 435.3,566.3 435.4,566.3 435.9,565.9 436.5,565.5 437,565.1 437.6,564.7 438.1,564.4 438.7,564 439.3,563.6 439.8,563.2 440.4,562.8 440.7,562.6 441,562.4 441.6,562.1 442.1,561.7 442.7,561.3 443.3,560.9 443.9,560.5 444.5,560.2 445.1,559.8 445.3,559.6 445.7,559.4 446.3,559 446.9,558.6 447.5,558.3 448.1,557.9 448.7,557.5 449.3,557.1 449.3,557.1 449.9,556.8 450.5,556.4 451.2,556 451.8,555.7 452.4,555.3 453,554.9 453,554.9 453.7,554.5 454.3,554.2 454.9,553.8 455.6,553.4 456.2,553.1 456.4,553 456.9,552.7 457.5,552.3 458.2,552 458.9,551.6 459.5,551.2 459.5,551.2 460.2,550.9 460.9,550.5 461.5,550.1 462.2,549.8 462.5,549.6 462.9,549.4 463.6,549.1 464.2,548.7 464.9,548.3 465.4,548.1 465.6,548 466.3,547.6 467,547.3 467.7,546.9 468.1,546.7 468.4,546.5 469.1,546.2 469.9,545.8 470.6,545.5 470.7,545.4 471.3,545.1 472,544.8 472.7,544.4 473.3,544.2 473.5,544.1 474.2,543.7 475,543.4 475.7,543 475.8,543" fill="none" stroke="#4eca14" stroke-width="1.5"/>
<polyline points="393.1,584.2 393.5,583.8 394,583.4 394.4,583 394.9,582.6 395.3,582.2 395.7,581.8 396.2,581.4 396.6,581 397.1,580.6 397.5,580.2 398,579.7 398.4,579.3 398.9,578.9 399.3,578.5 399.8,578.1 400.2,577.7 400.7,577.3 401.2,576.9 401.6,576.5 402.1,576.1 402.6,575.7 403,575.3 403.5,574.9 404,574.5 404.4,574.1 404.9,573.7 405.4,573.3 405.9,572.9 406.3,572.5 406.8,572.1 407.3,571.7 407.8,571.3 408.3,570.9 408.8,570.5 409.3,570.1 409.8,569.7 410.3,569.3 410.8,568.9 411.3,568.5 411.8,568.1 412.3,567.7 412.8,567.3 413.3,567 413.8,566.6 414.3,566.2 414.8,565.8 415.4,565.4 415.9,565 415.9,565 416.4,564.6 416.9,564.2 417.5,563.8 418,563.4 418.5,563.1 419.1,562.7 419.6,562.3 420.2,561.9 420.7,561.5 421.3,561.1 421.8,560.7 422.4,560.4 422.9,560 423,559.9 423.5,559.6 424.1,559.2 424.6,558.8 425.2,558.5 425.8,558.1 426.4,557.7 426.9,557.3 427.5,556.9 428.1,556.6 428.3,556.5 428.7,556.2 429.3,555.8 429.9,555.4 430.5,555.1 431.1,554.7 431.7,554.3 432.3,554 432.7,553.7 432.9,553.6 433.5,553.2 434.2,552.8 434.8,552.5 435.4,552.1 436,551.7 436.5,551.5 436.7,551.4 437.3,551 437.9,550.6 438.6,550.3 439.2,549.9 439.9,549.5 440,549.5 440.5,549.2 441.2,548.8 441.9,548.5 442.5,548.1 443.2,547.7 443.3,547.7 443.9,547.4 444.5,547 445.2,546.7 445.9,546.3 446.3,546.1 446.6,545.9 447.3,545.6 448,545.2 448.7,544.9 449.2,544.6 449.4,544.5 450.1,544.2 450.8,543.8 451.5,543.5 451.9,543.3 452.2,543.1 453,542.8 453.7,542.4 454.4,542.1 454.5,542 455.2,541.7 455.9,541.4 456.6,541 457.1,540.8 457.4,540.7 458.1,540.3 458.9,540 459.5,539.7 459.7,539.6 460.4,539.3 461.2,539 461.9,538.6 462,538.6 462.7,538.3 463.5,537.9 464.2,537.6 464.3,537.6 465.1,537.3 465.9,536.9 466.5,536.7 466.7,536.6 467.5,536.3 468.3,535.9 468.7,535.7 469.1,535.6 469.9,535.2 470.7,534.9 470.9,534.9 471.5,534.6 472.4,534.2 473,534 473.2,533.9 474,533.6 474.9,533.3 475.1,533.2 475.7,532.9 476.6,532.6 477.1,532.4 477.4,532.3 478.3,531.9 479.1,531.6 479.1,531.6 480,531.3 480.9,531 481.1,530.9 481.7,530.6 482.6,530.3 483.1,530.2 483.5,530 484.4,529.7 485,529.5 485.3,529.4 486.2,529 486.9,528.8 487.1,528.7 488,528.4 488.8,528.1 488.9,528.1 489.8,527.8 490.6,527.5 490.7,527.4 491.6,527.1 492.5,526.8 492.5,526.8 493.5,526.5 494.3,526.2" fill="none" stroke="#abdb14" stroke-width="1.5"/>
<polyline points="334.7,474.7 334.2,475.1 333.8,475.5 333.4,475.9 333.3,475.9 333,476.2 332.6,476.6 332.2,477 331.8,477.4 331.3,477.7 330.9,478.1 330.5,478.5 330.5,478.5 330.1,478.9 329.6,479.3 329.2,479.6 328.8,480 328.3,480.4 327.9,480.7 327.4,481.1 327.1,481.4 327,481.5 326.5,481.9 326.1,482.2 325.6,482.6 325.2,483 324.7,483.3 324.3,483.7 323.8,484.1 323.3,484.4 322.9,484.8 322.6,485 322.4,485.2 321.9,485.6 321.4,485.9 321,486.3 320.5,486.7 320,487 319.5,487.4 319,487.7 318.5,488.1 318,488.5 317.5,488.8 317,489.2 316.5,489.6 316,489.9 315.5,490.3 315.3,490.4 315,490.6 314.5,491 313.9,491.4 313.4,491.7 312.9,492.1 312.4,492.4 311.8,492.8 311.3,493.1 310.8,493.5 310.2,493.8 309.7,494.2 309.2,494.6 308.6,494.9 308.1,495.3 307.5,495.6 306.9,496 306.4,496.3 305.8,496.7 305.3,497 304.7,497.4 304.1,497.7 303.6,498.1 303,498.4 302.4,498.8 301.8,499.1 301.2,499.4 300.6,499.8 300,500.1 299.9,500.2 299.5,500.5 298.9,500.8 298.3,501.2 297.6,501.5 297,501.8 296.4,502.2 295.8,502.5 295.2,502.9 294.6,503.2 294,503.5 293.3,503.9 292.7,504.2 292.1,504.5 291.5,504.9 290.8,505.2 290.6,505.3 290.2,505.5 289.5,505.9 288.9,506.2 288.2,506.5 287.6,506.9 286.9,507.2 286.3,507.5 285.6,507.9 285,508.2 284.3,508.5 284.3,508.5 283.6,508.8 283,509.2 282.3,509.5 281.6,509.8 280.9,510.1 280.3,510.5 279.6,510.8 279,511 278.9,511.1 278.2,511.4 277.5,511.8 276.8,512.1 276.1,512.4 275.4,512.7 274.7,513 274.3,513.2 274,513.4 273.3,513.7 272.6,514 271.9,514.3 271.2,514.6 270.4,514.9 270,515.1 269.7,515.2 269,515.6 268.3,515.9 267.5,516.2 266.8,516.5 266.1,516.8 265.9,516.9 265.3,517.1 264.6,517.4 263.9,517.7 263.1,518 262.4,518.4 262,518.5" fill="none" stroke="#abdb14" stroke-width="1.5"/>
<polyline points="375,580 375.5,579.6 375.9,579.2 376.3,578.8 376.7,578.4 377.1,578 377.5,577.6 377.9,577.1 378.3,576.7 378.7,576.3 379.2,575.9 379.6,575.5 380,575.1 380.2,574.9 380.4,574.7 380.9,574.3 381.3,573.9 381.7,573.5 382.1,573.1 382.6,572.6 383,572.2 383.4,571.8 383.9,571.4 384.3,571 384.8,570.6 385.2,570.2 385.6,569.8 386.1,569.4 386.5,569 387,568.6 387.5,568.2 387.9,567.8 388.4,567.4 388.8,567 389.3,566.6 389.8,566.2 390.2,565.8 390.7,565.4 391.2,565 391.6,564.6 392.1,564.2 392.6,563.8 393.1,563.4 393.6,563 394.1,562.6 394.5,562.2 395,561.8 395.5,561.5 396,561.1 396.5,560.7 397,560.3 397.6,559.9 398.1,559.5 398.6,559.1 399.1,558.7 399.6,558.3 400.1,558 400.7,557.6 401.2,557.2 401.7,556.8 402.3,556.4 402.8,556 403.4,555.7 403.9,555.3 403.9,555.3 404.5,554.9 405,554.5 405.6,554.1 406.1,553.8 406.7,553.4 407.3,553 407.8,552.6 408.4,552.3 409,551.9 409.6,551.5 410,551.3 410.2,551.1 410.8,550.8 411.4,550.4 412,550 412.6,549.7 413.2,549.3 413.8,548.9 414.4,548.6 414.6,548.4 415,548.2 415.7,547.8 416.3,547.5 416.9,547.1 417.6,546.7 418.2,546.4 418.5,546.2 418.9,546 419.5,545.7 420.2,545.3 420.8,544.9 421.5,544.6 422,544.3 422.2,544.2 422.8,543.9 423.5,543.5 424.2,543.2 424.9,542.8 425.2,542.7 425.6,542.5 426.3,542.1 427,541.8 427.7,541.4 428.1,541.2 428.4,541.1 429.1,540.7 429.8,540.4 430.6,540 430.9,539.9 431.3,539.7 432,539.3 432.8,539 433.5,538.7 433.6,538.6 434.3,538.3 435,538 435.8,537.6 436.1,537.5 436.5,537.3 437.3,537 438.1,536.6 438.6,536.4 438.9,536.3 439.7,536 440.4,535.6 441,535.4 441.2,535.3 442,535 442.8,534.6 443.3,534.5 443.7,534.3 444.5,534 445.3,533.6 445.5,533.6 446.1,533.3 446.9,533 447.7,532.7 447.8,532.7 448.6,532.3 449.5,532 449.8,531.9 450.3,531.7 451.2,531.4 451.9,531.1 452,531.1 452.9,530.7 453.7,530.4 454,530.3 454.6,530.1 455.5,529.8 456,529.6 456.4,529.5 457.3,529.1 458,528.9 458.2,528.8 459.1,528.5 460,528.2 460,528.2 460.9,527.9 461.8,527.6 461.9,527.5 462.7,527.3 463.6,527 463.8,526.9 464.5,526.6 465.5,526.3 465.7,526.3 466.4,526 467.3,525.7 467.5,525.7 468.3,525.4 469.2,525.1 469.3,525.1 470.2,524.8 471.2,524.5 471.2,524.5 472.1,524.2 473,523.9 473.1,523.9 474.1,523.6 474.7,523.4 475,523.3 476,523 476.5,522.8 477,522.7 478,522.4 478.2,522.3 479,522.1 480,521.8 480,521.8 481,521.5 481.7,521.3 482,521.2 483,520.9 483.4,520.8 484,520.6 485,520.3 485.1,520.3 486.1,520 486.7,519.8 487.1,519.7 488.1,519.4 488.4,519.4 489.2,519.1 490,518.9 490.2,518.8 491.3,518.5 491.7,518.4 492.3,518.3 493.3,518 493.4,518 494.4,517.7 494.9,517.5 495.5,517.4 496.5,517.1 496.6,517.1 497.6,516.8 498.1,516.7 498.7,516.5 499.7,516.3 499.8,516.2 500.9,515.9 501.3,515.8 502,515.7 502.9,515.4 503.1,515.4 504.2,515.1 504.4,515 505.3,514.8 506,514.6 506.4,514.5 507.5,514.2 507.5,514.2" fill="none" stroke="#e5c214" stroke-width="1.5"/>
<polyline points="347.1,477.1 346.8,477.5 346.4,477.9 346.1,478.3 345.9,478.4 345.7,478.7 345.4,479.1 345,479.5 344.6,479.9 344.3,480.2 344.2,480.3 343.9,480.6 343.6,481 343.2,481.4 342.8,481.8 342.4,482.2 342.4,482.3 342.1,482.6 341.7,483 341.3,483.4 340.9,483.8 340.5,484.1 340.2,484.4 340.2,484.5 339.8,484.9 339.4,485.3 339,485.7 338.6,486.1 338.2,486.5 337.8,486.8 337.8,486.8 337.4,487.2 337,487.6 336.6,488 336.1,488.4 335.7,488.7 335.3,489.1 334.9,489.5 334.9,489.5 334.5,489.9 334,490.3 333.6,490.6 333.2,491 332.7,491.4 332.3,491.8 331.8,492.2 331.4,492.5 331.2,492.7 330.9,492.9 330.5,493.3 330,493.7 329.6,494 329.1,494.4 328.6,494.8 328.2,495.2 327.7,495.5 327.2,495.9 326.7,496.3 326.3,496.6 325.8,497 325.4,497.3 325.3,497.4 324.8,497.7 324.3,498.1 323.8,498.5 323.3,498.8 322.8,499.2 322.3,499.6 321.8,499.9 321.3,500.3 320.7,500.7 320.2,501 319.7,501.4 319.1,501.7 318.6,502.1 318.1,502.4 317.5,502.8 317,503.2 316.4,503.5 315.9,503.9 315.3,504.2 314.8,504.6 314.2,504.9 313.6,505.3 313.1,505.6 312.5,506 311.9,506.3 311.3,506.7 310.7,507 310.1,507.4 309.5,507.7 309,508 308.9,508.1 308.3,508.4 307.7,508.8 307.1,509.1 306.5,509.4 305.9,509.8 305.3,510.1 304.7,510.5 304,510.8 303.4,511.1 302.8,511.5 302.1,511.8 301.5,512.2 301.5,512.2 300.8,512.5 300.2,512.8 299.5,513.2 298.9,513.5 298.2,513.8 297.5,514.2 296.9,514.5 296.2,514.8 296,514.9 295.5,515.1 294.8,515.5 294.1,515.8 293.5,516.1 292.8,516.4 292.1,516.8 291.4,517.1 291.4,517.1 290.7,517.4 290,517.7 289.3,518.1 288.6,518.4 287.8,518.7 287.2,519 287.1,519 286.4,519.3 285.7,519.6 284.9,520 284.2,520.3 283.5,520.6 283.3,520.7 282.7,520.9 282,521.2 281.3,521.5 280.5,521.8 279.8,522.2 279.6,522.2 279,522.5 278.3,522.8 277.5,523.1 276.7,523.4 276.2,523.6 276,523.7 275.2,524 274.4,524.3 273.7,524.6 272.9,524.9 272.8,525 272.1,525.2 271.3,525.5 270.6,525.8 269.8,526.1 269.5,526.2 269,526.4 268.2,526.7 267.4,527 266.6,527.3 266.3,527.4 265.8,527.6 265,527.9 264.2,528.2 263.4,528.5 263.2,528.6 262.6,528.8 261.8,529.1 261,529.4 260.2,529.7 260.2,529.7 259.3,530 258.5,530.3 257.7,530.6 257.2,530.8 256.9,530.9 256.1,531.2 255.2,531.5 254.4,531.8 254.2,531.8 253.6,532 252.7,532.3 251.9,532.6 251.3,532.8 251.1,532.9 250.2,533.2 249.4,533.5 248.6,533.8 248.4,533.8 247.7,534.1 246.9,534.3 246,534.6 245.5,534.8 245.2,534.9 244.4,535.2 243.5,535.5 242.7,535.8 242.6,535.8 241.8,536.1 241,536.3 240.1,536.6 239.8,536.7 239.2,536.9 238.4,537.2 237.5,537.5 236.9,537.7 236.7,537.8 235.8,538 235,538.3 234.1,538.6 234.1,538.6 233.2,538.9 232.4,539.2 231.5,539.4 231.3,539.5 230.7,539.7 229.8,540 228.9,540.3 228.5,540.4 228.1,540.5 227.2,540.8 226.3,541.1 225.7,541.3" fill="none" stroke="#e5c214" stroke-width="1.5"/>
<polyline points="352.3,574.7 352.6,574.3 352.7,574.2 352.9,573.9 353.3,573.5 353.6,573 354,572.6 354.3,572.2 354.6,571.8 355,571.4 355,571.3 355.3,570.9 355.7,570.5 356,570.1 356.4,569.6 356.7,569.2 357.1,568.8 357.4,568.4 357.4,568.4 357.8,568 358.1,567.5 358.5,567.1 358.9,566.7 359.2,566.3 359.6,565.9 359.9,565.5 360.2,565.2 360.3,565 360.7,564.6 361.1,564.2 361.4,563.8 361.8,563.4 362.2,563 362.6,562.5 362.9,562.1 363.3,561.7 363.4,561.6 363.7,561.3 364.1,560.9 364.5,560.5 364.9,560.1 365.3,559.7 365.7,559.3 366.1,558.8 366.5,558.4 366.9,558 367.3,557.6 367.7,557.2 367.8,557.2 368.2,556.8 368.6,556.4 369,556 369.4,555.6 369.9,555.2 370.3,554.8 370.7,554.4 371.2,554 371.6,553.6 372.1,553.2 372.5,552.8 373,552.4 373.5,552 373.9,551.6 374.4,551.2 374.9,550.9 375.4,550.5 375.8,550.1 376.3,549.7 376.8,549.3 377.3,548.9 377.8,548.5 378.4,548.1 378.9,547.8 379.4,547.4 379.9,547 380.5,546.6 381,546.2 381.6,545.9 382.1,545.5 382.7,545.1 383.2,544.8 383.8,544.4 384.4,544 384.9,543.7 385,543.6 385.5,543.3 386.1,542.9 386.7,542.5 387.4,542.2 388,541.8 388.6,541.5 389.2,541.1 389.9,540.7 389.9,540.7 390.5,540.4 391.1,540 391.8,539.7 392.5,539.3 393.1,539 393.6,538.7 393.8,538.6 394.5,538.3 395.2,537.9 395.9,537.6 396.6,537.3 396.9,537.1 397.3,536.9 398,536.6 398.8,536.2 399.5,535.9 399.8,535.8 400.3,535.6 401,535.2 401.8,534.9 402.5,534.6 402.5,534.6 403.3,534.2 404.1,533.9 404.9,533.6 405.1,533.5 405.7,533.3 406.5,532.9 407.3,532.6 407.5,532.5 408.1,532.3 408.9,532 409.8,531.7 409.8,531.6 410.6,531.3 411.4,531 412.1,530.8 412.3,530.7 413.2,530.4 414,530.1 414.2,530 414.9,529.8 415.8,529.5 416.4,529.3 416.7,529.2 417.6,528.9 418.4,528.6 418.5,528.6 419.4,528.2 420.3,527.9 420.4,527.9 421.2,527.6 422.2,527.3 422.4,527.3 423.1,527 424,526.7 424.4,526.6 425,526.5 425.9,526.2 426.3,526.1 426.9,525.9 427.9,525.6 428.2,525.5 428.8,525.3 429.8,525 430,524.9 430.8,524.7 431.8,524.4 431.9,524.4 432.8,524.1 433.7,523.9 433.8,523.8 434.8,523.5 435.5,523.4 435.8,523.3 436.8,523 437.2,522.9 437.9,522.7 438.9,522.4 439,522.4 439.9,522.1 440.7,521.9 441,521.8 442,521.6 442.4,521.5 443.1,521.3 444.1,521 444.1,521 445.2,520.7 445.8,520.6 446.3,520.5 447.3,520.2 447.5,520.1 448.4,519.9 449.2,519.7 449.5,519.6 450.6,519.4 450.8,519.3 451.7,519.1 452.5,518.9 452.8,518.8 453.9,518.5 454.1,518.5 455,518.3 455.8,518.1 456.1,518 457.2,517.7 457.4,517.7 458.3,517.5 459,517.3 459.4,517.2 460.6,516.9 460.6,516.9 461.7,516.6 462.2,516.5 462.8,516.4 463.7,516.2 464,516.1 465.1,515.8 465.3,515.8 466.3,515.6 466.9,515.4 467.4,515.3 468.4,515.1 468.6,515 469.7,514.8 470,514.7 470.9,514.5 471.5,514.4 472,514.3 473.1,514 473.2,514 474.4,513.7 474.6,513.7 475.6,513.5 476.1,513.3 476.7,513.2 477.6,513 477.9,512.9 479.1,512.7 479.2,512.7 480.3,512.4 480.7,512.3 481.5,512.2 482.2,512 482.7,511.9 483.7,511.7 483.9,511.6 485.1,511.4 485.1,511.4 486.3,511.1 486.6,511.1 487.5,510.9 488.1,510.7 488.7,510.6 489.6,510.4 490,510.3 491.1,510.1 491.2,510.1 492.4,509.8 492.5,509.8 493.6,509.6 494,509.5 494.9,509.3 495.4,509.2 496.1,509.1 496.9,508.9 497.3,508.8 498.3,508.6 498.6,508.5 499.8,508.3 499.8,508.3 501.1,508 501.2,508 502.3,507.8 502.6,507.7 503.6,507.5 504.1,507.4 504.8,507.3" fill="none" stroke="#e56514" stroke-width="1.5"/>
<polyline points="362.1,480 361.9,480.3 361.8,480.4 361.6,480.8 361.3,481.2 361.1,481.6 361.1,481.6 360.8,482 360.6,482.5 360.3,482.9 360.3,482.9 360.1,483.3 359.8,483.7 359.5,484.1 359.5,484.2 359.3,484.5 359,485 358.8,485.4 358.6,485.6 358.5,485.8 358.2,486.2 357.9,486.6 357.7,487 357.7,487 357.4,487.4 357.1,487.8 356.9,488.3 356.7,488.4 356.6,488.7 356.3,489.1 356,489.5 355.7,489.9 355.7,489.9 355.4,490.3 355.1,490.7 354.9,491.1 354.6,491.5 354.6,491.5 354.3,491.9 354,492.4 353.7,492.8 353.4,493.1 353.4,493.2 353,493.6 352.7,494 352.4,494.4 352.1,494.7 352.1,494.8 351.8,495.2 351.5,495.6 351.1,496 350.8,496.4 350.7,496.5 350.5,496.8 350.2,497.2 349.8,497.6 349.5,498 349.2,498.4 349.1,498.4 348.8,498.8 348.4,499.2 348.1,499.6 347.7,500 347.4,500.4 347.3,500.5 347,500.8 346.6,501.2 346.3,501.6 345.9,502 345.5,502.4 345.2,502.8 345.1,502.8 344.7,503.2 344.4,503.6 344,504 343.6,504.4 343.2,504.8 342.7,505.2 342.3,505.5 342.3,505.6 341.9,505.9 341.5,506.3 341.1,506.7 340.6,507.1 340.2,507.5 339.8,507.9 339.3,508.2 338.9,508.6 338.4,509 337.9,509.4 337.9,509.4 337.5,509.8 337,510.1 336.5,510.5 336,510.9 335.6,511.3 335.1,511.6 334.6,512 334.1,512.4 333.5,512.8 333,513.1 332.5,513.5 332,513.9 331.4,514.2 330.9,514.6 330.4,514.9 329.8,515.3 329.2,515.7 328.7,516 328.1,516.4 327.5,516.7 327,517.1 326.4,517.4 325.8,517.8 325.5,517.9 325.2,518.1 324.6,518.5 323.9,518.8 323.3,519.2 322.7,519.5 322.1,519.9 321.4,520.2 320.8,520.5 320.1,520.9 319.5,521.2 319.5,521.2 318.8,521.6 318.1,521.9 317.4,522.2 316.8,522.5 316.1,522.9 315.4,523.2 315.1,523.3 314.7,523.5 314,523.9 313.2,524.2 312.5,524.5 311.8,524.8 311.4,525 311.1,525.2 310.3,525.5 309.6,525.8 308.8,526.1 308.1,526.4 308,526.5 307.3,526.7 306.6,527 305.8,527.4 305,527.7 304.8,527.7 304.2,528 303.4,528.3 302.7,528.6 301.9,528.9 301.8,528.9 301.1,529.2 300.3,529.5 299.4,529.8 298.9,530 298.6,530.1 297.8,530.4 297,530.7 296.2,531 296.1,531 295.3,531.3 294.5,531.6 293.6,531.9 293.4,532 292.8,532.2 292,532.5 291.1,532.8 290.8,532.9 290.3,533.1 289.4,533.4 288.5,533.6 288.1,533.8 287.7,533.9 286.8,534.2 285.9,534.5 285.6,534.6 285,534.8 284.2,535.1 283.3,535.4 283.1,535.4 282.4,535.6 281.5,535.9 280.6,536.2 280.5,536.2 279.7,536.5 278.8,536.8 278.1,537 277.9,537 277.1,537.3 276.1,537.6 275.6,537.8 275.2,537.9 274.3,538.2 273.4,538.4 273.2,538.5 272.5,538.7 271.6,539 270.7,539.2 270.7,539.3 269.8,539.5 268.9,539.8 268.3,540 267.9,540.1 267,540.4 266.1,540.6 265.9,540.7 265.2,540.9 264.3,541.2 263.5,541.4 263.3,541.4 262.4,541.7 261.5,542 261.1,542.1 260.5,542.2 259.6,542.5 258.7,542.8 258.7,542.8 257.8,543.1 256.8,543.3 256.3,543.5 255.9,543.6 255,543.9 254,544.1 254,544.1 253.1,544.4 252.1,544.7 251.6,544.8 251.2,544.9 250.3,545.2 249.3,545.5 249.2,545.5 248.4,545.7 247.4,546 246.8,546.2 246.5,546.2 245.6,546.5 244.6,546.8 244.4,546.8 243.7,547 242.7,547.3 242,547.5 241.8,547.6 240.9,547.8 239.9,548.1 239.6,548.2 239,548.4" fill="none" stroke="#e56514" stroke-width="1.5"/>
<polyline points="311.8,565.3 311.8,565.3 311.5,564.8 311.4,564.6 311.2,564.2 311,563.9 310.8,563.6 310.5,563.3 310.3,563 310,562.7 309.7,562.3 309.5,562.1 309,561.7 308.9,561.6 308.2,561.1 308.1,561 307.6,560.6 306.9,560.2 306.9,560.2 306.1,559.8 305.3,559.4 305.1,559.3 304.5,559 303.6,558.7 302.7,558.4 301.7,558.1 300.7,557.9 299.7,557.7 298.7,557.5 297.6,557.3 296.4,557.2 295.4,557.1 295.3,557.1 294.1,557 292.9,556.9 292.3,556.8 291.6,556.8 290.4,556.8 289.8,556.8 289.1,556.7 287.7,556.7 287.6,556.7 286.4,556.8 285.7,556.8 285,556.8 283.8,556.8 283.6,556.8 282.2,556.9 282,556.9 280.7,557 280.3,557 279.2,557.1 278.7,557.1 277.7,557.2 277.1,557.2" fill="none" stroke="#e51414" stroke-width="1.5"/>
<polyline points="381.8,483.7 381.8,484.1 381.8,484.2 381.8,484.7 381.8,484.9 381.8,485.1 381.8,485.6 381.8,485.7 381.8,486.1 381.8,486.5 381.8,486.5 381.8,487 381.8,487.3 381.8,487.5 381.8,488 381.8,488.1 381.8,488.4 381.8,488.9 381.8,488.9 381.8,489.4 381.9,489.7 381.9,489.9 381.9,490.3 381.9,490.5 381.9,490.8 382,491.2 382,491.3 382.1,491.8 382.1,492 382.1,492.3 382.2,492.7 382.2,492.8 382.3,493.2 382.3,493.5 382.4,493.7 382.5,494.2 382.5,494.2 382.6,494.7 382.6,494.9 382.7,495.2 382.8,495.6 382.8,495.7 383,496.2 383,496.3 383.1,496.7 383.2,497 383.3,497.2 383.5,497.7 383.5,497.7 383.7,498.3 383.8,498.3 384,498.8 384.1,498.9 384.2,499.3 384.4,499.6 384.5,499.8 384.7,500.2 384.9,500.4 385.1,500.7 385.2,500.9 385.5,501.3 385.6,501.5 385.9,501.9 386.1,502 386.3,502.4 386.6,502.6 386.8,502.9 387.1,503.2 387.3,503.4 387.8,503.8 387.8,503.9 388.4,504.3 388.6,504.5 389,504.8 389.5,505.1 389.6,505.2 390.2,505.6 390.7,505.8 390.9,506 391.6,506.3 392.3,506.6 392.3,506.7 393.1,507 393.8,507.3 394.6,507.6 395,507.7 395.5,507.8 396.3,508.1 397.2,508.3 398.1,508.5 399,508.7 399.9,508.9 400.9,509 401.9,509.2 402.9,509.3 403.5,509.4 403.9,509.4 405,509.5 406,509.6 407.1,509.7 407.6,509.7 408.2,509.8 409.3,509.8 410.4,509.8 410.6,509.8 411.5,509.9 412.7,509.9 413.2,509.9 413.8,509.9 415,509.9 415.6,509.9 416.2,509.9 417.4,509.9 417.8,509.8 418.6,509.8 419.8,509.8 420,509.8 421,509.7 422,509.7 422.3,509.7 423.5,509.6 423.9,509.6 424.7,509.6 425.8,509.5 426,509.5 427.3,509.4 427.7,509.4 428.5,509.3 429.5,509.3 429.8,509.2 431.1,509.1 431.3,509.1 432.3,509 433,509 433.6,508.9 434.7,508.8 434.9,508.8 436.2,508.7 436.4,508.7 437.5,508.6 438.1,508.5 438.8,508.5 439.7,508.4 440.1,508.3 441.4,508.2 441.4,508.2 442.7,508.1 443,508 444.1,507.9 444.6,507.9 445.4,507.8 446.2,507.7 446.7,507.6 447.8,507.5 448,507.5 449.3,507.3 449.4,507.3 450.7,507.2 450.9,507.2 452,507 452.5,507 453.3,506.9 454.1,506.8 454.6,506.7 455.6,506.6 456,506.6 457.1,506.4 457.3,506.4 458.6,506.2 458.7,506.2 460,506.1 460.2,506 461.3,505.9 461.7,505.8 462.6,505.7 463.2,505.6 464,505.6 464.7,505.5 465.3,505.4 466.3,505.3 466.6,505.2 467.8,505.1 468,505 469.3,504.9 469.3,504.9 470.6,504.7 470.8,504.7 472,504.5 472.3,504.5 473.3,504.3 473.7,504.3 474.6,504.1 475.2,504.1 476,503.9 476.7,503.8 477.3,503.8 478.2,503.6 478.6,503.6 479.7,503.4 480,503.4 481.2,503.2 481.3,503.2 482.6,503 482.6,503" fill="none" stroke="#e51414" stroke-width="1.5"/>
<polygon points="334.3,365.5 324.9,372.3 330.7,368.3 340,361.4" fill="#eafb1a" stroke="#626a0b" stroke-width="0.75" stroke-linejoin="round"/>
<polygon points="343.7,359.5 334.3,365.5 340,361.4 349.4,355.2" fill="#ffc91f" stroke="#6b540d" stroke-width="0.75" stroke-linejoin="round"/>
<polygon points="353.1,354.3 343.7,359.5 349.4,355.2 358.8,349.9" fill="#ff8a25" stroke="#6b3a10" stroke-width="0.75" stroke-linejoin="round"/>
<polygon points="328.5,369.3 319.2,376 324.9,372.3 334.3,365.5" fill="#dff918" stroke="#5e690a" stroke-width="0.75" stroke-linejoin="round"/>
<polygon points="362.6,350 353.1,354.3 358.8,349.9 368.3,345.5" fill="#ff582c" stroke="#6b2513" stroke-width="0.75" stroke-linejoin="round"/>
<polygon points="338,363.5 328.5,369.3 334.3,365.5 343.7,359.5" fill="#ffd51d" stroke="#6b590c" stroke-width="0.75" stroke-linejoin="round"/>
<polygon points="372.2,346.5 362.6,350 368.3,345.5 377.8,341.8" fill="#ff3333" stroke="#6b1616" stroke-width="0.75" stroke-linejoin="round"/>
<polygon points="322.8,372.9 313.4,379.4 319.2,376 328.5,369.3" fill="#d6f816" stroke="#5a6809" stroke-width="0.75" stroke-linejoin="round"/>
<polygon points="347.5,358.5 338,363.5 343.7,359.5 353.1,354.3" fill="#ff9722" stroke="#6b3f0e" stroke-width="0.75" stroke-linejoin="round"/>
<polygon points="381.7,343.7 372.2,346.5 377.8,341.8 387.3,338.9" fill="#ff3a3a" stroke="#6b1818" stroke-width="0.75" stroke-linejoin="round"/>
<polygon points="332.3,367.2 322.8,372.9 328.5,369.3 338,363.5" fill="#ffdf1a" stroke="#6b5e0b" stroke-width="0.75" stroke-linejoin="round"/>
<polygon points="357,354.3 347.5,358.5 353.1,354.3 362.6,350" fill="#ff6428" stroke="#6b2a11" stroke-width="0.75" stroke-linejoin="round"/>
<polygon points="391.3,341.8 381.7,343.7 387.3,338.9 396.8,336.8" fill="#ff4040" stroke="#6b1b1b" stroke-width="0.75" stroke-linejoin="round"/>
<polygon points="317,376.2 307.6,382.6 313.4,379.4 322.8,372.9" fill="#d0f714" stroke="#576808" stroke-width="0.75" stroke-linejoin="round"/>
<polygon points="366.6,350.9 357,354.3 362.6,350 372.2,346.5" fill="#ff3c2f" stroke="#6b1914" stroke-width="0.75" stroke-linejoin="round"/>
<polygon points="341.8,362.3 332.3,367.2 338,363.5 347.5,358.5" fill="#ffa11f" stroke="#6b440d" stroke-width="0.75" stroke-linejoin="round"/>
<polygon points="400.9,340.6 391.3,341.8 396.8,336.8 406.4,335.4" fill="#ff4545" stroke="#6b1d1d" stroke-width="0.75" stroke-linejoin="round"/>
<polygon points="326.6,370.6 317,376.2 322.8,372.9 332.3,367.2" fill="#ffe618" stroke="#6b610a" stroke-width="0.75" stroke-linejoin="round"/>
<polygon points="376.2,348.3 366.6,350.9 372.2,346.5 381.7,343.7" fill="#ff3535" stroke="#6b1616" stroke-width="0.75" stroke-linejoin="round"/>
<polygon points="351.4,358.3 341.8,362.3 347.5,358.5 357,354.3" fill="#ff6e25" stroke="#6b2e10" stroke-width="0.75" stroke-linejoin="round"/>
<polygon points="410.5,340.2 400.9,340.6 406.4,335.4 416,334.8" fill="#ff4848" stroke="#6b1e1e" stroke-width="0.75" stroke-linejoin="round"/>
<polygon points="311.3,379.2 301.8,385.5 307.6,382.6 317,376.2" fill="#ccf612" stroke="#566708" stroke-width="0.75" stroke-linejoin="round"/>
<polygon points="385.8,346.6 376.2,348.3 381.7,343.7 391.3,341.8" fill="#ff3b3b" stroke="#6b1919" stroke-width="0.75" stroke-linejoin="round"/>
<polygon points="336.1,365.9 326.6,370.6 332.3,367.2 341.8,362.3" fill="#ffa91d" stroke="#6b470c" stroke-width="0.75" stroke-linejoin="round"/>
<polygon points="361,355.1 351.4,358.3 357,354.3 366.6,350.9" fill="#ff462b" stroke="#6b1d12" stroke-width="0.75" stroke-linejoin="round"/>
<polygon points="420.2,340.6 410.5,340.2 416,334.8 425.5,335" fill="#ff4848" stroke="#6b1e1e" stroke-width="0.75" stroke-linejoin="round"/>
<polygon points="320.9,373.8 311.3,379.2 317,376.2 326.6,370.6" fill="#ffeb16" stroke="#6b6309" stroke-width="0.75" stroke-linejoin="round"/>
<polygon points="395.5,345.6 385.8,346.6 391.3,341.8 400.9,340.6" fill="#ff3f3f" stroke="#6b1a1a" stroke-width="0.75" stroke-linejoin="round"/>
<polygon points="345.8,362 336.1,365.9 341.8,362.3 351.4,358.3" fill="#ff7622" stroke="#6b320e" stroke-width="0.75" stroke-linejoin="round"/>
<polygon points="370.6,352.6 361,355.1 366.6,350.9 376.2,348.3" fill="#ff3030" stroke="#6b1414" stroke-width="0.75" stroke-linejoin="round"/>
<polygon points="429.8,341.7 420.2,340.6 425.5,335 435.1,335.9" fill="#ff4646" stroke="#6b1d1d" stroke-width="0.75" stroke-linejoin="round"/>
<polygon points="305.5,382 296,388.2 301.8,385.5 311.3,379.2" fill="#caf611" stroke="#556707" stroke-width="0.75" stroke-linejoin="round"/>
<polygon points="405.1,345.3 395.5,345.6 400.9,340.6 410.5,340.2" fill="#ff4141" stroke="#6b1b1b" stroke-width="0.75" stroke-linejoin="round"/>
<polygon points="330.5,369.2 320.9,373.8 326.6,370.6 336.1,365.9" fill="#ffae1a" stroke="#6b490b" stroke-width="0.75" stroke-linejoin="round"/>
<polygon points="380.3,351 370.6,352.6 376.2,348.3 385.8,346.6" fill="#ff3535" stroke="#6b1616" stroke-width="0.75" stroke-linejoin="round"/>
<polygon points="355.4,358.9 345.8,362 351.4,358.3 361,355.1" fill="#ff4e27" stroke="#6b2110" stroke-width="0.75" stroke-linejoin="round"/>
<polygon points="439.3,343.5 429.8,341.7 435.1,335.9 444.6,337.5" fill="#ff4242" stroke="#6b1c1c" stroke-width="0.75" stroke-linejoin="round"/>
<polygon points="315.1,376.7 305.5,382 311.3,379.2 320.9,373.8" fill="#ffed14" stroke="#6b6408" stroke-width="0.75" stroke-linejoin="round"/>
<polygon points="414.8,345.9 405.1,345.3 410.5,340.2 420.2,340.6" fill="#ff4141" stroke="#6b1b1b" stroke-width="0.75" stroke-linejoin="round"/>
<polygon points="340.1,365.5 330.5,369.2 336.1,365.9 345.8,362" fill="#ff7c1f" stroke="#6b340d" stroke-width="0.75" stroke-linejoin="round"/>
<polygon points="390,350.2 380.3,351 385.8,346.6 395.5,345.6" fill="#ff3939" stroke="#6b1818" stroke-width="0.75" stroke-linejoin="round"/>
<polygon points="365.1,356.7 355.4,358.9 361,355.1 370.6,352.6" fill="#ff2f2c" stroke="#6b1412" stroke-width="0.75" stroke-linejoin="round"/>
<polygon points="448.9,346.1 439.3,343.5 444.6,337.5 454.2,339.8" fill="#ff3d3d" stroke="#6b1a1a" stroke-width="0.75" stroke-linejoin="round"/>
<polygon points="299.8,384.6 290.2,390.6 296,388.2 305.5,382" fill="#cbf60f" stroke="#556706" stroke-width="0.75" stroke-linejoin="round"/>
<polygon points="424.4,347.2 414.8,345.9 420.2,340.6 429.8,341.7" fill="#ff3f3f" stroke="#6b1a1a" stroke-width="0.75" stroke-linejoin="round"/>
<polygon points="324.8,372.3 315.1,376.7 320.9,373.8 330.5,369.2" fill="#ffb118" stroke="#6b4b0a" stroke-width="0.75" stroke-linejoin="round"/>
<polygon points="399.7,350.2 390,350.2 395.5,345.6 405.1,345.3" fill="#ff3a3a" stroke="#6b1818" stroke-width="0.75" stroke-linejoin="round"/>
<polygon points="349.8,362.6 340.1,365.5 345.8,362 355.4,358.9" fill="#ff5423" stroke="#6b230f" stroke-width="0.75" stroke-linejoin="round"/>
<polygon points="374.8,355.2 365.1,356.7 370.6,352.6 380.3,351" fill="#ff3030" stroke="#6b1414" stroke-width="0.75" stroke-linejoin="round"/>
<polygon points="458.4,349.3 448.9,346.1 454.2,339.8 463.7,342.9" fill="#ff3737" stroke="#6b1717" stroke-width="0.75" stroke-linejoin="round"/>
<polygon points="309.4,379.5 299.8,384.6 305.5,382 315.1,376.7" fill="#ffee12" stroke="#6b6408" stroke-width="0.75" stroke-linejoin="round"/>
<polygon points="434,349.2 424.4,347.2 429.8,341.7 439.3,343.5" fill="#ff3b3b" stroke="#6b1919" stroke-width="0.75" stroke-linejoin="round"/>
<polygon points="334.5,368.7 324.8,372.3 330.5,369.2 340.1,365.5" fill="#ff801c" stroke="#6b360c" stroke-width="0.75" stroke-linejoin="round"/>
<polygon points="409.4,350.9 399.7,350.2 405.1,345.3 414.8,345.9" fill="#ff3a3a" stroke="#6b1818" stroke-width="0.75" stroke-linejoin="round"/>
<polygon points="359.6,360.5 349.8,362.6 355.4,358.9 365.1,356.7" fill="#ff3528" stroke="#6b1611" stroke-width="0.75" stroke-linejoin="round"/>
<polygon points="384.6,354.6 374.8,355.2 380.3,351 390,350.2" fill="#ff3333" stroke="#6b1515" stroke-width="0.75" stroke-linejoin="round"/>
<polygon points="467.9,353.3 458.4,349.3 463.7,342.9 473.1,346.6" fill="#ff3131" stroke="#6b1515" stroke-width="0.75" stroke-linejoin="round"/>
<polygon points="294,387 284.4,392.9 290.2,390.6 299.8,384.6" fill="#cef60e" stroke="#576706" stroke-width="0.75" stroke-linejoin="round"/>
<polygon points="443.7,352 434,349.2 439.3,343.5 448.9,346.1" fill="#ff3636" stroke="#6b1717" stroke-width="0.75" stroke-linejoin="round"/>
<polygon points="319.1,375.1 309.4,379.5 315.1,376.7 324.8,372.3" fill="#ffb316" stroke="#6b4b09" stroke-width="0.75" stroke-linejoin="round"/>
<polygon points="419.1,352.4 409.4,350.9 414.8,345.9 424.4,347.2" fill="#ff3838" stroke="#6b1717" stroke-width="0.75" stroke-linejoin="round"/>
<polygon points="344.3,365.9 334.5,368.7 340.1,365.5 349.8,362.6" fill="#ff5820" stroke="#6b250d" stroke-width="0.75" stroke-linejoin="round"/>
<polygon points="394.3,354.7 384.6,354.6 390,350.2 399.7,350.2" fill="#ff3434" stroke="#6b1616" stroke-width="0.75" stroke-linejoin="round"/>
<polygon points="369.3,359.2 359.6,360.5 365.1,356.7 374.8,355.2" fill="#ff2b2b" stroke="#6b1212" stroke-width="0.75" stroke-linejoin="round"/>
<polygon points="477.4,357.9 467.9,353.3 473.1,346.6 482.6,351.1" fill="#ff2b2b" stroke="#6b1212" stroke-width="0.75" stroke-linejoin="round"/>
<polygon points="303.7,381.9 294,387 299.8,384.6 309.4,379.5" fill="#ffec11" stroke="#6b6307" stroke-width="0.75" stroke-linejoin="round"/>
<polygon points="453.2,355.4 443.7,352 448.9,346.1 458.4,349.3" fill="#ff3030" stroke="#6b1414" stroke-width="0.75" stroke-linejoin="round"/>
<polygon points="328.9,371.7 319.1,375.1 324.8,372.3 334.5,368.7" fill="#ff8219" stroke="#6b370b" stroke-width="0.75" stroke-linejoin="round"/>
<polygon points="428.8,354.6 419.1,352.4 424.4,347.2 434,349.2" fill="#ff3434" stroke="#6b1616" stroke-width="0.75" stroke-linejoin="round"/>
<polygon points="354,364 344.3,365.9 349.8,362.6 359.6,360.5" fill="#ff3924" stroke="#6b180f" stroke-width="0.75" stroke-linejoin="round"/>
<polygon points="404.1,355.7 394.3,354.7 399.7,350.2 409.4,350.9" fill="#ff3333" stroke="#6b1616" stroke-width="0.75" stroke-linejoin="round"/>
<polygon points="379.1,358.7 369.3,359.2 374.8,355.2 384.6,354.6" fill="#ff2d2d" stroke="#6b1313" stroke-width="0.75" stroke-linejoin="round"/>
<polygon points="486.8,363.3 477.4,357.9 482.6,351.1 491.9,356.1" fill="#ff2525" stroke="#6b1010" stroke-width="0.75" stroke-linejoin="round"/>
<polygon points="288.2,389.1 278.6,394.9 284.4,392.9 294,387" fill="#d3f70d" stroke="#596805" stroke-width="0.75" stroke-linejoin="round"/>
<polygon points="462.8,359.6 453.2,355.4 458.4,349.3 467.9,353.3" fill="#ff2b2b" stroke="#6b1212" stroke-width="0.75" stroke-linejoin="round"/>
<polygon points="313.5,377.8 303.7,381.9 309.4,379.5 319.1,375.1" fill="#ffb214" stroke="#6b4b08" stroke-width="0.75" stroke-linejoin="round"/>
<polygon points="438.4,357.6 428.8,354.6 434,349.2 443.7,352" fill="#ff2f2f" stroke="#6b1414" stroke-width="0.75" stroke-linejoin="round"/>
<polygon points="338.7,369.1 328.9,371.7 334.5,368.7 344.3,365.9" fill="#ff5b1d" stroke="#6b260c" stroke-width="0.75" stroke-linejoin="round"/>
<polygon points="413.8,357.3 404.1,355.7 409.4,350.9 419.1,352.4" fill="#ff3131" stroke="#6b1515" stroke-width="0.75" stroke-linejoin="round"/>
<polygon points="363.9,362.9 354,364 359.6,360.5 369.3,359.2" fill="#ff2626" stroke="#6b1010" stroke-width="0.75" stroke-linejoin="round"/>
<polygon points="388.9,359 379.1,358.7 384.6,354.6 394.3,354.7" fill="#ff2e2e" stroke="#6b1313" stroke-width="0.75" stroke-linejoin="round"/>
<polygon points="496.2,369.2 486.8,363.3 491.9,356.1 501.3,361.9" fill="#ff2020" stroke="#6b0e0e" stroke-width="0.75" stroke-linejoin="round"/>
<polygon points="298,384.2 288.2,389.1 294,387 303.7,381.9" fill="#ffe70f" stroke="#6b6106" stroke-width="0.75" stroke-linejoin="round"/>
<polygon points="472.3,364.5 462.8,359.6 467.9,353.3 477.4,357.9" fill="#ff2525" stroke="#6b1010" stroke-width="0.75" stroke-linejoin="round"/>
<polygon points="323.3,374.5 313.5,377.8 319.1,375.1 328.9,371.7" fill="#ff8217" stroke="#6b360a" stroke-width="0.75" stroke-linejoin="round"/>
<polygon points="448.1,361.3 438.4,357.6 443.7,352 453.2,355.4" fill="#ff2a2a" stroke="#6b1212" stroke-width="0.75" stroke-linejoin="round"/>
<polygon points="348.5,367.3 338.7,369.1 344.3,365.9 354,364" fill="#ff3c20" stroke="#6b190d" stroke-width="0.75" stroke-linejoin="round"/>
<polygon points="423.5,359.8 413.8,357.3 419.1,352.4 428.8,354.6" fill="#ff2d2d" stroke="#6b1313" stroke-width="0.75" stroke-linejoin="round"/>
<polygon points="373.7,362.6 363.9,362.9 369.3,359.2 379.1,358.7" fill="#ff2828" stroke="#6b1111" stroke-width="0.75" stroke-linejoin="round"/>
<polygon points="398.7,360.1 388.9,359 394.3,354.7 404.1,355.7" fill="#ff2d2d" stroke="#6b1313" stroke-width="0.75" stroke-linejoin="round"/>
<polygon points="505.5,375.9 496.2,369.2 501.3,361.9 510.5,368.3" fill="#ff491c" stroke="#6b1f0c" stroke-width="0.75" stroke-linejoin="round"/>
<polygon points="282.5,391.1 272.7,396.7 278.6,394.9 288.2,389.1" fill="#dbf90c" stroke="#5c6805" stroke-width="0.75" stroke-linejoin="round"/>
<polygon points="481.8,370.1 472.3,364.5 477.4,357.9 486.8,363.3" fill="#ff2020" stroke="#6b0e0e" stroke-width="0.75" stroke-linejoin="round"/>
<polygon points="307.8,380.2 298,384.2 303.7,381.9 313.5,377.8" fill="#ffaf12" stroke="#6b4908" stroke-width="0.75" stroke-linejoin="round"/>
<polygon points="457.6,365.7 448.1,361.3 453.2,355.4 462.8,359.6" fill="#ff2525" stroke="#6b1010" stroke-width="0.75" stroke-linejoin="round"/>
<polygon points="333.1,372 323.3,374.5 328.9,371.7 338.7,369.1" fill="#ff5b1a" stroke="#6b260b" stroke-width="0.75" stroke-linejoin="round"/>
<polygon points="433.2,362.9 423.5,359.8 428.8,354.6 438.4,357.6" fill="#ff2929" stroke="#6b1111" stroke-width="0.75" stroke-linejoin="round"/>
<polygon points="358.4,366.3 348.5,367.3 354,364 363.9,362.9" fill="#ff2522" stroke="#6b100e" stroke-width="0.75" stroke-linejoin="round"/>
<polygon points="408.5,362 398.7,360.1 404.1,355.7 413.8,357.3" fill="#ff2b2b" stroke="#6b1212" stroke-width="0.75" stroke-linejoin="round"/>
<polygon points="383.5,363.1 373.7,362.6 379.1,358.7 388.9,359" fill="#ff2929" stroke="#6b1111" stroke-width="0.75" stroke-linejoin="round"/>
<polygon points="514.8,383.1 505.5,375.9 510.5,368.3 519.7,375.3" fill="#ff7918" stroke="#6b330a" stroke-width="0.75" stroke-linejoin="round"/>
<polygon points="292.2,386.3 282.5,391.1 288.2,389.1 298,384.2" fill="#ffe10e" stroke="#6b5f06" stroke-width="0.75" stroke-linejoin="round"/>
<polygon points="491.2,376.3 481.8,370.1 486.8,363.3 496.2,369.2" fill="#ff421c" stroke="#6b1c0c" stroke-width="0.75" stroke-linejoin="round"/>
<polygon points="317.6,377 307.8,380.2 313.5,377.8 323.3,374.5" fill="#ff7f15" stroke="#6b3609" stroke-width="0.75" stroke-linejoin="round"/>
<polygon points="467.2,370.8 457.6,365.7 462.8,359.6 472.3,364.5" fill="#ff2020" stroke="#6b0d0d" stroke-width="0.75" stroke-linejoin="round"/>
<polygon points="343,370.4 333.1,372 338.7,369.1 348.5,367.3" fill="#ff3d1d" stroke="#6b1a0c" stroke-width="0.75" stroke-linejoin="round"/>
<polygon points="442.9,366.8 433.2,362.9 438.4,357.6 448.1,361.3" fill="#ff2424" stroke="#6b0f0f" stroke-width="0.75" stroke-linejoin="round"/>
<polygon points="368.3,366.2 358.4,366.3 363.9,362.9 373.7,362.6" fill="#ff2424" stroke="#6b0f0f" stroke-width="0.75" stroke-linejoin="round"/>
<polygon points="418.3,364.6 408.5,362 413.8,357.3 423.5,359.8" fill="#ff2828" stroke="#6b1111" stroke-width="0.75" stroke-linejoin="round"/>
<polygon points="393.4,364.4 383.5,363.1 388.9,359 398.7,360.1" fill="#ff2828" stroke="#6b1111" stroke-width="0.75" stroke-linejoin="round"/>
<polygon points="276.7,392.8 266.9,398.4 272.7,396.7 282.5,391.1" fill="#e4fa0b" stroke="#606905" stroke-width="0.75" stroke-linejoin="round"/>
<polygon points="500.5,383.2 491.2,376.3 496.2,369.2 505.5,375.9" fill="#ff6e18" stroke="#6b2e0a" stroke-width="0.75" stroke-linejoin="round"/>
<polygon points="302.1,382.4 292.2,386.3 298,384.2 307.8,380.2" fill="#ffaa10" stroke="#6b4707" stroke-width="0.75" stroke-linejoin="round"/>
<polygon points="476.7,376.6 467.2,370.8 472.3,364.5 481.8,370.1" fill="#ff3a1c" stroke="#6b180c" stroke-width="0.75" stroke-linejoin="round"/>
<polygon points="327.5,374.7 317.6,377 323.3,374.5 333.1,372" fill="#ff5a17" stroke="#6b260a" stroke-width="0.75" stroke-linejoin="round"/>
<polygon points="452.5,371.5 442.9,366.8 448.1,361.3 457.6,365.7" fill="#ff2020" stroke="#6b0d0d" stroke-width="0.75" stroke-linejoin="round"/>
<polygon points="352.9,369.6 343,370.4 348.5,367.3 358.4,366.3" fill="#ff271e" stroke="#6b100d" stroke-width="0.75" stroke-linejoin="round"/>
<polygon points="428,368 418.3,364.6 423.5,359.8 433.2,362.9" fill="#ff2424" stroke="#6b0f0f" stroke-width="0.75" stroke-linejoin="round"/>
<polygon points="378.1,366.9 368.3,366.2 373.7,362.6 383.5,363.1" fill="#ff2424" stroke="#6b0f0f" stroke-width="0.75" stroke-linejoin="round"/>
<polygon points="403.2,366.4 393.4,364.4 398.7,360.1 408.5,362" fill="#ff2525" stroke="#6b1010" stroke-width="0.75" stroke-linejoin="round"/>
<polygon points="286.5,388.2 276.7,392.8 282.5,391.1 292.2,386.3" fill="#ffda0d" stroke="#6b5b05" stroke-width="0.75" stroke-linejoin="round"/>
<polygon points="509.8,390.7 500.5,383.2 505.5,375.9 514.8,383.1" fill="#ffa114" stroke="#6b4409" stroke-width="0.75" stroke-linejoin="round"/>
<polygon points="312,379.3 302.1,382.4 307.8,380.2 317.6,377" fill="#ff7b13" stroke="#6b3408" stroke-width="0.75" stroke-linejoin="round"/>
<polygon points="486.2,383.1 476.7,376.6 481.8,370.1 491.2,376.3" fill="#ff6218" stroke="#6b290a" stroke-width="0.75" stroke-linejoin="round"/>
<polygon points="337.5,373.2 327.5,374.7 333.1,372 343,370.4" fill="#ff3c1a" stroke="#6b190b" stroke-width="0.75" stroke-linejoin="round"/>
<polygon points="462.1,376.8 452.5,371.5 457.6,365.7 467.2,370.8" fill="#ff321b" stroke="#6b150b" stroke-width="0.75" stroke-linejoin="round"/>
<polygon points="362.8,369.6 352.9,369.6 358.4,366.3 368.3,366.2" fill="#ff1f1f" stroke="#6b0d0d" stroke-width="0.75" stroke-linejoin="round"/>
<polygon points="437.7,372.1 428,368 433.2,362.9 442.9,366.8" fill="#ff1f1f" stroke="#6b0d0d" stroke-width="0.75" stroke-linejoin="round"/>
<polygon points="388,368.3 378.1,366.9 383.5,363.1 393.4,364.4" fill="#ff2323" stroke="#6b0f0f" stroke-width="0.75" stroke-linejoin="round"/>
<polygon points="413,369.2 403.2,366.4 408.5,362 418.3,364.6" fill="#ff2222" stroke="#6b0e0e" stroke-width="0.75" stroke-linejoin="round"/>
<polygon points="270.9,394.4 261.1,399.9 266.9,398.4 276.7,392.8" fill="#eefc0a" stroke="#646a04" stroke-width="0.75" stroke-linejoin="round"/>
<polygon points="296.4,384.4 286.5,388.2 292.2,386.3 302.1,382.4" fill="#ffa30f" stroke="#6b4406" stroke-width="0.75" stroke-linejoin="round"/>
<polygon points="495.6,390.2 486.2,383.1 491.2,376.3 500.5,383.2" fill="#ff9114" stroke="#6b3d08" stroke-width="0.75" stroke-linejoin="round"/>
<polygon points="321.9,377.1 312,379.3 317.6,377 327.5,374.7" fill="#ff5615" stroke="#6b2409" stroke-width="0.75" stroke-linejoin="round"/>
<polygon points="471.7,382.8 462.1,376.8 467.2,370.8 476.7,376.6" fill="#ff5517" stroke="#6b240a" stroke-width="0.75" stroke-linejoin="round"/>
<polygon points="347.4,372.5 337.5,373.2 343,370.4 352.9,369.6" fill="#ff271b" stroke="#6b100b" stroke-width="0.75" stroke-linejoin="round"/>
<polygon points="447.4,377 437.7,372.1 442.9,366.8 452.5,371.5" fill="#ff2b1b" stroke="#6b120b" stroke-width="0.75" stroke-linejoin="round"/>
<polygon points="372.8,370.4 362.8,369.6 368.3,366.2 378.1,366.9" fill="#ff1f1f" stroke="#6b0d0d" stroke-width="0.75" stroke-linejoin="round"/>
<polygon points="422.8,372.8 413,369.2 418.3,364.6 428,368" fill="#ff1e1e" stroke="#6b0d0d" stroke-width="0.75" stroke-linejoin="round"/>
<polygon points="397.9,370.6 388,368.3 393.4,364.4 403.2,366.4" fill="#ff2020" stroke="#6b0e0e" stroke-width="0.75" stroke-linejoin="round"/>
<polygon points="280.7,389.8 270.9,394.4 276.7,392.8 286.5,388.2" fill="#ffd00c" stroke="#6b5705" stroke-width="0.75" stroke-linejoin="round"/>
<polygon points="306.3,381.5 296.4,384.4 302.1,382.4 312,379.3" fill="#ff7611" stroke="#6b3107" stroke-width="0.75" stroke-linejoin="round"/>
<polygon points="504.9,398 495.6,390.2 500.5,383.2 509.8,390.7" fill="#ffc711" stroke="#6b5407" stroke-width="0.75" stroke-linejoin="round"/>
<polygon points="331.9,375.8 321.9,377.1 327.5,374.7 337.5,373.2" fill="#ff3a17" stroke="#6b180a" stroke-width="0.75" stroke-linejoin="round"/>
<polygon points="481.2,389.5 471.7,382.8 476.7,376.6 486.2,383.1" fill="#ff8014" stroke="#6b3608" stroke-width="0.75" stroke-linejoin="round"/>
<polygon points="357.4,372.7 347.4,372.5 352.9,369.6 362.8,369.6" fill="#ff1c1c" stroke="#6b0c0c" stroke-width="0.75" stroke-linejoin="round"/>
<polygon points="457.1,382.5 447.4,377 452.5,371.5 462.1,376.8" fill="#ff4917" stroke="#6b1f0a" stroke-width="0.75" stroke-linejoin="round"/>
<polygon points="265,395.8 255.2,401.1 261.1,399.9 270.9,394.4" fill="#fbfe09" stroke="#696b04" stroke-width="0.75" stroke-linejoin="round"/>
<polygon points="382.7,372 372.8,370.4 378.1,366.9 388,368.3" fill="#ff1e1e" stroke="#6b0d0d" stroke-width="0.75" stroke-linejoin="round"/>
<polygon points="432.6,377.1 422.8,372.8 428,368 437.7,372.1" fill="#ff231b" stroke="#6b0f0b" stroke-width="0.75" stroke-linejoin="round"/>
<polygon points="407.8,373.6 397.9,370.6 403.2,366.4 413,369.2" fill="#ff1d1d" stroke="#6b0c0c" stroke-width="0.75" stroke-linejoin="round"/>
<polygon points="290.7,386.2 280.7,389.8 286.5,388.2 296.4,384.4" fill="#ff9a0e" stroke="#6b4106" stroke-width="0.75" stroke-linejoin="round"/>
<polygon points="316.3,379.4 306.3,381.5 312,379.3 321.9,377.1" fill="#ff5113" stroke="#6b2208" stroke-width="0.75" stroke-linejoin="round"/>
<polygon points="490.6,396.9 481.2,389.5 486.2,383.1 495.6,390.2" fill="#ffb211" stroke="#6b4b07" stroke-width="0.75" stroke-linejoin="round"/>
<polygon points="341.9,375.3 331.9,375.8 337.5,373.2 347.4,372.5" fill="#ff2518" stroke="#6b0f0a" stroke-width="0.75" stroke-linejoin="round"/>
<polygon points="466.7,388.8 457.1,382.5 462.1,376.8 471.7,382.8" fill="#ff6f14" stroke="#6b2f08" stroke-width="0.75" stroke-linejoin="round"/>
<polygon points="367.4,373.7 357.4,372.7 362.8,369.6 372.8,370.4" fill="#ff1b1b" stroke="#6b0b0b" stroke-width="0.75" stroke-linejoin="round"/>
<polygon points="442.3,382.2 432.6,377.1 437.7,372.1 447.4,377" fill="#ff3d17" stroke="#6b190a" stroke-width="0.75" stroke-linejoin="round"/>
<polygon points="392.7,374.5 382.7,372 388,368.3 397.9,370.6" fill="#ff1c1c" stroke="#6b0c0c" stroke-width="0.75" stroke-linejoin="round"/>
<polygon points="417.7,377.4 407.8,373.6 413,369.2 422.8,372.8" fill="#ff1c1a" stroke="#6b0c0b" stroke-width="0.75" stroke-linejoin="round"/>
<polygon points="275,391.4 265,395.8 270.9,394.4 280.7,389.8" fill="#ffc50b" stroke="#6b5305" stroke-width="0.75" stroke-linejoin="round"/>
<polygon points="300.7,383.4 290.7,386.2 296.4,384.4 306.3,381.5" fill="#ff6e0f" stroke="#6b2e06" stroke-width="0.75" stroke-linejoin="round"/>
<polygon points="326.4,378.2 316.3,379.4 321.9,377.1 331.9,375.8" fill="#ff3614" stroke="#6b1709" stroke-width="0.75" stroke-linejoin="round"/>
<polygon points="500,404.9 490.6,396.9 495.6,390.2 504.9,398" fill="#ffeb0f" stroke="#6b6306" stroke-width="0.75" stroke-linejoin="round"/>
<polygon points="259.2,397.1 249.3,402.3 255.2,401.1 265,395.8" fill="#fff509" stroke="#6b6704" stroke-width="0.75" stroke-linejoin="round"/>
<polygon points="352,375.7 341.9,375.3 347.4,372.5 357.4,372.7" fill="#ff1818" stroke="#6b0a0a" stroke-width="0.75" stroke-linejoin="round"/>
<polygon points="476.2,395.7 466.7,388.8 471.7,382.8 481.2,389.5" fill="#ff9c11" stroke="#6b4207" stroke-width="0.75" stroke-linejoin="round"/>
<polygon points="377.4,375.5 367.4,373.7 372.8,370.4 382.7,372" fill="#ff1a1a" stroke="#6b0b0b" stroke-width="0.75" stroke-linejoin="round"/>
<polygon points="452,388 442.3,382.2 447.4,377 457.1,382.5" fill="#ff5e14" stroke="#6b2708" stroke-width="0.75" stroke-linejoin="round"/>
<polygon points="402.6,377.7 392.7,374.5 397.9,370.6 407.8,373.6" fill="#ff1919" stroke="#6b0b0b" stroke-width="0.75" stroke-linejoin="round"/>
<polygon points="427.5,381.9 417.7,377.4 422.8,372.8 432.6,377.1" fill="#ff3117" stroke="#6b150a" stroke-width="0.75" stroke-linejoin="round"/>
<polygon points="285,387.8 275,391.4 280.7,389.8 290.7,386.2" fill="#ff900d" stroke="#6b3d05" stroke-width="0.75" stroke-linejoin="round"/>
<polygon points="310.8,381.5 300.7,383.4 306.3,381.5 316.3,379.4" fill="#ff4b11" stroke="#6b1f07" stroke-width="0.75" stroke-linejoin="round"/>
<polygon points="336.5,377.9 326.4,378.2 331.9,375.8 341.9,375.3" fill="#ff2215" stroke="#6b0e09" stroke-width="0.75" stroke-linejoin="round"/>
<polygon points="485.7,403.3 476.2,395.7 481.2,389.5 490.6,396.9" fill="#ffd10e" stroke="#6b5806" stroke-width="0.75" stroke-linejoin="round"/>
<polygon points="362,376.8 352,375.7 357.4,372.7 367.4,373.7" fill="#ff1818" stroke="#6b0a0a" stroke-width="0.75" stroke-linejoin="round"/>
<polygon points="269.2,392.7 259.2,397.1 265,395.8 275,391.4" fill="#ffb80a" stroke="#6b4d04" stroke-width="0.75" stroke-linejoin="round"/>
<polygon points="461.7,394.4 452,388 457.1,382.5 466.7,388.8" fill="#ff8611" stroke="#6b3807" stroke-width="0.75" stroke-linejoin="round"/>
<polygon points="387.4,378.1 377.4,375.5 382.7,372 392.7,374.5" fill="#ff1818" stroke="#6b0a0a" stroke-width="0.75" stroke-linejoin="round"/>
<polygon points="437.3,387.1 427.5,381.9 432.6,377.1 442.3,382.2" fill="#ff4d13" stroke="#6b2008" stroke-width="0.75" stroke-linejoin="round"/>
<polygon points="412.5,381.7 402.6,377.7 407.8,373.6 417.7,377.4" fill="#ff2616" stroke="#6b1009" stroke-width="0.75" stroke-linejoin="round"/>
<polygon points="295,385.2 285,387.8 290.7,386.2 300.7,383.4" fill="#ff650e" stroke="#6b2a06" stroke-width="0.75" stroke-linejoin="round"/>
<polygon points="320.8,380.4 310.8,381.5 316.3,379.4 326.4,378.2" fill="#ff3012" stroke="#6b1408" stroke-width="0.75" stroke-linejoin="round"/>
<polygon points="253.4,398.2 243.4,403.3 249.3,402.3 259.2,397.1" fill="#ffe608" stroke="#6b6103" stroke-width="0.75" stroke-linejoin="round"/>
<polygon points="346.5,378.4 336.5,377.9 341.9,375.3 352,375.7" fill="#ff1616" stroke="#6b0909" stroke-width="0.75" stroke-linejoin="round"/>
<polygon points="495.2,411.6 485.7,403.3 490.6,396.9 500,404.9" fill="#f1fd0c" stroke="#656a05" stroke-width="0.75" stroke-linejoin="round"/>
<polygon points="372.1,378.8 362,376.8 367.4,373.7 377.4,375.5" fill="#ff1717" stroke="#6b0909" stroke-width="0.75" stroke-linejoin="round"/>
<polygon points="471.3,401.6 461.7,394.4 466.7,388.8 476.2,395.7" fill="#ffb70e" stroke="#6b4d06" stroke-width="0.75" stroke-linejoin="round"/>
<polygon points="279.3,389.3 269.2,392.7 275,391.4 285,387.8" fill="#ff840c" stroke="#6b3805" stroke-width="0.75" stroke-linejoin="round"/>
<polygon points="397.4,381.5 387.4,378.1 392.7,374.5 402.6,377.7" fill="#ff1d16" stroke="#6b0c09" stroke-width="0.75" stroke-linejoin="round"/>
<polygon points="447,393.1 437.3,387.1 442.3,382.2 452,388" fill="#ff7110" stroke="#6b2f07" stroke-width="0.75" stroke-linejoin="round"/>
<polygon points="422.4,386.4 412.5,381.7 417.7,377.4 427.5,381.9" fill="#ff3d13" stroke="#6b1a08" stroke-width="0.75" stroke-linejoin="round"/>
<polygon points="305.1,383.4 295,385.2 300.7,383.4 310.8,381.5" fill="#ff4310" stroke="#6b1c07" stroke-width="0.75" stroke-linejoin="round"/>
<polygon points="331,380.2 320.8,380.4 326.4,378.2 336.5,377.9" fill="#ff1d13" stroke="#6b0c08" stroke-width="0.75" stroke-linejoin="round"/>
<polygon points="263.4,393.9 253.4,398.2 259.2,397.1 269.2,392.7" fill="#ffaa09" stroke="#6b4704" stroke-width="0.75" stroke-linejoin="round"/>
<polygon points="356.7,379.7 346.5,378.4 352,375.7 362,376.8" fill="#ff1515" stroke="#6b0909" stroke-width="0.75" stroke-linejoin="round"/>
<polygon points="480.8,409.5 471.3,401.6 476.2,395.7 485.7,403.3" fill="#ffee0c" stroke="#6b6405" stroke-width="0.75" stroke-linejoin="round"/>
<polygon points="382.1,381.6 372.1,378.8 377.4,375.5 387.4,378.1" fill="#ff1515" stroke="#6b0909" stroke-width="0.75" stroke-linejoin="round"/>
<polygon points="456.7,399.8 447,393.1 452,388 461.7,394.4" fill="#ff9c0e" stroke="#6b4206" stroke-width="0.75" stroke-linejoin="round"/>
<polygon points="407.3,385.7 397.4,381.5 402.6,377.7 412.5,381.7" fill="#ff2f13" stroke="#6b1408" stroke-width="0.75" stroke-linejoin="round"/>
<polygon points="432.2,391.9 422.4,386.4 427.5,381.9 437.3,387.1" fill="#ff5c10" stroke="#6b2707" stroke-width="0.75" stroke-linejoin="round"/>
<polygon points="289.4,386.8 279.3,389.3 285,387.8 295,385.2" fill="#ff5a0d" stroke="#6b2605" stroke-width="0.75" stroke-linejoin="round"/>
<polygon points="247.5,399.1 237.5,404.2 243.4,403.3 253.4,398.2" fill="#ffd608" stroke="#6b5a03" stroke-width="0.75" stroke-linejoin="round"/>
<polygon points="315.3,382.5 305.1,383.4 310.8,381.5 320.8,380.4" fill="#ff2910" stroke="#6b1107" stroke-width="0.75" stroke-linejoin="round"/>
<polygon points="341.1,380.9 331,380.2 336.5,377.9 346.5,378.4" fill="#ff1313" stroke="#6b0808" stroke-width="0.75" stroke-linejoin="round"/>
<polygon points="273.5,390.6 263.4,393.9 269.2,392.7 279.3,389.3" fill="#ff780b" stroke="#6b3205" stroke-width="0.75" stroke-linejoin="round"/>
<polygon points="366.8,381.9 356.7,379.7 362,376.8 372.1,378.8" fill="#ff1414" stroke="#6b0808" stroke-width="0.75" stroke-linejoin="round"/>
<polygon points="490.3,418 480.8,409.5 485.7,403.3 495.2,411.6" fill="#d2f70a" stroke="#586804" stroke-width="0.75" stroke-linejoin="round"/>
<polygon points="392.2,385.2 382.1,381.6 387.4,378.1 397.4,381.5" fill="#ff2212" stroke="#6b0e08" stroke-width="0.75" stroke-linejoin="round"/>
<polygon points="466.4,407.3 456.7,399.8 461.7,394.4 471.3,401.6" fill="#ffce0c" stroke="#6b5705" stroke-width="0.75" stroke-linejoin="round"/>
<polygon points="417.3,390.6 407.3,385.7 412.5,381.7 422.4,386.4" fill="#ff4810" stroke="#6b1e07" stroke-width="0.75" stroke-linejoin="round"/>
<polygon points="442,398.1 432.2,391.9 437.3,387.1 447,393.1" fill="#ff820e" stroke="#6b3706" stroke-width="0.75" stroke-linejoin="round"/>
<polygon points="299.5,385.1 289.4,386.8 295,385.2 305.1,383.4" fill="#ff390e" stroke="#6b1806" stroke-width="0.75" stroke-linejoin="round"/>
<polygon points="325.5,382.4 315.3,382.5 320.8,380.4 331,380.2" fill="#ff1611" stroke="#6b0907" stroke-width="0.75" stroke-linejoin="round"/>
<polygon points="257.6,395 247.5,399.1 253.4,398.2 263.4,393.9" fill="#ff9b09" stroke="#6b4104" stroke-width="0.75" stroke-linejoin="round"/>
<polygon points="351.3,382.4 341.1,380.9 346.5,378.4 356.7,379.7" fill="#ff1212" stroke="#6b0808" stroke-width="0.75" stroke-linejoin="round"/>
<polygon points="376.9,384.8 366.8,381.9 372.1,378.8 382.1,381.6" fill="#ff1712" stroke="#6b0907" stroke-width="0.75" stroke-linejoin="round"/>
<polygon points="283.7,388.2 273.5,390.6 279.3,389.3 289.4,386.8" fill="#ff4e0c" stroke="#6b2105" stroke-width="0.75" stroke-linejoin="round"/>
<polygon points="476,415.4 466.4,407.3 471.3,401.6 480.8,409.5" fill="#f6fd0a" stroke="#676a04" stroke-width="0.75" stroke-linejoin="round"/>
<polygon points="402.2,389.5 392.2,385.2 397.4,381.5 407.3,385.7" fill="#ff3610" stroke="#6b1707" stroke-width="0.75" stroke-linejoin="round"/>
<polygon points="451.8,405 442,398.1 447,393.1 456.7,399.8" fill="#ffaf0c" stroke="#6b4a05" stroke-width="0.75" stroke-linejoin="round"/>
<polygon points="427.2,396.3 417.3,390.6 422.4,386.4 432.2,391.9" fill="#ff690e" stroke="#6b2c06" stroke-width="0.75" stroke-linejoin="round"/>
<polygon points="241.7,400 231.6,404.9 237.5,404.2 247.5,399.1" fill="#ffc407" stroke="#6b5203" stroke-width="0.75" stroke-linejoin="round"/>
<polygon points="309.7,384.3 299.5,385.1 305.1,383.4 315.3,382.5" fill="#ff200f" stroke="#6b0d06" stroke-width="0.75" stroke-linejoin="round"/>
<polygon points="335.7,383.2 325.5,382.4 331,380.2 341.1,380.9" fill="#ff1111" stroke="#6b0707" stroke-width="0.75" stroke-linejoin="round"/>
<polygon points="267.8,391.8 257.6,395 263.4,393.9 273.5,390.6" fill="#ff690a" stroke="#6b2c04" stroke-width="0.75" stroke-linejoin="round"/>
<polygon points="361.4,384.7 351.3,382.4 356.7,379.7 366.8,381.9" fill="#ff1111" stroke="#6b0707" stroke-width="0.75" stroke-linejoin="round"/>
<polygon points="387,388.6 376.9,384.8 382.1,381.6 392.2,385.2" fill="#ff2510" stroke="#6b1007" stroke-width="0.75" stroke-linejoin="round"/>
<polygon points="485.5,424.1 476,415.4 480.8,409.5 490.3,418" fill="#b6f208" stroke="#4c6604" stroke-width="0.75" stroke-linejoin="round"/>
<polygon points="293.9,386.7 283.7,388.2 289.4,386.8 299.5,385.1" fill="#ff2e0d" stroke="#6b1305" stroke-width="0.75" stroke-linejoin="round"/>
<polygon points="412.2,394.7 402.2,389.5 407.3,385.7 417.3,390.6" fill="#ff510e" stroke="#6b2206" stroke-width="0.75" stroke-linejoin="round"/>
<polygon points="461.5,412.6 451.8,405 456.7,399.8 466.4,407.3" fill="#ffe40a" stroke="#6b6004" stroke-width="0.75" stroke-linejoin="round"/>
<polygon points="437,402.7 427.2,396.3 432.2,391.9 442,398.1" fill="#ff910c" stroke="#6b3d05" stroke-width="0.75" stroke-linejoin="round"/>
<polygon points="251.8,396 241.7,400 247.5,399.1 257.6,395" fill="#ff8a08" stroke="#6b3a04" stroke-width="0.75" stroke-linejoin="round"/>
<polygon points="320,384.4 309.7,384.3 315.3,382.5 325.5,382.4" fill="#ff0f0f" stroke="#6b0606" stroke-width="0.75" stroke-linejoin="round"/>
<polygon points="345.9,384.9 335.7,383.2 341.1,380.9 351.3,382.4" fill="#ff1010" stroke="#6b0707" stroke-width="0.75" stroke-linejoin="round"/>
<polygon points="278,389.5 267.8,391.8 273.5,390.6 283.7,388.2" fill="#ff410b" stroke="#6b1b05" stroke-width="0.75" stroke-linejoin="round"/>
<polygon points="371.6,387.9 361.4,384.7 366.8,381.9 376.9,384.8" fill="#ff170f" stroke="#6b0a06" stroke-width="0.75" stroke-linejoin="round"/>
<polygon points="235.8,400.7 225.7,405.6 231.6,404.9 241.7,400" fill="#ffb207" stroke="#6b4b03" stroke-width="0.75" stroke-linejoin="round"/>
<polygon points="397,393.1 387,388.6 392.2,385.2 402.2,389.5" fill="#ff3b0e" stroke="#6b1906" stroke-width="0.75" stroke-linejoin="round"/>
<polygon points="471.1,421 461.5,412.6 466.4,407.3 476,415.4" fill="#dff908" stroke="#5d6903" stroke-width="0.75" stroke-linejoin="round"/>
<polygon points="422.1,400.6 412.2,394.7 417.3,390.6 427.2,396.3" fill="#ff740c" stroke="#6b3105" stroke-width="0.75" stroke-linejoin="round"/>
<polygon points="446.8,409.9 437,402.7 442,398.1 451.8,405" fill="#ffc10a" stroke="#6b5104" stroke-width="0.75" stroke-linejoin="round"/>
<polygon points="304.2,386 293.9,386.7 299.5,385.1 309.7,384.3" fill="#ff160e" stroke="#6b0906" stroke-width="0.75" stroke-linejoin="round"/>
<polygon points="262,392.9 251.8,396 257.6,395 267.8,391.8" fill="#ff5a09" stroke="#6b2604" stroke-width="0.75" stroke-linejoin="round"/>
<polygon points="330.2,385.4 320,384.4 325.5,382.4 335.7,383.2" fill="#ff0f0f" stroke="#6b0606" stroke-width="0.75" stroke-linejoin="round"/>
<polygon points="356.1,387.4 345.9,384.9 351.3,382.4 361.4,384.7" fill="#ff0f0f" stroke="#6b0606" stroke-width="0.75" stroke-linejoin="round"/>
<polygon points="288.3,388.1 278,389.5 283.7,388.2 293.9,386.7" fill="#ff220c" stroke="#6b0e05" stroke-width="0.75" stroke-linejoin="round"/>
<polygon points="381.7,391.8 371.6,387.9 376.9,384.8 387,388.6" fill="#ff270d" stroke="#6b1006" stroke-width="0.75" stroke-linejoin="round"/>
<polygon points="407.1,398.5 397,393.1 402.2,389.5 412.2,394.7" fill="#ff580b" stroke="#6b2505" stroke-width="0.75" stroke-linejoin="round"/>
<polygon points="480.7,430 471.1,421 476,415.4 485.5,424.1" fill="#9cee07" stroke="#426403" stroke-width="0.75" stroke-linejoin="round"/>
<polygon points="432,407.2 422.1,400.6 427.2,396.3 437,402.7" fill="#ff9e0a" stroke="#6b4204" stroke-width="0.75" stroke-linejoin="round"/>
<polygon points="456.6,417.8 446.8,409.9 451.8,405 461.5,412.6" fill="#fff708" stroke="#6b6803" stroke-width="0.75" stroke-linejoin="round"/>
<polygon points="246,396.8 235.8,400.7 241.7,400 251.8,396" fill="#ff7908" stroke="#6b3303" stroke-width="0.75" stroke-linejoin="round"/>
<polygon points="314.5,386.3 304.2,386 309.7,384.3 320,384.4" fill="#ff0e0e" stroke="#6b0606" stroke-width="0.75" stroke-linejoin="round"/>
<polygon points="340.5,387.2 330.2,385.4 335.7,383.2 345.9,384.9" fill="#ff0e0e" stroke="#6b0606" stroke-width="0.75" stroke-linejoin="round"/>
<polygon points="272.3,390.7 262,392.9 267.8,391.8 278,389.5" fill="#ff330a" stroke="#6b1604" stroke-width="0.75" stroke-linejoin="round"/>
<polygon points="229.9,401.4 219.8,406.1 225.7,405.6 235.8,400.7" fill="#ff9f07" stroke="#6b4303" stroke-width="0.75" stroke-linejoin="round"/>
<polygon points="366.3,390.7 356.1,387.4 361.4,384.7 371.6,387.9" fill="#ff160d" stroke="#6b0906" stroke-width="0.75" stroke-linejoin="round"/>
<polygon points="391.9,396.5 381.7,391.8 387,388.6 397,393.1" fill="#ff3f0b" stroke="#6b1a05" stroke-width="0.75" stroke-linejoin="round"/>
<polygon points="298.6,387.6 288.3,388.1 293.9,386.7 304.2,386" fill="#ff0c0c" stroke="#6b0505" stroke-width="0.75" stroke-linejoin="round"/>
<polygon points="417.1,404.6 407.1,398.5 412.2,394.7 422.1,400.6" fill="#ff7d0a" stroke="#6b3504" stroke-width="0.75" stroke-linejoin="round"/>
<polygon points="466.3,426.3 456.6,417.8 461.5,412.6 471.1,421" fill="#c9f607" stroke="#556703" stroke-width="0.75" stroke-linejoin="round"/>
<polygon points="441.9,414.6 432,407.2 437,402.7 446.8,409.9" fill="#ffd008" stroke="#6b5703" stroke-width="0.75" stroke-linejoin="round"/>
<polygon points="256.3,393.8 246,396.8 251.8,396 262,392.9" fill="#ff4a09" stroke="#6b1f04" stroke-width="0.75" stroke-linejoin="round"/>
<polygon points="324.8,387.4 314.5,386.3 320,384.4 330.2,385.4" fill="#ff0d0d" stroke="#6b0606" stroke-width="0.75" stroke-linejoin="round"/>
<polygon points="350.8,389.9 340.5,387.2 345.9,384.9 356.1,387.4" fill="#ff0d0d" stroke="#6b0505" stroke-width="0.75" stroke-linejoin="round"/>
<polygon points="282.7,389.4 272.3,390.7 278,389.5 288.3,388.1" fill="#ff150b" stroke="#6b0905" stroke-width="0.75" stroke-linejoin="round"/>
<polygon points="376.5,394.8 366.3,390.7 371.6,387.9 381.7,391.8" fill="#ff270b" stroke="#6b1105" stroke-width="0.75" stroke-linejoin="round"/>
<polygon points="240.2,397.6 229.9,401.4 235.8,400.7 246,396.8" fill="#ff6708" stroke="#6b2b03" stroke-width="0.75" stroke-linejoin="round"/>
<polygon points="402,402.1 391.9,396.5 397,393.1 407.1,398.5" fill="#ff5e0a" stroke="#6b2704" stroke-width="0.75" stroke-linejoin="round"/>
<polygon points="309,388 298.6,387.6 304.2,386 314.5,386.3" fill="#ff0c0c" stroke="#6b0505" stroke-width="0.75" stroke-linejoin="round"/>
<polygon points="427.1,411.4 417.1,404.6 422.1,400.6 432,407.2" fill="#ffa908" stroke="#6b4703" stroke-width="0.75" stroke-linejoin="round"/>
<polygon points="475.9,435.6 466.3,426.3 471.1,421 480.7,430" fill="#85ea06" stroke="#386202" stroke-width="0.75" stroke-linejoin="round"/>
<polygon points="451.7,422.7 441.9,414.6 446.8,409.9 456.6,417.8" fill="#f6fd07" stroke="#676a03" stroke-width="0.75" stroke-linejoin="round"/>
<polygon points="266.6,391.8 256.3,393.8 262,392.9 272.3,390.7" fill="#ff240a" stroke="#6b0f04" stroke-width="0.75" stroke-linejoin="round"/>
<polygon points="335.1,389.4 324.8,387.4 330.2,385.4 340.5,387.2" fill="#ff0c0c" stroke="#6b0505" stroke-width="0.75" stroke-linejoin="round"/>
<polygon points="224,401.9 213.8,406.6 219.8,406.1 229.9,401.4" fill="#ff8b07" stroke="#6b3b03" stroke-width="0.75" stroke-linejoin="round"/>
<polygon points="361.1,393.3 350.8,389.9 356.1,387.4 366.3,390.7" fill="#ff130b" stroke="#6b0805" stroke-width="0.75" stroke-linejoin="round"/>
<polygon points="293,389 282.7,389.4 288.3,388.1 298.6,387.6" fill="#ff0b0b" stroke="#6b0505" stroke-width="0.75" stroke-linejoin="round"/>
<polygon points="386.7,399.7 376.5,394.8 381.7,391.8 391.9,396.5" fill="#ff410a" stroke="#6b1b04" stroke-width="0.75" stroke-linejoin="round"/>
<polygon points="250.5,394.7 240.2,397.6 246,396.8 256.3,393.8" fill="#ff3a09" stroke="#6b1804" stroke-width="0.75" stroke-linejoin="round"/>
<polygon points="412,408.4 402,402.1 407.1,398.5 417.1,404.6" fill="#ff8408" stroke="#6b3803" stroke-width="0.75" stroke-linejoin="round"/>
<polygon points="437,419 427.1,411.4 432,407.2 441.9,414.6" fill="#ffdd07" stroke="#6b5d03" stroke-width="0.75" stroke-linejoin="round"/>
<polygon points="461.5,431.5 451.7,422.7 456.6,417.8 466.3,426.3" fill="#b7f206" stroke="#4d6602" stroke-width="0.75" stroke-linejoin="round"/>
<polygon points="319.4,389.2 309,388 314.5,386.3 324.8,387.4" fill="#ff0c0c" stroke="#6b0505" stroke-width="0.75" stroke-linejoin="round"/>
<polygon points="345.5,392.2 335.1,389.4 340.5,387.2 350.8,389.9" fill="#ff0b0b" stroke="#6b0505" stroke-width="0.75" stroke-linejoin="round"/>
<polygon points="277,390.6 266.6,391.8 272.3,390.7 282.7,389.4" fill="#ff0a0a" stroke="#6b0404" stroke-width="0.75" stroke-linejoin="round"/>
<polygon points="234.4,398.2 224,401.9 229.9,401.4 240.2,397.6" fill="#ff5507" stroke="#6b2403" stroke-width="0.75" stroke-linejoin="round"/>
<polygon points="371.3,397.6 361.1,393.3 366.3,390.7 376.5,394.8" fill="#ff260a" stroke="#6b1004" stroke-width="0.75" stroke-linejoin="round"/>
<polygon points="303.5,389.6 293,389 298.6,387.6 309,388" fill="#ff0b0b" stroke="#6b0505" stroke-width="0.75" stroke-linejoin="round"/>
<polygon points="396.9,405.4 386.7,399.7 391.9,396.5 402,402.1" fill="#ff6208" stroke="#6b2903" stroke-width="0.75" stroke-linejoin="round"/>
<polygon points="422.1,415.4 412,408.4 417.1,404.6 427.1,411.4" fill="#ffb207" stroke="#6b4b03" stroke-width="0.75" stroke-linejoin="round"/>
<polygon points="446.8,427.3 437,419 441.9,414.6 451.7,422.7" fill="#e7fb06" stroke="#616902" stroke-width="0.75" stroke-linejoin="round"/>
<polygon points="471.2,441 461.5,431.5 466.3,426.3 475.9,435.6" fill="#71e605" stroke="#2f6102" stroke-width="0.75" stroke-linejoin="round"/>
<polygon points="260.9,392.7 250.5,394.7 256.3,393.8 266.6,391.8" fill="#ff1509" stroke="#6b0904" stroke-width="0.75" stroke-linejoin="round"/>
<polygon points="329.7,391.3 319.4,389.2 324.8,387.4 335.1,389.4" fill="#ff0b0b" stroke="#6b0505" stroke-width="0.75" stroke-linejoin="round"/>
<polygon points="355.8,395.8 345.5,392.2 350.8,389.9 361.1,393.3" fill="#ff0f0a" stroke="#6b0604" stroke-width="0.75" stroke-linejoin="round"/>
<polygon points="287.5,390.3 277,390.6 282.7,389.4 293,389" fill="#ff0a0a" stroke="#6b0404" stroke-width="0.75" stroke-linejoin="round"/>
<polygon points="244.7,395.4 234.4,398.2 240.2,397.6 250.5,394.7" fill="#ff2808" stroke="#6b1103" stroke-width="0.75" stroke-linejoin="round"/>
<polygon points="381.6,402.7 371.3,397.6 376.5,394.8 386.7,399.7" fill="#ff4108" stroke="#6b1b04" stroke-width="0.75" stroke-linejoin="round"/>
<polygon points="407,411.9 396.9,405.4 402,402.1 412,408.4" fill="#ff8a07" stroke="#6b3a03" stroke-width="0.75" stroke-linejoin="round"/>
<polygon points="313.9,390.9 303.5,389.6 309,388 319.4,389.2" fill="#ff0b0b" stroke="#6b0505" stroke-width="0.75" stroke-linejoin="round"/>
<polygon points="432.1,423.2 422.1,415.4 427.1,411.4 437,419" fill="#ffe706" stroke="#6b6102" stroke-width="0.75" stroke-linejoin="round"/>
<polygon points="456.7,436.3 446.8,427.3 451.7,422.7 461.5,431.5" fill="#a6ef05" stroke="#466502" stroke-width="0.75" stroke-linejoin="round"/>
<polygon points="271.4,391.7 260.9,392.7 266.6,391.8 277,390.6" fill="#ff0a0a" stroke="#6b0404" stroke-width="0.75" stroke-linejoin="round"/>
<polygon points="340.2,394.3 329.7,391.3 335.1,389.4 345.5,392.2" fill="#ff0a0a" stroke="#6b0404" stroke-width="0.75" stroke-linejoin="round"/>
<polygon points="366.1,400.3 355.8,395.8 361.1,393.3 371.3,397.6" fill="#ff2409" stroke="#6b0f04" stroke-width="0.75" stroke-linejoin="round"/>
<polygon points="297.9,391 287.5,390.3 293,389 303.5,389.6" fill="#ff0a0a" stroke="#6b0404" stroke-width="0.75" stroke-linejoin="round"/>
<polygon points="391.8,408.6 381.6,402.7 386.7,399.7 396.9,405.4" fill="#ff6407" stroke="#6b2a03" stroke-width="0.75" stroke-linejoin="round"/>
<polygon points="255.2,393.6 244.7,395.4 250.5,394.7 260.9,392.7" fill="#ff0909" stroke="#6b0404" stroke-width="0.75" stroke-linejoin="round"/>
<polygon points="417.1,419.2 407,411.9 412,408.4 422.1,415.4" fill="#ffb906" stroke="#6b4e02" stroke-width="0.75" stroke-linejoin="round"/>
<polygon points="442,431.7 432.1,423.2 437,419 446.8,427.3" fill="#dbf905" stroke="#5c6802" stroke-width="0.75" stroke-linejoin="round"/>
<polygon points="324.4,393.2 313.9,390.9 319.4,389.2 329.7,391.3" fill="#ff0a0a" stroke="#6b0404" stroke-width="0.75" stroke-linejoin="round"/>
<polygon points="466.4,446.1 456.7,436.3 461.5,431.5 471.2,441" fill="#5fe304" stroke="#285f02" stroke-width="0.75" stroke-linejoin="round"/>
<polygon points="281.9,391.6 271.4,391.7 277,390.6 287.5,390.3" fill="#ff0a0a" stroke="#6b0404" stroke-width="0.75" stroke-linejoin="round"/>
<polygon points="350.5,398.1 340.2,394.3 345.5,392.2 355.8,395.8" fill="#ff0a09" stroke="#6b0404" stroke-width="0.75" stroke-linejoin="round"/>
<polygon points="376.5,405.6 366.1,400.3 371.3,397.6 381.6,402.7" fill="#ff4007" stroke="#6b1b03" stroke-width="0.75" stroke-linejoin="round"/>
<polygon points="308.4,392.5 297.9,391 303.5,389.6 313.9,390.9" fill="#ff0a0a" stroke="#6b0404" stroke-width="0.75" stroke-linejoin="round"/>
<polygon points="402,415.3 391.8,408.6 396.9,405.4 407,411.9" fill="#ff8e06" stroke="#6b3c02" stroke-width="0.75" stroke-linejoin="round"/>
<polygon points="427.2,427.2 417.1,419.2 422.1,415.4 432.1,423.2" fill="#fff005" stroke="#6b6502" stroke-width="0.75" stroke-linejoin="round"/>
<polygon points="265.7,392.7 255.2,393.6 260.9,392.7 271.4,391.7" fill="#ff0909" stroke="#6b0404" stroke-width="0.75" stroke-linejoin="round"/>
<polygon points="451.9,441 442,431.7 446.8,427.3 456.7,436.3" fill="#98ed04" stroke="#406302" stroke-width="0.75" stroke-linejoin="round"/>
<polygon points="334.8,396.3 324.4,393.2 329.7,391.3 340.2,394.3" fill="#ff0909" stroke="#6b0404" stroke-width="0.75" stroke-linejoin="round"/>
<polygon points="360.9,402.8 350.5,398.1 355.8,395.8 366.1,400.3" fill="#ff2007" stroke="#6b0e03" stroke-width="0.75" stroke-linejoin="round"/>
<polygon points="292.4,392.3 281.9,391.6 287.5,390.3 297.9,391" fill="#ff0a0a" stroke="#6b0404" stroke-width="0.75" stroke-linejoin="round"/>
<polygon points="386.7,411.7 376.5,405.6 381.6,402.7 391.8,408.6" fill="#ff6406" stroke="#6b2a02" stroke-width="0.75" stroke-linejoin="round"/>
<polygon points="412.2,422.8 402,415.3 407,411.9 417.1,419.2" fill="#ffbf05" stroke="#6b5002" stroke-width="0.75" stroke-linejoin="round"/>
<polygon points="319,394.9 308.4,392.5 313.9,390.9 324.4,393.2" fill="#ff0909" stroke="#6b0404" stroke-width="0.75" stroke-linejoin="round"/>
<polygon points="437.1,436 427.2,427.2 432.1,423.2 442,431.7" fill="#d0f704" stroke="#586802" stroke-width="0.75" stroke-linejoin="round"/>
<polygon points="461.7,451 451.9,441 456.7,436.3 466.4,446.1" fill="#4fe003" stroke="#215e01" stroke-width="0.75" stroke-linejoin="round"/>
<polygon points="276.3,392.7 265.7,392.7 271.4,391.7 281.9,391.6" fill="#ff0909" stroke="#6b0404" stroke-width="0.75" stroke-linejoin="round"/>
<polygon points="345.3,400.3 334.8,396.3 340.2,394.3 350.5,398.1" fill="#ff0808" stroke="#6b0303" stroke-width="0.75" stroke-linejoin="round"/>
<polygon points="371.3,408.2 360.9,402.8 366.1,400.3 376.5,405.6" fill="#ff3e06" stroke="#6b1a03" stroke-width="0.75" stroke-linejoin="round"/>
<polygon points="303,394 292.4,392.3 297.9,391 308.4,392.5" fill="#ff0909" stroke="#6b0404" stroke-width="0.75" stroke-linejoin="round"/>
<polygon points="397,418.5 386.7,411.7 391.8,408.6 402,415.3" fill="#ff9005" stroke="#6b3c02" stroke-width="0.75" stroke-linejoin="round"/>
<polygon points="422.3,431 412.2,422.8 417.1,419.2 427.2,427.2" fill="#fff704" stroke="#6b6802" stroke-width="0.75" stroke-linejoin="round"/>
<polygon points="329.5,398.2 319,394.9 324.4,393.2 334.8,396.3" fill="#ff0808" stroke="#6b0303" stroke-width="0.75" stroke-linejoin="round"/>
<polygon points="447.1,445.5 437.1,436 442,431.7 451.9,441" fill="#8ceb03" stroke="#3b6301" stroke-width="0.75" stroke-linejoin="round"/>
<polygon points="286.9,393.6 276.3,392.7 281.9,391.6 292.4,392.3" fill="#ff0909" stroke="#6b0404" stroke-width="0.75" stroke-linejoin="round"/>
<polygon points="355.7,405.1 345.3,400.3 350.5,398.1 360.9,402.8" fill="#ff1b06" stroke="#6b0b03" stroke-width="0.75" stroke-linejoin="round"/>
<polygon points="381.7,414.5 371.3,408.2 376.5,405.6 386.7,411.7" fill="#ff6405" stroke="#6b2a02" stroke-width="0.75" stroke-linejoin="round"/>
<polygon points="313.6,396.5 303,394 308.4,392.5 319,394.9" fill="#ff0808" stroke="#6b0303" stroke-width="0.75" stroke-linejoin="round"/>
<polygon points="407.2,426.2 397,418.5 402,415.3 412.2,422.8" fill="#ffc204" stroke="#6b5202" stroke-width="0.75" stroke-linejoin="round"/>
<polygon points="432.3,440 422.3,431 427.2,427.2 437.1,436" fill="#c8f503" stroke="#546701" stroke-width="0.75" stroke-linejoin="round"/>
<polygon points="456.9,455.7 447.1,445.5 451.9,441 461.7,451" fill="#42de03" stroke="#1c5d01" stroke-width="0.75" stroke-linejoin="round"/>
<polygon points="340,402.3 329.5,398.2 334.8,396.3 345.3,400.3" fill="#ff0707" stroke="#6b0303" stroke-width="0.75" stroke-linejoin="round"/>
<polygon points="297.5,395.4 286.9,393.6 292.4,392.3 303,394" fill="#ff0808" stroke="#6b0303" stroke-width="0.75" stroke-linejoin="round"/>
<polygon points="366.2,410.7 355.7,405.1 360.9,402.8 371.3,408.2" fill="#ff3b05" stroke="#6b1902" stroke-width="0.75" stroke-linejoin="round"/>
<polygon points="392,421.6 381.7,414.5 386.7,411.7 397,418.5" fill="#ff9004" stroke="#6b3d02" stroke-width="0.75" stroke-linejoin="round"/>
<polygon points="324.1,400 313.6,396.5 319,394.9 329.5,398.2" fill="#ff0707" stroke="#6b0303" stroke-width="0.75" stroke-linejoin="round"/>
<polygon points="417.4,434.6 407.2,426.2 412.2,422.8 422.3,431" fill="#fffc03" stroke="#6b6a01" stroke-width="0.75" stroke-linejoin="round"/>
<polygon points="442.3,449.7 432.3,440 437.1,436 447.1,445.5" fill="#83e903" stroke="#376201" stroke-width="0.75" stroke-linejoin="round"/>
<polygon points="350.5,407.3 340,402.3 345.3,400.3 355.7,405.1" fill="#ff1506" stroke="#6b0902" stroke-width="0.75" stroke-linejoin="round"/>
<polygon points="376.6,417.2 366.2,410.7 371.3,408.2 381.7,414.5" fill="#ff6104" stroke="#6b2902" stroke-width="0.75" stroke-linejoin="round"/>
<polygon points="308.1,398 297.5,395.4 303,394 313.6,396.5" fill="#ff0707" stroke="#6b0303" stroke-width="0.75" stroke-linejoin="round"/>
<polygon points="402.2,429.4 392,421.6 397,418.5 407.2,426.2" fill="#ffc403" stroke="#6b5201" stroke-width="0.75" stroke-linejoin="round"/>
<polygon points="427.5,443.8 417.4,434.6 422.3,431 432.3,440" fill="#c2f403" stroke="#516701" stroke-width="0.75" stroke-linejoin="round"/>
<polygon points="334.7,404.2 324.1,400 329.5,398.2 340,402.3" fill="#ff0606" stroke="#6b0303" stroke-width="0.75" stroke-linejoin="round"/>
<polygon points="452.2,460.1 442.3,449.7 447.1,445.5 456.9,455.7" fill="#37dc02" stroke="#175c01" stroke-width="0.75" stroke-linejoin="round"/>
<polygon points="361,413.1 350.5,407.3 355.7,405.1 366.2,410.7" fill="#ff3605" stroke="#6b1702" stroke-width="0.75" stroke-linejoin="round"/>
<polygon points="387,424.4 376.6,417.2 381.7,414.5 392,421.6" fill="#ff9004" stroke="#6b3c01" stroke-width="0.75" stroke-linejoin="round"/>
<polygon points="318.8,401.6 308.1,398 313.6,396.5 324.1,400" fill="#ff0606" stroke="#6b0303" stroke-width="0.75" stroke-linejoin="round"/>
<polygon points="412.5,438.1 402.2,429.4 407.2,426.2 417.4,434.6" fill="#ffff03" stroke="#6b6b01" stroke-width="0.75" stroke-linejoin="round"/>
<polygon points="437.5,453.7 427.5,443.8 432.3,440 442.3,449.7" fill="#7be802" stroke="#346101" stroke-width="0.75" stroke-linejoin="round"/>
<polygon points="345.3,409.4 334.7,404.2 340,402.3 350.5,407.3" fill="#ff0e05" stroke="#6b0602" stroke-width="0.75" stroke-linejoin="round"/>
<polygon points="371.5,419.7 361,413.1 366.2,410.7 376.6,417.2" fill="#ff5e04" stroke="#6b2702" stroke-width="0.75" stroke-linejoin="round"/>
<polygon points="397.3,432.5 387,424.4 392,421.6 402.2,429.4" fill="#ffc503" stroke="#6b5301" stroke-width="0.75" stroke-linejoin="round"/>
<polygon points="329.5,406 318.8,401.6 324.1,400 334.7,404.2" fill="#ff0505" stroke="#6b0202" stroke-width="0.75" stroke-linejoin="round"/>
<polygon points="422.6,447.5 412.5,438.1 417.4,434.6 427.5,443.8" fill="#bdf302" stroke="#4f6601" stroke-width="0.75" stroke-linejoin="round"/>
<polygon points="447.5,464.4 437.5,453.7 442.3,449.7 452.2,460.1" fill="#2eda02" stroke="#135c01" stroke-width="0.75" stroke-linejoin="round"/>
<polygon points="355.9,415.3 345.3,409.4 350.5,407.3 361,413.1" fill="#ff3004" stroke="#6b1402" stroke-width="0.75" stroke-linejoin="round"/>
<polygon points="381.9,427.2 371.5,419.7 376.6,417.2 387,424.4" fill="#ff8d03" stroke="#6b3b01" stroke-width="0.75" stroke-linejoin="round"/>
<polygon points="407.6,441.3 397.3,432.5 402.2,429.4 412.5,438.1" fill="#fdff02" stroke="#6a6b01" stroke-width="0.75" stroke-linejoin="round"/>
<polygon points="340.1,411.3 329.5,406 334.7,404.2 345.3,409.4" fill="#ff0605" stroke="#6b0302" stroke-width="0.75" stroke-linejoin="round"/>
<polygon points="432.8,457.6 422.6,447.5 427.5,443.8 437.5,453.7" fill="#75e702" stroke="#316101" stroke-width="0.75" stroke-linejoin="round"/>
<polygon points="366.4,422.2 355.9,415.3 361,413.1 371.5,419.7" fill="#ff5903" stroke="#6b2601" stroke-width="0.75" stroke-linejoin="round"/>
<polygon points="392.3,435.4 381.9,427.2 387,424.4 397.3,432.5" fill="#ffc402" stroke="#6b5201" stroke-width="0.75" stroke-linejoin="round"/>
<polygon points="417.8,450.9 407.6,441.3 412.5,438.1 422.6,447.5" fill="#baf302" stroke="#4e6601" stroke-width="0.75" stroke-linejoin="round"/>
<polygon points="442.8,468.5 432.8,457.6 437.5,453.7 447.5,464.4" fill="#27d901" stroke="#105b01" stroke-width="0.75" stroke-linejoin="round"/>
<polygon points="350.7,417.5 340.1,411.3 345.3,409.4 355.9,415.3" fill="#ff2904" stroke="#6b1102" stroke-width="0.75" stroke-linejoin="round"/>
<polygon points="376.9,429.8 366.4,422.2 371.5,419.7 381.9,427.2" fill="#ff8a03" stroke="#6b3a01" stroke-width="0.75" stroke-linejoin="round"/>
<polygon points="402.7,444.5 392.3,435.4 397.3,432.5 407.6,441.3" fill="#fcff02" stroke="#6a6b01" stroke-width="0.75" stroke-linejoin="round"/>
<polygon points="428,461.3 417.8,450.9 422.6,447.5 432.8,457.6" fill="#71e602" stroke="#2f6101" stroke-width="0.75" stroke-linejoin="round"/>
<polygon points="361.3,424.5 350.7,417.5 355.9,415.3 366.4,422.2" fill="#ff5403" stroke="#6b2301" stroke-width="0.75" stroke-linejoin="round"/>
<polygon points="387.4,438.2 376.9,429.8 381.9,427.2 392.3,435.4" fill="#ffc202" stroke="#6b5101" stroke-width="0.75" stroke-linejoin="round"/>
<polygon points="413,454.3 402.7,444.5 407.6,441.3 417.8,450.9" fill="#b8f302" stroke="#4d6601" stroke-width="0.75" stroke-linejoin="round"/>
<polygon points="438.1,472.4 428,461.3 432.8,457.6 442.8,468.5" fill="#21d801" stroke="#0e5b01" stroke-width="0.75" stroke-linejoin="round"/>
<polygon points="371.9,432.3 361.3,424.5 366.4,422.2 376.9,429.8" fill="#ff8602" stroke="#6b3801" stroke-width="0.75" stroke-linejoin="round"/>
<polygon points="397.8,447.5 387.4,438.2 392.3,435.4 402.7,444.5" fill="#fdff02" stroke="#6a6b01" stroke-width="0.75" stroke-linejoin="round"/>
<polygon points="423.2,464.9 413,454.3 417.8,450.9 428,461.3" fill="#6ee501" stroke="#2e6001" stroke-width="0.75" stroke-linejoin="round"/>
<polygon points="382.4,440.9 371.9,432.3 376.9,429.8 387.4,438.2" fill="#ffbf02" stroke="#6b5001" stroke-width="0.75" stroke-linejoin="round"/>
<polygon points="408.2,457.5 397.8,447.5 402.7,444.5 413,454.3" fill="#b8f201" stroke="#4d6601" stroke-width="0.75" stroke-linejoin="round"/>
<polygon points="433.4,476.2 423.2,464.9 428,461.3 438.1,472.4" fill="#1dd701" stroke="#0c5a00" stroke-width="0.75" stroke-linejoin="round"/>
<polygon points="392.9,450.3 382.4,440.9 387.4,438.2 397.8,447.5" fill="#ffff01" stroke="#6b6b01" stroke-width="0.75" stroke-linejoin="round"/>
<polygon points="418.5,468.3 408.2,457.5 413,454.3 423.2,464.9" fill="#6ce501" stroke="#2d6000" stroke-width="0.75" stroke-linejoin="round"/>
<polygon points="403.4,460.5 392.9,450.3 397.8,447.5 408.2,457.5" fill="#b9f301" stroke="#4e6601" stroke-width="0.75" stroke-linejoin="round"/>
<polygon points="428.7,479.8 418.5,468.3 423.2,464.9 433.4,476.2" fill="#1ad701" stroke="#0b5a00" stroke-width="0.75" stroke-linejoin="round"/>
<polygon points="413.7,471.5 403.4,460.5 408.2,457.5 418.5,468.3" fill="#6ce501" stroke="#2d6000" stroke-width="0.75" stroke-linejoin="round"/>
<polygon points="424,483.3 413.7,471.5 418.5,468.3 428.7,479.8" fill="#19d601" stroke="#0b5a00" stroke-width="0.75" stroke-linejoin="round"/>
<circle cx="218.6" cy="496.2" r="1.25" fill="#000"/>
<text x="215.1" y="494.5" font-size="6.3" text-anchor="end" fill="#2a2a2a">50</text>
<circle cx="216.9" cy="465.4" r="1.25" fill="#000"/>
<text x="213.4" y="463.7" font-size="6.3" text-anchor="end" fill="#2a2a2a">60</text>
<circle cx="215.3" cy="434.5" r="1.25" fill="#000"/>
<text x="211.8" y="432.8" font-size="6.3" text-anchor="end" fill="#2a2a2a">70</text>
<circle cx="213.7" cy="403.7" r="1.25" fill="#000"/>
<text x="210.2" y="402" font-size="6.3" text-anchor="end" fill="#2a2a2a">80</text>
<circle cx="212" cy="372.8" r="1.25" fill="#000"/>
<text x="208.5" y="371.1" font-size="6.3" text-anchor="end" fill="#2a2a2a">90</text>
<circle cx="210.4" cy="342" r="1.25" fill="#000"/>
<text x="206.9" y="340.3" font-size="6.3" text-anchor="end" fill="#2a2a2a">100</text>
<circle cx="422.6" cy="591.1" r="1.25" fill="#000"/>
<text x="419.4" y="597.8" font-size="6" text-anchor="end" fill="#2a2a2a">5</text>
<circle cx="422.6" cy="591.1" r="1.25" fill="#000"/>
<text x="426" y="597.5" font-size="6" fill="#2a2a2a">2.5</text>
<circle cx="382.3" cy="581.7" r="1.25" fill="#000"/>
<text x="379.1" y="588.4" font-size="6" text-anchor="end" fill="#2a2a2a">6</text>
<circle cx="440.8" cy="574.7" r="1.25" fill="#000"/>
<text x="444.2" y="581" font-size="6" fill="#2a2a2a">3.5</text>
<circle cx="342" cy="572.3" r="1.25" fill="#000"/>
<text x="338.8" y="579" font-size="6" text-anchor="end" fill="#2a2a2a">7</text>
<circle cx="458.9" cy="558.2" r="1.25" fill="#000"/>
<text x="462.3" y="564.6" font-size="6" fill="#2a2a2a">4.5</text>
<circle cx="301.7" cy="563" r="1.25" fill="#000"/>
<text x="298.5" y="569.6" font-size="6" text-anchor="end" fill="#2a2a2a">8</text>
<circle cx="477.1" cy="541.8" r="1.25" fill="#000"/>
<text x="480.5" y="548.1" font-size="6" fill="#2a2a2a">5.5</text>
<circle cx="261.4" cy="553.6" r="1.25" fill="#000"/>
<text x="258.2" y="560.2" font-size="6" text-anchor="end" fill="#2a2a2a">9</text>
<circle cx="495.2" cy="525.3" r="1.25" fill="#000"/>
<text x="498.6" y="531.7" font-size="6" fill="#2a2a2a">6.5</text>
<circle cx="221.1" cy="544.2" r="1.25" fill="#000"/>
<text x="217.9" y="550.9" font-size="6" text-anchor="end" fill="#2a2a2a">10</text>
<circle cx="513.4" cy="508.9" r="1.25" fill="#000"/>
<text x="516.8" y="515.2" font-size="6" fill="#2a2a2a">7.5</text>
<text x="168.8" y="330" font-size="12.8" font-weight="bold" fill="#000">F.</text>
<text x="0" y="0" font-size="8.4" text-anchor="middle" fill="#2a2a2a" stroke="#2a2a2a" stroke-width="0.15" transform="translate(184.5,440.4) rotate(-90)" dy="2.9">EE (%)</text>
<text x="223.9" y="599.2" font-size="9.4" textLength="101.6" lengthAdjust="spacingAndGlyphs" fill="#2a2a2a" stroke="#2a2a2a" stroke-width="0.15">C: Sonication time (min)</text>
<text x="496.1" y="571.2" font-size="9.4" textLength="64" lengthAdjust="spacingAndGlyphs" fill="#2a2a2a" stroke="#2a2a2a" stroke-width="0.15">B: tween80 (%)</text>
<circle cx="213.8" cy="409.6" r="3.2" fill="#f6c4c4" stroke="#b08080" stroke-width="0.5"/>
<circle cx="424.1" cy="487" r="3.2" fill="#f6c4c4" stroke="#b08080" stroke-width="0.5"/>
<circle cx="372.1" cy="375" r="3" fill="#a80000" stroke="#4a0000" stroke-width="0.6"/>
<circle cx="519.6" cy="373.3" r="3" fill="#a80000" stroke="#4a0000" stroke-width="0.6"/>
<circle cx="330.8" cy="367.3" r="3" fill="#a80000" stroke="#4a0000" stroke-width="0.6"/>
</svg>
</body></html>
